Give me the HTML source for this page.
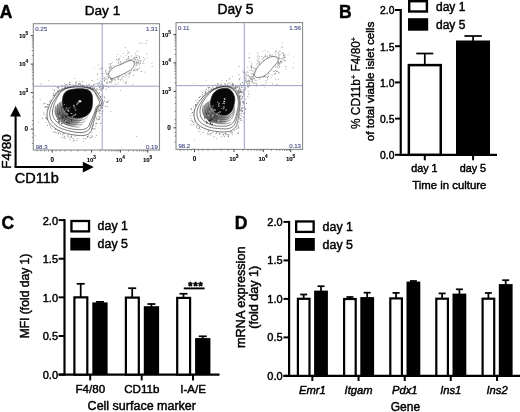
<!DOCTYPE html>
<html><head><meta charset="utf-8"><style>
html,body{margin:0;padding:0;background:#fff;}
body{width:520px;height:412px;position:relative;overflow:hidden;font-family:"Liberation Sans",sans-serif;}
</style></head><body>
<svg width="520" height="412" viewBox="0 0 520 412" style="position:absolute;left:0;top:0;will-change:transform">
<g font-family='"Liberation Sans", sans-serif'>
<text x="-0.3" y="18.2" font-size="17.5" text-anchor="start" font-weight="bold" font-style="normal" fill="#000" stroke="#000" stroke-width="0.45" stroke-linejoin="round" >A</text>
<text x="102.5" y="14.8" font-size="13.6" text-anchor="middle" font-weight="normal" font-style="normal" fill="#000" stroke="#000" stroke-width="0.45" stroke-linejoin="round" >Day 1</text>
<text x="235.5" y="13.8" font-size="13.8" text-anchor="middle" font-weight="normal" font-style="normal" fill="#000" stroke="#000" stroke-width="0.45" stroke-linejoin="round" >Day 5</text>
<rect x="60.76" y="85.9" width="0.8" height="0.8" fill="#777"/>
<rect x="88.88" y="86.1" width="0.8" height="0.8" fill="#777"/>
<rect x="65.64" y="84.97" width="0.7" height="0.7" fill="#777"/>
<rect x="101.39" y="87.65" width="0.9" height="0.9" fill="#777"/>
<rect x="91.9" y="86.49" width="0.9" height="0.9" fill="#777"/>
<rect x="77.17" y="86.08" width="0.9" height="0.9" fill="#777"/>
<rect x="64.33" y="86.73" width="0.8" height="0.8" fill="#777"/>
<rect x="70.87" y="136.74" width="0.8" height="0.8" fill="#777"/>
<rect x="64.6" y="86.76" width="1.0" height="1.0" fill="#777"/>
<rect x="81.82" y="81.35" width="1.0" height="1.0" fill="#777"/>
<rect x="61.79" y="134.6" width="0.7" height="0.7" fill="#777"/>
<rect x="81.98" y="86.14" width="0.8" height="0.8" fill="#777"/>
<rect x="100.8" y="106.97" width="1.0" height="1.0" fill="#777"/>
<rect x="67.95" y="133.99" width="0.8" height="0.8" fill="#777"/>
<rect x="57.67" y="90.22" width="0.7" height="0.7" fill="#777"/>
<rect x="101.55" y="95.73" width="1.0" height="1.0" fill="#777"/>
<rect x="95.87" y="135.04" width="0.8" height="0.8" fill="#777"/>
<rect x="105.24" y="105.94" width="0.7" height="0.7" fill="#777"/>
<rect x="58.74" y="86.16" width="0.8" height="0.8" fill="#777"/>
<rect x="91.49" y="132.6" width="0.8" height="0.8" fill="#777"/>
<rect x="107.23" y="106.1" width="0.8" height="0.8" fill="#777"/>
<rect x="90.53" y="85.61" width="1.0" height="1.0" fill="#777"/>
<rect x="90.94" y="85.23" width="0.7" height="0.7" fill="#777"/>
<rect x="86.99" y="136.1" width="1.0" height="1.0" fill="#777"/>
<rect x="45.55" y="122.04" width="0.7" height="0.7" fill="#777"/>
<rect x="67.51" y="135.07" width="0.8" height="0.8" fill="#777"/>
<rect x="64.77" y="87.72" width="0.8" height="0.8" fill="#777"/>
<rect x="86.29" y="84.15" width="0.7" height="0.7" fill="#777"/>
<rect x="62.56" y="133.5" width="1.0" height="1.0" fill="#777"/>
<rect x="74.76" y="135.72" width="0.8" height="0.8" fill="#777"/>
<rect x="53.86" y="94.99" width="0.9" height="0.9" fill="#777"/>
<rect x="57.6" y="89.79" width="0.7" height="0.7" fill="#777"/>
<rect x="90" y="87.11" width="1.0" height="1.0" fill="#777"/>
<rect x="92.4" y="135.88" width="0.7" height="0.7" fill="#777"/>
<rect x="92.6" y="87.72" width="1.0" height="1.0" fill="#777"/>
<rect x="100.67" y="107.43" width="0.9" height="0.9" fill="#777"/>
<rect x="57.06" y="130.78" width="0.7" height="0.7" fill="#777"/>
<rect x="91.57" y="135.48" width="1.0" height="1.0" fill="#777"/>
<rect x="61.89" y="84.95" width="1.0" height="1.0" fill="#777"/>
<rect x="87.43" y="136" width="0.9" height="0.9" fill="#777"/>
<rect x="66.02" y="84.26" width="0.7" height="0.7" fill="#777"/>
<rect x="96.46" y="90.21" width="0.8" height="0.8" fill="#777"/>
<rect x="46.6" y="118.44" width="0.9" height="0.9" fill="#777"/>
<rect x="99.62" y="111.33" width="0.7" height="0.7" fill="#777"/>
<rect x="98.39" y="118.8" width="1.0" height="1.0" fill="#777"/>
<rect x="98.79" y="108.59" width="0.9" height="0.9" fill="#777"/>
<rect x="87.45" y="85.01" width="1.0" height="1.0" fill="#777"/>
<rect x="95.38" y="125.78" width="0.8" height="0.8" fill="#777"/>
<rect x="53.08" y="94.71" width="0.8" height="0.8" fill="#777"/>
<rect x="64" y="85.62" width="0.7" height="0.7" fill="#777"/>
<rect x="99.58" y="109.68" width="1.0" height="1.0" fill="#777"/>
<rect x="100.49" y="106.34" width="0.9" height="0.9" fill="#777"/>
<rect x="69.89" y="86.37" width="0.9" height="0.9" fill="#777"/>
<rect x="46.17" y="117.69" width="0.9" height="0.9" fill="#777"/>
<rect x="47.16" y="106.05" width="0.8" height="0.8" fill="#777"/>
<rect x="60.15" y="133.31" width="0.9" height="0.9" fill="#777"/>
<rect x="70.73" y="136.43" width="0.7" height="0.7" fill="#777"/>
<rect x="86.65" y="85.77" width="1.0" height="1.0" fill="#777"/>
<rect x="98.16" y="109.19" width="1.0" height="1.0" fill="#777"/>
<rect x="55.41" y="92.63" width="1.0" height="1.0" fill="#777"/>
<rect x="104.33" y="97.52" width="0.9" height="0.9" fill="#777"/>
<rect x="95.96" y="117.64" width="1.0" height="1.0" fill="#777"/>
<rect x="93.17" y="84.15" width="0.9" height="0.9" fill="#777"/>
<rect x="83.71" y="85.09" width="1.0" height="1.0" fill="#777"/>
<rect x="65.37" y="86.48" width="0.7" height="0.7" fill="#777"/>
<rect x="101.05" y="113.68" width="0.7" height="0.7" fill="#777"/>
<rect x="93.5" y="128.54" width="0.9" height="0.9" fill="#777"/>
<rect x="108.1" y="99.77" width="0.7" height="0.7" fill="#777"/>
<rect x="77.3" y="138.23" width="0.8" height="0.8" fill="#777"/>
<rect x="77.93" y="83.51" width="1.0" height="1.0" fill="#777"/>
<rect x="53.12" y="93.27" width="0.9" height="0.9" fill="#777"/>
<rect x="63.34" y="137.2" width="1.0" height="1.0" fill="#777"/>
<rect x="105.38" y="105.94" width="0.8" height="0.8" fill="#777"/>
<rect x="44.05" y="107.28" width="0.7" height="0.7" fill="#777"/>
<rect x="69.69" y="138.88" width="0.9" height="0.9" fill="#777"/>
<rect x="94.6" y="137.27" width="0.7" height="0.7" fill="#777"/>
<rect x="96.59" y="122.7" width="0.9" height="0.9" fill="#777"/>
<rect x="100.63" y="107.33" width="0.9" height="0.9" fill="#777"/>
<rect x="61.74" y="87.71" width="1.0" height="1.0" fill="#777"/>
<rect x="64.56" y="138.2" width="0.8" height="0.8" fill="#777"/>
<rect x="99.38" y="110.07" width="1.0" height="1.0" fill="#777"/>
<rect x="87.49" y="136.99" width="0.7" height="0.7" fill="#777"/>
<rect x="73.76" y="84.98" width="0.9" height="0.9" fill="#777"/>
<rect x="104.4" y="100.44" width="1.0" height="1.0" fill="#777"/>
<rect x="75.81" y="81.22" width="0.7" height="0.7" fill="#777"/>
<rect x="75.15" y="84.15" width="0.7" height="0.7" fill="#777"/>
<rect x="41.82" y="117.98" width="0.9" height="0.9" fill="#777"/>
<rect x="46.35" y="117.35" width="0.8" height="0.8" fill="#777"/>
<rect x="77.56" y="84.86" width="0.9" height="0.9" fill="#777"/>
<rect x="102.83" y="104.62" width="0.9" height="0.9" fill="#777"/>
<rect x="99.12" y="112.91" width="0.9" height="0.9" fill="#777"/>
<rect x="70.41" y="83.88" width="0.8" height="0.8" fill="#777"/>
<rect x="79.42" y="81.19" width="0.7" height="0.7" fill="#777"/>
<rect x="55.79" y="132.43" width="0.9" height="0.9" fill="#777"/>
<rect x="56.86" y="87.29" width="0.8" height="0.8" fill="#777"/>
<rect x="94.45" y="128.28" width="1.0" height="1.0" fill="#777"/>
<rect x="54.09" y="131.29" width="0.7" height="0.7" fill="#777"/>
<rect x="63.58" y="133.21" width="0.9" height="0.9" fill="#777"/>
<rect x="50.41" y="102.6" width="0.7" height="0.7" fill="#777"/>
<rect x="72.69" y="84.63" width="0.7" height="0.7" fill="#777"/>
<rect x="105.9" y="101.93" width="0.8" height="0.8" fill="#777"/>
<rect x="76.19" y="83.22" width="0.9" height="0.9" fill="#777"/>
<rect x="96.32" y="88.87" width="0.9" height="0.9" fill="#777"/>
<rect x="88.82" y="83.57" width="1.0" height="1.0" fill="#777"/>
<rect x="93.86" y="87.62" width="0.9" height="0.9" fill="#777"/>
<rect x="73.12" y="140.56" width="1.0" height="1.0" fill="#777"/>
<rect x="95.41" y="123.41" width="0.7" height="0.7" fill="#777"/>
<rect x="93.14" y="124.87" width="0.9" height="0.9" fill="#777"/>
<rect x="79.14" y="84.12" width="0.7" height="0.7" fill="#777"/>
<rect x="101.99" y="107.73" width="0.7" height="0.7" fill="#777"/>
<rect x="43.51" y="103.1" width="1.0" height="1.0" fill="#777"/>
<rect x="44.91" y="106.93" width="0.8" height="0.8" fill="#777"/>
<rect x="72.56" y="137.98" width="0.9" height="0.9" fill="#777"/>
<rect x="91.34" y="87.6" width="0.9" height="0.9" fill="#777"/>
<rect x="86.7" y="136.26" width="0.7" height="0.7" fill="#777"/>
<rect x="48.91" y="124.37" width="0.9" height="0.9" fill="#777"/>
<rect x="99.48" y="116.23" width="0.8" height="0.8" fill="#777"/>
<rect x="52.78" y="95.7" width="0.8" height="0.8" fill="#777"/>
<rect x="60.81" y="89.23" width="0.9" height="0.9" fill="#777"/>
<rect x="70.81" y="136.39" width="0.9" height="0.9" fill="#777"/>
<rect x="50.41" y="100.59" width="0.7" height="0.7" fill="#777"/>
<rect x="101.81" y="106.61" width="1.0" height="1.0" fill="#777"/>
<rect x="96.83" y="88.32" width="0.7" height="0.7" fill="#777"/>
<rect x="45.71" y="106.22" width="1.0" height="1.0" fill="#777"/>
<rect x="46.2" y="109.46" width="0.7" height="0.7" fill="#777"/>
<rect x="59.06" y="89.59" width="0.8" height="0.8" fill="#777"/>
<rect x="47.19" y="107.4" width="0.9" height="0.9" fill="#777"/>
<rect x="44.94" y="102.99" width="0.7" height="0.7" fill="#777"/>
<rect x="100.27" y="96" width="0.8" height="0.8" fill="#777"/>
<rect x="53.35" y="88.97" width="0.7" height="0.7" fill="#777"/>
<rect x="102.14" y="88.24" width="1.0" height="1.0" fill="#777"/>
<rect x="54.44" y="93.51" width="1.0" height="1.0" fill="#777"/>
<rect x="52.91" y="131.62" width="0.9" height="0.9" fill="#777"/>
<rect x="71.38" y="135.28" width="0.7" height="0.7" fill="#777"/>
<rect x="45.27" y="106.59" width="0.8" height="0.8" fill="#777"/>
<rect x="74.37" y="77.95" width="0.7" height="0.7" fill="#777"/>
<rect x="96.58" y="119.28" width="1.0" height="1.0" fill="#777"/>
<rect x="102.44" y="110.89" width="0.8" height="0.8" fill="#777"/>
<rect x="69.1" y="81.95" width="1.0" height="1.0" fill="#777"/>
<rect x="57.67" y="87.36" width="1.0" height="1.0" fill="#777"/>
<rect x="49.08" y="100.83" width="1.0" height="1.0" fill="#777"/>
<rect x="50.33" y="127.41" width="0.7" height="0.7" fill="#777"/>
<rect x="101.72" y="104.93" width="1.0" height="1.0" fill="#777"/>
<rect x="99" y="87.15" width="0.9" height="0.9" fill="#777"/>
<rect x="55.13" y="94.4" width="0.7" height="0.7" fill="#777"/>
<rect x="43.29" y="113.78" width="0.7" height="0.7" fill="#777"/>
<rect x="58.44" y="132.21" width="0.9" height="0.9" fill="#777"/>
<rect x="67.1" y="84.08" width="0.7" height="0.7" fill="#777"/>
<rect x="99.42" y="112.86" width="0.7" height="0.7" fill="#777"/>
<rect x="68.33" y="136.54" width="1.0" height="1.0" fill="#777"/>
<rect x="88.39" y="135.35" width="0.9" height="0.9" fill="#777"/>
<rect x="51.02" y="128.43" width="0.7" height="0.7" fill="#777"/>
<rect x="90.91" y="136.76" width="0.8" height="0.8" fill="#777"/>
<rect x="58.39" y="133.43" width="0.7" height="0.7" fill="#777"/>
<rect x="47.12" y="103.95" width="1.0" height="1.0" fill="#777"/>
<rect x="82.44" y="85.23" width="0.9" height="0.9" fill="#777"/>
<rect x="55.17" y="131.9" width="0.8" height="0.8" fill="#777"/>
<rect x="71.26" y="136.31" width="0.7" height="0.7" fill="#777"/>
<rect x="58.66" y="90.31" width="0.8" height="0.8" fill="#777"/>
<rect x="64.6" y="135.7" width="0.9" height="0.9" fill="#777"/>
<rect x="68.88" y="84.07" width="1.0" height="1.0" fill="#777"/>
<rect x="98.32" y="118.69" width="1.0" height="1.0" fill="#777"/>
<rect x="93.74" y="85.84" width="0.7" height="0.7" fill="#777"/>
<rect x="53.09" y="94.95" width="1.0" height="1.0" fill="#777"/>
<rect x="98.7" y="92.21" width="1.0" height="1.0" fill="#777"/>
<rect x="73.81" y="139.64" width="0.8" height="0.8" fill="#777"/>
<rect x="95.68" y="123.03" width="1.0" height="1.0" fill="#777"/>
<rect x="82.3" y="85.42" width="1.0" height="1.0" fill="#777"/>
<rect x="46.91" y="119.06" width="1.0" height="1.0" fill="#777"/>
<rect x="93.34" y="84.09" width="1.0" height="1.0" fill="#777"/>
<rect x="107.28" y="101" width="1.0" height="1.0" fill="#777"/>
<rect x="43.39" y="112.3" width="0.7" height="0.7" fill="#777"/>
<rect x="57.93" y="87.6" width="0.8" height="0.8" fill="#777"/>
<rect x="57.46" y="87.06" width="0.9" height="0.9" fill="#777"/>
<rect x="58.09" y="133.08" width="0.8" height="0.8" fill="#777"/>
<rect x="100.39" y="107.99" width="0.7" height="0.7" fill="#777"/>
<rect x="82.54" y="85.63" width="0.9" height="0.9" fill="#777"/>
<rect x="83.14" y="138.21" width="0.8" height="0.8" fill="#777"/>
<rect x="46.94" y="125.09" width="0.9" height="0.9" fill="#777"/>
<rect x="98.73" y="116.58" width="1.0" height="1.0" fill="#777"/>
<rect x="59.53" y="90.75" width="1.0" height="1.0" fill="#777"/>
<rect x="79.94" y="84.7" width="1.0" height="1.0" fill="#777"/>
<rect x="100.17" y="122.83" width="1.0" height="1.0" fill="#777"/>
<rect x="75.16" y="85.05" width="0.9" height="0.9" fill="#777"/>
<rect x="48.15" y="104.12" width="0.8" height="0.8" fill="#777"/>
<rect x="78.7" y="83.02" width="1.0" height="1.0" fill="#777"/>
<rect x="93.83" y="87.72" width="1.0" height="1.0" fill="#777"/>
<rect x="107.01" y="101.82" width="0.9" height="0.9" fill="#777"/>
<rect x="64.12" y="83.1" width="0.7" height="0.7" fill="#777"/>
<rect x="92.14" y="128.09" width="1.0" height="1.0" fill="#777"/>
<rect x="44.46" y="114.13" width="0.8" height="0.8" fill="#777"/>
<rect x="45.21" y="117.51" width="0.9" height="0.9" fill="#777"/>
<rect x="76.27" y="140.17" width="0.9" height="0.9" fill="#777"/>
<rect x="97.46" y="111.2" width="1.0" height="1.0" fill="#777"/>
<rect x="50.14" y="102.65" width="0.7" height="0.7" fill="#777"/>
<rect x="60.76" y="136.72" width="0.9" height="0.9" fill="#777"/>
<rect x="55.96" y="92.17" width="0.7" height="0.7" fill="#777"/>
<rect x="79.99" y="83.24" width="0.9" height="0.9" fill="#777"/>
<rect x="54.01" y="90.25" width="1.0" height="1.0" fill="#777"/>
<rect x="69.41" y="84.11" width="0.8" height="0.8" fill="#777"/>
<rect x="64.24" y="136.55" width="0.8" height="0.8" fill="#777"/>
<rect x="75.32" y="82.16" width="1.0" height="1.0" fill="#777"/>
<rect x="96.72" y="115.68" width="0.7" height="0.7" fill="#777"/>
<rect x="50.85" y="99.64" width="0.8" height="0.8" fill="#777"/>
<rect x="57.1" y="91.04" width="1.0" height="1.0" fill="#777"/>
<rect x="55.07" y="128.92" width="1.0" height="1.0" fill="#777"/>
<rect x="89.88" y="137.18" width="1.0" height="1.0" fill="#777"/>
<rect x="85.24" y="138.18" width="1.0" height="1.0" fill="#777"/>
<rect x="67.18" y="136.69" width="0.7" height="0.7" fill="#777"/>
<rect x="50.37" y="126.24" width="0.8" height="0.8" fill="#777"/>
<rect x="68.08" y="86.27" width="0.8" height="0.8" fill="#777"/>
<rect x="72.25" y="84.73" width="0.7" height="0.7" fill="#777"/>
<rect x="58.13" y="91.24" width="0.9" height="0.9" fill="#777"/>
<rect x="98.57" y="110.58" width="0.8" height="0.8" fill="#777"/>
<rect x="83.08" y="140.95" width="0.7" height="0.7" fill="#777"/>
<rect x="81.72" y="84.77" width="0.9" height="0.9" fill="#777"/>
<rect x="98.93" y="118.29" width="0.8" height="0.8" fill="#777"/>
<rect x="65.22" y="84.4" width="1.0" height="1.0" fill="#777"/>
<rect x="120.13" y="62.44" width="0.9" height="0.9" fill="#888"/>
<rect x="136.05" y="56.96" width="1.0" height="1.0" fill="#888"/>
<rect x="101.29" y="73.29" width="0.8" height="0.8" fill="#888"/>
<rect x="127.27" y="53.27" width="1.0" height="1.0" fill="#888"/>
<rect x="110.47" y="63.02" width="0.9" height="0.9" fill="#888"/>
<rect x="118.59" y="57.87" width="0.9" height="0.9" fill="#888"/>
<rect x="136.68" y="64.49" width="0.7" height="0.7" fill="#888"/>
<rect x="117.58" y="63.03" width="0.8" height="0.8" fill="#888"/>
<rect x="131.49" y="55.31" width="0.8" height="0.8" fill="#888"/>
<rect x="126.08" y="75.23" width="0.8" height="0.8" fill="#888"/>
<rect x="117.97" y="61.92" width="0.8" height="0.8" fill="#888"/>
<rect x="138.37" y="63.06" width="0.9" height="0.9" fill="#888"/>
<rect x="123.89" y="61.39" width="0.7" height="0.7" fill="#888"/>
<rect x="139.86" y="63.01" width="0.8" height="0.8" fill="#888"/>
<rect x="143.01" y="61.17" width="0.8" height="0.8" fill="#888"/>
<rect x="102.66" y="78.25" width="0.8" height="0.8" fill="#888"/>
<rect x="137.61" y="61.72" width="0.9" height="0.9" fill="#888"/>
<rect x="134.52" y="68.7" width="0.9" height="0.9" fill="#888"/>
<rect x="125.97" y="61.16" width="0.9" height="0.9" fill="#888"/>
<rect x="138.57" y="60.36" width="0.7" height="0.7" fill="#888"/>
<rect x="130.17" y="60.42" width="0.9" height="0.9" fill="#888"/>
<rect x="129.52" y="58.76" width="0.9" height="0.9" fill="#888"/>
<rect x="122.93" y="57.24" width="0.7" height="0.7" fill="#888"/>
<rect x="141.91" y="62.7" width="0.8" height="0.8" fill="#888"/>
<rect x="117.59" y="60.39" width="0.9" height="0.9" fill="#888"/>
<rect x="135.23" y="55.52" width="0.7" height="0.7" fill="#888"/>
<rect x="136.19" y="60.68" width="0.8" height="0.8" fill="#888"/>
<rect x="136.33" y="64.86" width="0.9" height="0.9" fill="#888"/>
<rect x="137.01" y="68.52" width="0.9" height="0.9" fill="#888"/>
<rect x="128.24" y="59.61" width="0.9" height="0.9" fill="#888"/>
<rect x="128.31" y="58.2" width="0.9" height="0.9" fill="#888"/>
<rect x="104.69" y="79.25" width="0.8" height="0.8" fill="#888"/>
<rect x="101.47" y="82.7" width="0.9" height="0.9" fill="#888"/>
<rect x="107.14" y="73.32" width="1.0" height="1.0" fill="#888"/>
<rect x="119.46" y="62.52" width="0.7" height="0.7" fill="#888"/>
<rect x="118.27" y="79.22" width="0.9" height="0.9" fill="#888"/>
<rect x="109.15" y="68.36" width="0.7" height="0.7" fill="#888"/>
<rect x="137.03" y="69.92" width="0.9" height="0.9" fill="#888"/>
<rect x="110.04" y="77.94" width="0.9" height="0.9" fill="#888"/>
<rect x="129.18" y="72.56" width="0.8" height="0.8" fill="#888"/>
<rect x="130.82" y="70.25" width="1.0" height="1.0" fill="#888"/>
<rect x="116.14" y="58.92" width="0.8" height="0.8" fill="#888"/>
<rect x="108.58" y="71.25" width="0.8" height="0.8" fill="#888"/>
<rect x="103.9" y="80.9" width="0.7" height="0.7" fill="#888"/>
<rect x="140.84" y="60.08" width="0.8" height="0.8" fill="#888"/>
<rect x="136.32" y="56.75" width="0.9" height="0.9" fill="#888"/>
<rect x="111.01" y="68.57" width="0.9" height="0.9" fill="#888"/>
<rect x="136.91" y="57.37" width="0.7" height="0.7" fill="#888"/>
<rect x="103.84" y="77.43" width="1.0" height="1.0" fill="#888"/>
<rect x="111.8" y="79.49" width="0.9" height="0.9" fill="#888"/>
<rect x="109.28" y="65.58" width="0.8" height="0.8" fill="#888"/>
<rect x="118.09" y="58.57" width="1.0" height="1.0" fill="#888"/>
<rect x="136.56" y="62.45" width="1.0" height="1.0" fill="#888"/>
<rect x="132.92" y="74.95" width="0.9" height="0.9" fill="#888"/>
<rect x="110.07" y="81.56" width="0.9" height="0.9" fill="#888"/>
<rect x="128.06" y="73.27" width="0.8" height="0.8" fill="#888"/>
<rect x="124.9" y="73.79" width="0.9" height="0.9" fill="#888"/>
<rect x="110.96" y="66.62" width="0.9" height="0.9" fill="#888"/>
<rect x="128.01" y="56.22" width="0.8" height="0.8" fill="#888"/>
<rect x="114.01" y="80.78" width="0.7" height="0.7" fill="#888"/>
<rect x="101.47" y="67.08" width="0.7" height="0.7" fill="#888"/>
<rect x="138.35" y="60.69" width="0.7" height="0.7" fill="#888"/>
<rect x="138.58" y="61.37" width="0.9" height="0.9" fill="#888"/>
<rect x="130.26" y="73.84" width="0.7" height="0.7" fill="#888"/>
<rect x="129.97" y="60.59" width="0.7" height="0.7" fill="#888"/>
<rect x="118.24" y="79.19" width="0.7" height="0.7" fill="#888"/>
<rect x="116.1" y="59.38" width="0.8" height="0.8" fill="#888"/>
<rect x="136.72" y="61.87" width="0.9" height="0.9" fill="#888"/>
<rect x="108.15" y="77.6" width="0.9" height="0.9" fill="#888"/>
<rect x="128.93" y="73.18" width="0.9" height="0.9" fill="#888"/>
<rect x="111.06" y="79.7" width="0.8" height="0.8" fill="#888"/>
<rect x="111.33" y="81.22" width="0.7" height="0.7" fill="#888"/>
<rect x="137.31" y="59.13" width="0.7" height="0.7" fill="#888"/>
<rect x="124.64" y="59.52" width="0.8" height="0.8" fill="#888"/>
<rect x="136.02" y="69.42" width="0.7" height="0.7" fill="#888"/>
<rect x="110.79" y="66.8" width="1.0" height="1.0" fill="#888"/>
<rect x="104.69" y="77.31" width="0.8" height="0.8" fill="#888"/>
<rect x="143.11" y="57.26" width="0.7" height="0.7" fill="#888"/>
<rect x="114.56" y="83.66" width="1.0" height="1.0" fill="#888"/>
<rect x="128.5" y="57.35" width="0.8" height="0.8" fill="#888"/>
<rect x="137.75" y="55.26" width="0.7" height="0.7" fill="#888"/>
<rect x="133.65" y="60.73" width="0.9" height="0.9" fill="#888"/>
<rect x="139.13" y="57.7" width="1.0" height="1.0" fill="#888"/>
<rect x="101.57" y="68.06" width="0.8" height="0.8" fill="#888"/>
<rect x="105.07" y="70.94" width="0.7" height="0.7" fill="#888"/>
<rect x="120.22" y="79.47" width="1.0" height="1.0" fill="#888"/>
<rect x="126.56" y="59.13" width="0.8" height="0.8" fill="#888"/>
<rect x="132.76" y="57.99" width="1.0" height="1.0" fill="#888"/>
<rect x="106.76" y="78.33" width="0.8" height="0.8" fill="#888"/>
<rect x="106.08" y="82.59" width="0.7" height="0.7" fill="#888"/>
<rect x="133.69" y="61.34" width="1.0" height="1.0" fill="#888"/>
<rect x="110.3" y="78.11" width="0.7" height="0.7" fill="#888"/>
<rect x="131.31" y="55.98" width="0.7" height="0.7" fill="#888"/>
<rect x="120.68" y="55.76" width="0.8" height="0.8" fill="#888"/>
<rect x="136.03" y="61.58" width="0.9" height="0.9" fill="#888"/>
<rect x="105.33" y="71.63" width="0.9" height="0.9" fill="#888"/>
<rect x="135.58" y="63.15" width="0.9" height="0.9" fill="#888"/>
<rect x="133.69" y="59.05" width="0.8" height="0.8" fill="#888"/>
<rect x="106.82" y="81.45" width="0.9" height="0.9" fill="#888"/>
<rect x="110.99" y="78.62" width="0.8" height="0.8" fill="#888"/>
<rect x="107.23" y="82.73" width="0.8" height="0.8" fill="#888"/>
<rect x="134.31" y="69.76" width="1.0" height="1.0" fill="#888"/>
<rect x="130.36" y="71.8" width="0.7" height="0.7" fill="#888"/>
<rect x="112.61" y="78.59" width="1.0" height="1.0" fill="#888"/>
<rect x="137.39" y="62.01" width="0.9" height="0.9" fill="#888"/>
<rect x="104.04" y="80.39" width="0.8" height="0.8" fill="#888"/>
<rect x="110.27" y="65.34" width="0.7" height="0.7" fill="#888"/>
<rect x="137.03" y="58.96" width="0.8" height="0.8" fill="#888"/>
<rect x="110.61" y="82.27" width="0.7" height="0.7" fill="#888"/>
<rect x="135.18" y="59.98" width="0.7" height="0.7" fill="#888"/>
<rect x="123.12" y="53.05" width="0.7" height="0.7" fill="#888"/>
<rect x="119.22" y="59.5" width="0.9" height="0.9" fill="#888"/>
<rect x="133" y="70.35" width="0.9" height="0.9" fill="#888"/>
<rect x="117.17" y="77.58" width="0.7" height="0.7" fill="#888"/>
<rect x="131.17" y="58.87" width="1.0" height="1.0" fill="#888"/>
<rect x="109.82" y="68.61" width="0.7" height="0.7" fill="#888"/>
<rect x="118.13" y="76.79" width="0.8" height="0.8" fill="#888"/>
<rect x="127.55" y="73.79" width="0.8" height="0.8" fill="#888"/>
<rect x="129.24" y="75.55" width="0.7" height="0.7" fill="#888"/>
<rect x="135.15" y="66.58" width="0.7" height="0.7" fill="#888"/>
<rect x="108.9" y="67.9" width="0.9" height="0.9" fill="#888"/>
<rect x="124.87" y="83.46" width="0.7" height="0.7" fill="#888"/>
<rect x="110.85" y="82.48" width="0.8" height="0.8" fill="#888"/>
<rect x="134.35" y="57.53" width="1.0" height="1.0" fill="#888"/>
<rect x="133.87" y="70.37" width="0.8" height="0.8" fill="#888"/>
<rect x="134.29" y="61.51" width="1.0" height="1.0" fill="#888"/>
<rect x="125.99" y="59.33" width="0.9" height="0.9" fill="#888"/>
<rect x="133.9" y="56.86" width="0.9" height="0.9" fill="#888"/>
<rect x="129.76" y="71.9" width="0.8" height="0.8" fill="#888"/>
<rect x="143.79" y="59.19" width="0.9" height="0.9" fill="#888"/>
<rect x="140.88" y="70.94" width="1.0" height="1.0" fill="#888"/>
<rect x="133.15" y="68.83" width="0.7" height="0.7" fill="#888"/>
<rect x="123.18" y="76.19" width="0.8" height="0.8" fill="#888"/>
<rect x="136.42" y="63.51" width="0.9" height="0.9" fill="#888"/>
<rect x="134.88" y="57.55" width="0.7" height="0.7" fill="#888"/>
<rect x="139.02" y="64.46" width="0.9" height="0.9" fill="#888"/>
<rect x="111.3" y="79.67" width="0.9" height="0.9" fill="#888"/>
<rect x="114.5" y="78.97" width="0.9" height="0.9" fill="#888"/>
<rect x="138.91" y="56.18" width="1.0" height="1.0" fill="#888"/>
<rect x="136.51" y="69.52" width="0.8" height="0.8" fill="#888"/>
<rect x="121.66" y="76.4" width="1.0" height="1.0" fill="#888"/>
<rect x="110.63" y="79.3" width="0.8" height="0.8" fill="#888"/>
<rect x="108.27" y="76.57" width="0.8" height="0.8" fill="#888"/>
<rect x="102.4" y="75.87" width="0.8" height="0.8" fill="#888"/>
<rect x="107.96" y="77.32" width="0.8" height="0.8" fill="#888"/>
<rect x="143.47" y="62.69" width="0.9" height="0.9" fill="#888"/>
<rect x="111.78" y="79.49" width="1.0" height="1.0" fill="#888"/>
<rect x="102.57" y="87.09" width="1.0" height="1.0" fill="#888"/>
<rect x="103.17" y="85.09" width="0.8" height="0.8" fill="#888"/>
<rect x="103.86" y="85.62" width="0.9" height="0.9" fill="#888"/>
<rect x="96.96" y="79.31" width="0.8" height="0.8" fill="#888"/>
<rect x="99.32" y="88.83" width="0.8" height="0.8" fill="#888"/>
<rect x="92.35" y="88.38" width="0.9" height="0.9" fill="#888"/>
<rect x="106.17" y="73.83" width="0.9" height="0.9" fill="#888"/>
<rect x="91.98" y="88.04" width="0.7" height="0.7" fill="#888"/>
<rect x="109.1" y="81.35" width="0.8" height="0.8" fill="#888"/>
<rect x="95.13" y="89.33" width="0.9" height="0.9" fill="#888"/>
<rect x="97.62" y="89.03" width="0.8" height="0.8" fill="#888"/>
<rect x="100.39" y="78.16" width="0.7" height="0.7" fill="#888"/>
<rect x="100.84" y="89.76" width="0.9" height="0.9" fill="#888"/>
<rect x="105.79" y="88.81" width="0.9" height="0.9" fill="#888"/>
<rect x="103.16" y="87.86" width="0.8" height="0.8" fill="#888"/>
<rect x="112.81" y="86.41" width="0.7" height="0.7" fill="#888"/>
<rect x="99.04" y="83.37" width="0.8" height="0.8" fill="#888"/>
<rect x="100.71" y="80.99" width="0.7" height="0.7" fill="#888"/>
<rect x="103.14" y="85.2" width="0.7" height="0.7" fill="#888"/>
<rect x="97.39" y="83.51" width="0.8" height="0.8" fill="#888"/>
<rect x="91.65" y="79.86" width="1.0" height="1.0" fill="#888"/>
<rect x="104.48" y="73.39" width="0.8" height="0.8" fill="#888"/>
<rect x="100.46" y="87.43" width="0.7" height="0.7" fill="#888"/>
<rect x="100.89" y="89.98" width="1.0" height="1.0" fill="#888"/>
<rect x="103.26" y="84.66" width="0.8" height="0.8" fill="#888"/>
<rect x="102.95" y="86.55" width="0.9" height="0.9" fill="#888"/>
<rect x="90.52" y="87.52" width="0.9" height="0.9" fill="#888"/>
<rect x="106.87" y="74.24" width="0.7" height="0.7" fill="#888"/>
<rect x="102.06" y="84.78" width="0.7" height="0.7" fill="#888"/>
<rect x="98.48" y="82.96" width="1.0" height="1.0" fill="#888"/>
<rect x="99.92" y="80.51" width="0.8" height="0.8" fill="#888"/>
<rect x="105.94" y="85.61" width="1.0" height="1.0" fill="#888"/>
<rect x="99.1" y="82.46" width="0.8" height="0.8" fill="#888"/>
<rect x="98.54" y="93.09" width="0.9" height="0.9" fill="#888"/>
<rect x="89" y="87.05" width="0.8" height="0.8" fill="#888"/>
<rect x="105.67" y="78.76" width="1.0" height="1.0" fill="#888"/>
<rect x="108.21" y="87.18" width="0.9" height="0.9" fill="#888"/>
<rect x="100.02" y="89.64" width="0.7" height="0.7" fill="#888"/>
<rect x="100.1" y="88.45" width="1.0" height="1.0" fill="#888"/>
<rect x="99.92" y="86.02" width="0.7" height="0.7" fill="#888"/>
<rect x="103.3" y="87.68" width="0.7" height="0.7" fill="#888"/>
<rect x="97.79" y="84.77" width="1.0" height="1.0" fill="#888"/>
<rect x="111.14" y="79.24" width="0.7" height="0.7" fill="#888"/>
<rect x="100.74" y="83.81" width="1.0" height="1.0" fill="#888"/>
<rect x="99.3" y="86.73" width="0.7" height="0.7" fill="#888"/>
<rect x="105.51" y="69.74" width="1.0" height="1.0" fill="#888"/>
<rect x="99.71" y="85.2" width="0.8" height="0.8" fill="#888"/>
<rect x="107.57" y="83" width="0.8" height="0.8" fill="#999"/>
<rect x="109.24" y="70.24" width="0.7" height="0.7" fill="#999"/>
<rect x="98.12" y="64.71" width="0.8" height="0.8" fill="#999"/>
<rect x="125.63" y="54.91" width="0.8" height="0.8" fill="#999"/>
<rect x="141.53" y="42.83" width="1.0" height="1.0" fill="#999"/>
<rect x="97.19" y="73.53" width="0.8" height="0.8" fill="#999"/>
<rect x="88.43" y="84.44" width="0.9" height="0.9" fill="#999"/>
<rect x="120.24" y="61.11" width="0.9" height="0.9" fill="#999"/>
<rect x="120.06" y="90.26" width="0.8" height="0.8" fill="#999"/>
<rect x="106.14" y="73.97" width="0.8" height="0.8" fill="#999"/>
<rect x="97.22" y="74.22" width="0.8" height="0.8" fill="#999"/>
<rect x="127.32" y="50.55" width="0.9" height="0.9" fill="#999"/>
<rect x="134.84" y="58.92" width="0.7" height="0.7" fill="#999"/>
<rect x="127.23" y="57.74" width="0.8" height="0.8" fill="#999"/>
<rect x="135.89" y="54.91" width="0.8" height="0.8" fill="#999"/>
<rect x="108.25" y="86.63" width="0.8" height="0.8" fill="#999"/>
<rect x="106.93" y="73.13" width="0.8" height="0.8" fill="#999"/>
<rect x="140.04" y="60.64" width="1.0" height="1.0" fill="#999"/>
<rect x="106.66" y="76.08" width="0.9" height="0.9" fill="#999"/>
<rect x="138.95" y="67.33" width="0.9" height="0.9" fill="#999"/>
<rect x="109.24" y="68.41" width="0.7" height="0.7" fill="#999"/>
<rect x="146.34" y="53.41" width="0.9" height="0.9" fill="#999"/>
<rect x="102.28" y="68.48" width="0.8" height="0.8" fill="#999"/>
<rect x="111.62" y="81.42" width="0.7" height="0.7" fill="#999"/>
<rect x="135.35" y="58.79" width="0.8" height="0.8" fill="#999"/>
<rect x="124.96" y="47.25" width="0.9" height="0.9" fill="#999"/>
<rect x="138.13" y="50.79" width="0.7" height="0.7" fill="#999"/>
<rect x="116.26" y="56.07" width="0.7" height="0.7" fill="#999"/>
<rect x="108.74" y="66.91" width="0.9" height="0.9" fill="#999"/>
<rect x="96.95" y="82.69" width="0.9" height="0.9" fill="#999"/>
<rect x="117.24" y="53.96" width="0.8" height="0.8" fill="#999"/>
<rect x="103.5" y="78.86" width="0.7" height="0.7" fill="#999"/>
<rect x="128.16" y="56.02" width="0.9" height="0.9" fill="#999"/>
<rect x="105.72" y="82.25" width="1.0" height="1.0" fill="#999"/>
<rect x="151.51" y="62.74" width="0.9" height="0.9" fill="#999"/>
<rect x="102.81" y="73.09" width="0.7" height="0.7" fill="#999"/>
<rect x="105.98" y="71.82" width="0.7" height="0.7" fill="#999"/>
<rect x="118.21" y="82.58" width="0.8" height="0.8" fill="#999"/>
<rect x="125.38" y="76.58" width="0.7" height="0.7" fill="#999"/>
<rect x="143.58" y="56.82" width="0.7" height="0.7" fill="#999"/>
<rect x="132.14" y="84.13" width="0.9" height="0.9" fill="#999"/>
<rect x="121.06" y="63.13" width="0.8" height="0.8" fill="#999"/>
<rect x="118.87" y="76.46" width="0.8" height="0.8" fill="#999"/>
<rect x="109.06" y="82.26" width="0.9" height="0.9" fill="#999"/>
<rect x="134.76" y="64.13" width="0.7" height="0.7" fill="#999"/>
<rect x="80.77" y="84.69" width="0.9" height="0.9" fill="#999"/>
<rect x="95.51" y="83.47" width="1.0" height="1.0" fill="#999"/>
<rect x="146.55" y="40.26" width="1.0" height="1.0" fill="#999"/>
<rect x="151.75" y="66.1" width="0.9" height="0.9" fill="#999"/>
<rect x="122.55" y="62.17" width="1.0" height="1.0" fill="#999"/>
<rect x="101.68" y="94.29" width="1.0" height="1.0" fill="#999"/>
<rect x="115.27" y="79.96" width="0.7" height="0.7" fill="#999"/>
<rect x="112.03" y="61.85" width="0.8" height="0.8" fill="#999"/>
<rect x="108.03" y="63.56" width="0.8" height="0.8" fill="#999"/>
<rect x="103.75" y="96.44" width="1.0" height="1.0" fill="#999"/>
<rect x="137.88" y="59.8" width="0.7" height="0.7" fill="#999"/>
<rect x="128.45" y="52.03" width="1.0" height="1.0" fill="#999"/>
<rect x="139.3" y="42.5" width="1.0" height="1.0" fill="#999"/>
<rect x="113.41" y="65.59" width="0.7" height="0.7" fill="#999"/>
<rect x="125.43" y="82.37" width="0.9" height="0.9" fill="#999"/>
<rect x="128.36" y="76.63" width="0.8" height="0.8" fill="#999"/>
<rect x="118.26" y="78.01" width="0.7" height="0.7" fill="#999"/>
<rect x="109.79" y="66.68" width="0.8" height="0.8" fill="#999"/>
<rect x="125.57" y="81.15" width="1.0" height="1.0" fill="#999"/>
<rect x="136.65" y="50.66" width="0.8" height="0.8" fill="#999"/>
<rect x="117.56" y="78.71" width="0.7" height="0.7" fill="#999"/>
<rect x="109.78" y="67.36" width="0.7" height="0.7" fill="#999"/>
<rect x="133.9" y="69.97" width="0.8" height="0.8" fill="#999"/>
<rect x="103.8" y="80.05" width="1.0" height="1.0" fill="#999"/>
<rect x="145.43" y="42.89" width="1.0" height="1.0" fill="#999"/>
<rect x="138.12" y="68.48" width="0.7" height="0.7" fill="#999"/>
<rect x="121.61" y="78.77" width="1.0" height="1.0" fill="#999"/>
<rect x="123.91" y="76.54" width="0.7" height="0.7" fill="#999"/>
<rect x="122.97" y="80.92" width="0.8" height="0.8" fill="#999"/>
<rect x="109.94" y="78.68" width="0.9" height="0.9" fill="#999"/>
<rect x="100.02" y="68.9" width="0.7" height="0.7" fill="#999"/>
<rect x="116.56" y="83.84" width="0.8" height="0.8" fill="#999"/>
<rect x="139.54" y="62.51" width="0.9" height="0.9" fill="#999"/>
<rect x="93.94" y="67.62" width="0.7" height="0.7" fill="#999"/>
<rect x="109.76" y="77.36" width="0.9" height="0.9" fill="#999"/>
<rect x="143.76" y="71.66" width="0.9" height="0.9" fill="#999"/>
<rect x="119.84" y="64.25" width="0.9" height="0.9" fill="#999"/>
<rect x="109.95" y="63.57" width="1.0" height="1.0" fill="#999"/>
<rect x="125.71" y="82.82" width="0.9" height="0.9" fill="#999"/>
<rect x="99.44" y="68.26" width="0.9" height="0.9" fill="#999"/>
<rect x="146.53" y="57.79" width="0.8" height="0.8" fill="#999"/>
<rect x="134.56" y="53.17" width="0.9" height="0.9" fill="#999"/>
<rect x="46.79" y="115.29" width="0.8" height="0.8" fill="#aaa"/>
<rect x="136.2" y="135.91" width="1.0" height="1.0" fill="#aaa"/>
<rect x="40.35" y="83.56" width="1.0" height="1.0" fill="#aaa"/>
<rect x="39.76" y="99.33" width="1.0" height="1.0" fill="#aaa"/>
<rect x="110.41" y="111.03" width="0.9" height="0.9" fill="#aaa"/>
<rect x="48.29" y="80.18" width="0.9" height="0.9" fill="#aaa"/>
<rect x="34.8" y="135.35" width="1.0" height="1.0" fill="#aaa"/>
<rect x="38.08" y="122.01" width="0.8" height="0.8" fill="#aaa"/>
<rect x="121.29" y="147.12" width="0.8" height="0.8" fill="#aaa"/>
<path d="M102.89,104 L101.84,104.87 L100.34,105.63 L99.13,106.33 L98.4,107.01 L97.93,107.69 L97.59,108.38 L97.31,109.06 L97.07,109.75 L96.86,110.45 L96.66,111.16 L96.48,111.87 L96.3,112.59 L96.12,113.32 L95.93,114.06 L95.73,114.81 L95.51,115.57 L95.28,116.33 L95.05,117.11 L94.82,117.92 L94.58,118.76 L94.35,119.62 L94.1,120.52 L93.85,121.45 L93.59,122.42 L93.31,123.44 L93.01,124.49 L92.68,125.58 L92.34,126.74 L92,128.01 L91.64,129.36 L91.19,130.68 L90.59,131.86 L89.83,132.81 L88.95,133.57 L87.99,134.19 L86.97,134.68 L85.9,135.04 L84.8,135.3 L83.69,135.47 L82.57,135.56 L81.44,135.59 L80.32,135.56 L79.2,135.5 L78.1,135.41 L77,135.3 L75.91,135.18 L74.83,135.04 L73.75,134.88 L72.68,134.72 L71.62,134.54 L70.55,134.34 L69.49,134.13 L68.43,133.9 L67.36,133.65 L66.3,133.39 L65.24,133.1 L64.19,132.78 L63.13,132.43 L62.08,132.06 L61.04,131.65 L60,131.2 L58.98,130.72 L57.98,130.18 L56.99,129.61 L56.03,128.99 L55.09,128.33 L54.17,127.64 L53.27,126.92 L52.4,126.15 L51.55,125.35 L50.74,124.51 L49.98,123.63 L49.27,122.7 L48.65,121.71 L48.13,120.67 L47.71,119.58 L47.4,118.44 L47.19,117.27 L47.07,116.09 L47.04,114.91 L47.08,113.72 L47.22,112.54 L47.44,111.37 L47.73,110.22 L48.05,109.11 L48.4,108.02 L48.76,106.97 L49.14,105.95 L49.53,104.96 L49.92,104 L50.34,103.07 L50.79,102.17 L51.27,101.3 L51.78,100.46 L52.3,99.64 L52.83,98.86 L53.36,98.11 L53.89,97.37 L54.4,96.66 L54.9,95.95 L55.39,95.27 L55.89,94.6 L56.41,93.96 L56.94,93.33 L57.49,92.74 L58.06,92.17 L58.66,91.63 L59.29,91.13 L59.95,90.68 L60.63,90.26 L61.32,89.88 L62.01,89.53 L62.71,89.21 L63.41,88.91 L64.1,88.63 L64.79,88.37 L65.47,88.13 L66.14,87.9 L66.81,87.69 L67.47,87.5 L68.13,87.31 L68.78,87.14 L69.43,86.99 L70.07,86.85 L70.71,86.73 L71.35,86.62 L71.99,86.53 L72.63,86.46 L73.26,86.4 L73.89,86.34 L74.51,86.31 L75.14,86.28 L75.76,86.26 L76.38,86.24 L77,86.24 L77.62,86.23 L78.24,86.23 L78.87,86.23 L79.5,86.24 L80.13,86.24 L80.77,86.26 L81.42,86.28 L82.07,86.32 L82.73,86.36 L83.39,86.43 L84.07,86.51 L84.74,86.62 L85.42,86.74 L86.11,86.87 L86.8,87.03 L87.5,87.2 L88.2,87.39 L88.92,87.59 L89.64,87.82 L90.38,88.06 L91.12,88.32 L91.87,88.6 L92.63,88.91 L93.39,89.24 L94.16,89.6 L94.9,90.02 L95.58,90.5 L96.19,91.05 L96.72,91.68 L97.18,92.35 L97.6,93.04 L98.03,93.74 L98.48,94.44 L98.96,95.13 L99.45,95.83 L99.95,96.54 L100.46,97.27 L100.96,98.03 L101.46,98.8 L101.93,99.6 L102.38,100.43 L102.78,101.29 L103.09,102.18 L103.22,103.08Z" fill="#fff" stroke="none"/>
<defs><clipPath id="clip1"><path d="M97.79,104 L97.22,104.71 L96.41,105.36 L95.75,105.97 L95.33,106.58 L95.05,107.18 L94.83,107.79 L94.63,108.39 L94.44,109 L94.26,109.61 L94.08,110.22 L93.9,110.83 L93.71,111.44 L93.51,112.05 L93.3,112.67 L93.08,113.29 L92.85,113.9 L92.6,114.52 L92.33,115.14 L92.06,115.77 L91.78,116.4 L91.48,117.04 L91.18,117.69 L90.86,118.35 L90.52,119.01 L90.17,119.69 L89.8,120.38 L89.41,121.08 L89.01,121.8 L88.61,122.57 L88.19,123.38 L87.72,124.16 L87.17,124.86 L86.54,125.43 L85.85,125.89 L85.11,126.28 L84.34,126.58 L83.54,126.81 L82.73,126.98 L81.91,127.09 L81.08,127.15 L80.26,127.18 L79.44,127.17 L78.62,127.14 L77.81,127.08 L77,127.02 L76.2,126.93 L75.4,126.84 L74.61,126.74 L73.82,126.62 L73.03,126.49 L72.25,126.35 L71.46,126.2 L70.68,126.04 L69.9,125.86 L69.12,125.66 L68.34,125.44 L67.56,125.2 L66.79,124.94 L66.02,124.65 L65.26,124.33 L64.52,123.98 L63.78,123.59 L63.07,123.17 L62.38,122.72 L61.7,122.23 L61.05,121.71 L60.42,121.17 L59.8,120.61 L59.2,120.02 L58.63,119.42 L58.07,118.79 L57.55,118.13 L57.05,117.46 L56.6,116.74 L56.21,116 L55.87,115.24 L55.59,114.44 L55.38,113.63 L55.21,112.8 L55.1,111.97 L55.03,111.14 L55.02,110.3 L55.06,109.47 L55.14,108.65 L55.24,107.84 L55.37,107.04 L55.51,106.26 L55.65,105.49 L55.81,104.74 L55.98,104 L56.16,103.27 L56.37,102.56 L56.6,101.86 L56.84,101.17 L57.11,100.49 L57.38,99.83 L57.67,99.18 L57.96,98.54 L58.25,97.91 L58.54,97.28 L58.84,96.66 L59.15,96.05 L59.48,95.45 L59.82,94.87 L60.19,94.29 L60.58,93.74 L61,93.21 L61.45,92.7 L61.94,92.23 L62.45,91.79 L62.99,91.38 L63.54,91 L64.11,90.65 L64.69,90.32 L65.27,90.02 L65.86,89.75 L66.46,89.49 L67.06,89.26 L67.66,89.05 L68.25,88.85 L68.85,88.68 L69.45,88.52 L70.04,88.37 L70.63,88.24 L71.22,88.12 L71.8,88.01 L72.39,87.91 L72.97,87.83 L73.55,87.75 L74.12,87.68 L74.7,87.63 L75.27,87.57 L75.85,87.53 L76.42,87.48 L77,87.45 L77.58,87.42 L78.16,87.39 L78.75,87.37 L79.34,87.36 L79.94,87.35 L80.54,87.35 L81.15,87.36 L81.77,87.38 L82.39,87.41 L83.02,87.47 L83.65,87.54 L84.29,87.63 L84.93,87.74 L85.58,87.86 L86.23,88.01 L86.89,88.17 L87.55,88.36 L88.21,88.57 L88.87,88.81 L89.52,89.08 L90.16,89.38 L90.78,89.73 L91.39,90.1 L91.99,90.51 L92.56,90.94 L93.1,91.42 L93.59,91.95 L94.02,92.52 L94.4,93.13 L94.73,93.77 L95.02,94.42 L95.29,95.08 L95.56,95.74 L95.83,96.39 L96.11,97.04 L96.38,97.7 L96.64,98.37 L96.9,99.04 L97.15,99.72 L97.39,100.4 L97.61,101.1 L97.8,101.81 L97.94,102.54 L97.99,103.27Z"/></clipPath><radialGradient id="rg1"><stop offset="0" stop-color="#505050"/><stop offset="0.6" stop-color="#8a8a8a"/><stop offset="0.9" stop-color="#c8c8c8"/><stop offset="1" stop-color="#fff" stop-opacity="0"/></radialGradient></defs>
<g clip-path="url(#clip1)"><ellipse cx="68" cy="114" rx="22" ry="15" transform="rotate(-35 68 114)" fill="url(#rg1)"/></g>
<defs><clipPath id="clipE1"><ellipse cx="68" cy="116" rx="24" ry="16" transform="rotate(-35 68 116)"/></clipPath></defs>
<path d="M102.89,104 L101.84,104.87 L100.34,105.63 L99.13,106.33 L98.4,107.01 L97.93,107.69 L97.59,108.38 L97.31,109.06 L97.07,109.75 L96.86,110.45 L96.66,111.16 L96.48,111.87 L96.3,112.59 L96.12,113.32 L95.93,114.06 L95.73,114.81 L95.51,115.57 L95.28,116.33 L95.05,117.11 L94.82,117.92 L94.58,118.76 L94.35,119.62 L94.1,120.52 L93.85,121.45 L93.59,122.42 L93.31,123.44 L93.01,124.49 L92.68,125.58 L92.34,126.74 L92,128.01 L91.64,129.36 L91.19,130.68 L90.59,131.86 L89.83,132.81 L88.95,133.57 L87.99,134.19 L86.97,134.68 L85.9,135.04 L84.8,135.3 L83.69,135.47 L82.57,135.56 L81.44,135.59 L80.32,135.56 L79.2,135.5 L78.1,135.41 L77,135.3 L75.91,135.18 L74.83,135.04 L73.75,134.88 L72.68,134.72 L71.62,134.54 L70.55,134.34 L69.49,134.13 L68.43,133.9 L67.36,133.65 L66.3,133.39 L65.24,133.1 L64.19,132.78 L63.13,132.43 L62.08,132.06 L61.04,131.65 L60,131.2 L58.98,130.72 L57.98,130.18 L56.99,129.61 L56.03,128.99 L55.09,128.33 L54.17,127.64 L53.27,126.92 L52.4,126.15 L51.55,125.35 L50.74,124.51 L49.98,123.63 L49.27,122.7 L48.65,121.71 L48.13,120.67 L47.71,119.58 L47.4,118.44 L47.19,117.27 L47.07,116.09 L47.04,114.91 L47.08,113.72 L47.22,112.54 L47.44,111.37 L47.73,110.22 L48.05,109.11 L48.4,108.02 L48.76,106.97 L49.14,105.95 L49.53,104.96 L49.92,104 L50.34,103.07 L50.79,102.17 L51.27,101.3 L51.78,100.46 L52.3,99.64 L52.83,98.86 L53.36,98.11 L53.89,97.37 L54.4,96.66 L54.9,95.95 L55.39,95.27 L55.89,94.6 L56.41,93.96 L56.94,93.33 L57.49,92.74 L58.06,92.17 L58.66,91.63 L59.29,91.13 L59.95,90.68 L60.63,90.26 L61.32,89.88 L62.01,89.53 L62.71,89.21 L63.41,88.91 L64.1,88.63 L64.79,88.37 L65.47,88.13 L66.14,87.9 L66.81,87.69 L67.47,87.5 L68.13,87.31 L68.78,87.14 L69.43,86.99 L70.07,86.85 L70.71,86.73 L71.35,86.62 L71.99,86.53 L72.63,86.46 L73.26,86.4 L73.89,86.34 L74.51,86.31 L75.14,86.28 L75.76,86.26 L76.38,86.24 L77,86.24 L77.62,86.23 L78.24,86.23 L78.87,86.23 L79.5,86.24 L80.13,86.24 L80.77,86.26 L81.42,86.28 L82.07,86.32 L82.73,86.36 L83.39,86.43 L84.07,86.51 L84.74,86.62 L85.42,86.74 L86.11,86.87 L86.8,87.03 L87.5,87.2 L88.2,87.39 L88.92,87.59 L89.64,87.82 L90.38,88.06 L91.12,88.32 L91.87,88.6 L92.63,88.91 L93.39,89.24 L94.16,89.6 L94.9,90.02 L95.58,90.5 L96.19,91.05 L96.72,91.68 L97.18,92.35 L97.6,93.04 L98.03,93.74 L98.48,94.44 L98.96,95.13 L99.45,95.83 L99.95,96.54 L100.46,97.27 L100.96,98.03 L101.46,98.8 L101.93,99.6 L102.38,100.43 L102.78,101.29 L103.09,102.18 L103.22,103.08Z" fill="none" stroke="#1a1a1a" stroke-width="0.6"/>
<path d="M101.35,104 L100.52,104.82 L99.28,105.56 L98.29,106.24 L97.67,106.91 L97.27,107.57 L96.96,108.24 L96.69,108.91 L96.45,109.58 L96.23,110.25 L96.02,110.92 L95.81,111.6 L95.61,112.29 L95.4,112.98 L95.19,113.67 L94.96,114.37 L94.72,115.07 L94.47,115.78 L94.21,116.5 L93.94,117.23 L93.67,117.98 L93.38,118.75 L93.09,119.54 L92.79,120.35 L92.47,121.19 L92.14,122.05 L91.8,122.94 L91.42,123.85 L91.05,124.83 L90.68,125.89 L90.29,127.02 L89.83,128.13 L89.26,129.13 L88.55,129.94 L87.75,130.6 L86.88,131.15 L85.97,131.6 L85.01,131.94 L84.03,132.2 L83.03,132.39 L82.03,132.5 L81.01,132.56 L80,132.57 L79,132.53 L77.99,132.47 L77,132.38 L76.01,132.26 L75.03,132.12 L74.06,131.96 L73.09,131.79 L72.13,131.6 L71.18,131.39 L70.22,131.18 L69.27,130.95 L68.32,130.72 L67.36,130.47 L66.41,130.21 L65.45,129.94 L64.49,129.65 L63.53,129.33 L62.57,128.99 L61.62,128.62 L60.67,128.21 L59.73,127.76 L58.82,127.27 L57.93,126.73 L57.05,126.15 L56.2,125.54 L55.38,124.88 L54.58,124.19 L53.81,123.46 L53.08,122.69 L52.39,121.88 L51.76,121.02 L51.21,120.12 L50.74,119.16 L50.35,118.17 L50.07,117.14 L49.87,116.08 L49.75,115.01 L49.7,113.94 L49.72,112.86 L49.82,111.79 L50,110.73 L50.23,109.69 L50.5,108.67 L50.79,107.68 L51.11,106.72 L51.45,105.79 L51.8,104.88 L52.16,104 L52.55,103.15 L52.96,102.32 L53.41,101.52 L53.88,100.75 L54.35,100.01 L54.83,99.29 L55.3,98.59 L55.76,97.91 L56.2,97.24 L56.62,96.58 L57.03,95.93 L57.43,95.29 L57.84,94.65 L58.25,94.03 L58.68,93.42 L59.13,92.83 L59.6,92.27 L60.11,91.73 L60.66,91.23 L61.23,90.77 L61.83,90.34 L62.45,89.95 L63.09,89.59 L63.73,89.27 L64.39,88.97 L65.04,88.7 L65.7,88.45 L66.36,88.23 L67.02,88.03 L67.67,87.85 L68.32,87.68 L68.97,87.53 L69.6,87.39 L70.23,87.26 L70.86,87.14 L71.48,87.03 L72.1,86.93 L72.72,86.84 L73.34,86.76 L73.95,86.69 L74.56,86.63 L75.17,86.58 L75.78,86.54 L76.39,86.51 L77,86.5 L77.61,86.49 L78.22,86.49 L78.84,86.5 L79.46,86.51 L80.08,86.54 L80.71,86.57 L81.34,86.6 L81.97,86.66 L82.62,86.71 L83.26,86.79 L83.92,86.87 L84.58,86.98 L85.25,87.09 L85.92,87.22 L86.6,87.37 L87.29,87.54 L87.98,87.73 L88.67,87.94 L89.36,88.18 L90.06,88.44 L90.75,88.73 L91.43,89.06 L92.11,89.41 L92.78,89.79 L93.44,90.21 L94.06,90.67 L94.64,91.18 L95.15,91.76 L95.58,92.39 L95.96,93.05 L96.32,93.73 L96.68,94.4 L97.06,95.07 L97.48,95.72 L97.93,96.38 L98.39,97.05 L98.86,97.73 L99.34,98.43 L99.81,99.15 L100.27,99.9 L100.72,100.67 L101.11,101.47 L101.43,102.29 L101.59,103.14Z" fill="none" stroke="#1a1a1a" stroke-width="0.6"/>
<path d="M99.51,104 L98.81,104.76 L97.81,105.46 L97,106.1 L96.5,106.74 L96.18,107.38 L95.93,108.02 L95.71,108.66 L95.51,109.31 L95.31,109.95 L95.12,110.59 L94.92,111.24 L94.72,111.89 L94.51,112.54 L94.28,113.19 L94.04,113.84 L93.78,114.49 L93.51,115.14 L93.23,115.79 L92.94,116.45 L92.65,117.13 L92.35,117.82 L92.04,118.52 L91.72,119.24 L91.39,119.98 L91.05,120.74 L90.69,121.53 L90.32,122.33 L89.93,123.17 L89.55,124.08 L89.15,125.05 L88.69,125.99 L88.14,126.83 L87.47,127.52 L86.73,128.08 L85.93,128.54 L85.1,128.92 L84.23,129.2 L83.34,129.41 L82.43,129.56 L81.52,129.65 L80.61,129.7 L79.7,129.71 L78.8,129.69 L77.9,129.65 L77,129.6 L76.11,129.52 L75.22,129.43 L74.34,129.33 L73.46,129.22 L72.58,129.09 L71.7,128.94 L70.82,128.77 L69.95,128.59 L69.07,128.39 L68.2,128.17 L67.33,127.93 L66.47,127.66 L65.6,127.37 L64.75,127.05 L63.9,126.69 L63.06,126.31 L62.24,125.89 L61.43,125.43 L60.64,124.93 L59.88,124.4 L59.13,123.84 L58.4,123.26 L57.69,122.64 L57,122 L56.34,121.34 L55.7,120.64 L55.09,119.92 L54.53,119.16 L54.02,118.36 L53.59,117.52 L53.22,116.64 L52.94,115.74 L52.73,114.81 L52.58,113.87 L52.51,112.92 L52.49,111.97 L52.54,111.01 L52.65,110.07 L52.82,109.14 L53.01,108.23 L53.23,107.34 L53.46,106.47 L53.7,105.63 L53.96,104.8 L54.22,104 L54.49,103.21 L54.79,102.45 L55.12,101.7 L55.46,100.97 L55.82,100.27 L56.18,99.57 L56.55,98.9 L56.91,98.24 L57.27,97.59 L57.62,96.95 L57.97,96.31 L58.33,95.69 L58.7,95.07 L59.08,94.47 L59.48,93.89 L59.91,93.32 L60.35,92.77 L60.83,92.25 L61.35,91.77 L61.88,91.32 L62.44,90.89 L63.01,90.49 L63.6,90.13 L64.2,89.78 L64.8,89.47 L65.41,89.17 L66.03,88.9 L66.65,88.65 L67.26,88.42 L67.89,88.21 L68.51,88.03 L69.13,87.86 L69.75,87.72 L70.37,87.59 L70.99,87.48 L71.6,87.38 L72.21,87.31 L72.82,87.24 L73.43,87.19 L74.03,87.15 L74.63,87.13 L75.22,87.1 L75.82,87.09 L76.41,87.07 L77,87.07 L77.59,87.06 L78.18,87.06 L78.78,87.06 L79.38,87.06 L79.99,87.07 L80.6,87.08 L81.21,87.1 L81.84,87.13 L82.47,87.17 L83.1,87.24 L83.74,87.31 L84.39,87.41 L85.04,87.51 L85.7,87.64 L86.36,87.79 L87.03,87.95 L87.7,88.14 L88.38,88.34 L89.05,88.58 L89.73,88.83 L90.39,89.12 L91.05,89.45 L91.71,89.8 L92.35,90.17 L92.98,90.59 L93.58,91.04 L94.13,91.55 L94.62,92.12 L95.04,92.73 L95.41,93.37 L95.74,94.04 L96.06,94.7 L96.39,95.37 L96.73,96.03 L97.08,96.69 L97.43,97.36 L97.78,98.04 L98.13,98.73 L98.48,99.43 L98.81,100.15 L99.12,100.89 L99.4,101.65 L99.62,102.42 L99.72,103.21Z" fill="none" stroke="#1a1a1a" stroke-width="0.6"/>
<g clip-path="url(#clipE1)">
<path d="M97.79,104 L97.22,104.71 L96.41,105.36 L95.75,105.97 L95.33,106.58 L95.05,107.18 L94.83,107.79 L94.63,108.39 L94.44,109 L94.26,109.61 L94.08,110.22 L93.9,110.83 L93.71,111.44 L93.51,112.05 L93.3,112.67 L93.08,113.29 L92.85,113.9 L92.6,114.52 L92.33,115.14 L92.06,115.77 L91.78,116.4 L91.48,117.04 L91.18,117.69 L90.86,118.35 L90.52,119.01 L90.17,119.69 L89.8,120.38 L89.41,121.08 L89.01,121.8 L88.61,122.57 L88.19,123.38 L87.72,124.16 L87.17,124.86 L86.54,125.43 L85.85,125.89 L85.11,126.28 L84.34,126.58 L83.54,126.81 L82.73,126.98 L81.91,127.09 L81.08,127.15 L80.26,127.18 L79.44,127.17 L78.62,127.14 L77.81,127.08 L77,127.02 L76.2,126.93 L75.4,126.84 L74.61,126.74 L73.82,126.62 L73.03,126.49 L72.25,126.35 L71.46,126.2 L70.68,126.04 L69.9,125.86 L69.12,125.66 L68.34,125.44 L67.56,125.2 L66.79,124.94 L66.02,124.65 L65.26,124.33 L64.52,123.98 L63.78,123.59 L63.07,123.17 L62.38,122.72 L61.7,122.23 L61.05,121.71 L60.42,121.17 L59.8,120.61 L59.2,120.02 L58.63,119.42 L58.07,118.79 L57.55,118.13 L57.05,117.46 L56.6,116.74 L56.21,116 L55.87,115.24 L55.59,114.44 L55.38,113.63 L55.21,112.8 L55.1,111.97 L55.03,111.14 L55.02,110.3 L55.06,109.47 L55.14,108.65 L55.24,107.84 L55.37,107.04 L55.51,106.26 L55.65,105.49 L55.81,104.74 L55.98,104 L56.16,103.27 L56.37,102.56 L56.6,101.86 L56.84,101.17 L57.11,100.49 L57.38,99.83 L57.67,99.18 L57.96,98.54 L58.25,97.91 L58.54,97.28 L58.84,96.66 L59.15,96.05 L59.48,95.45 L59.82,94.87 L60.19,94.29 L60.58,93.74 L61,93.21 L61.45,92.7 L61.94,92.23 L62.45,91.79 L62.99,91.38 L63.54,91 L64.11,90.65 L64.69,90.32 L65.27,90.02 L65.86,89.75 L66.46,89.49 L67.06,89.26 L67.66,89.05 L68.25,88.85 L68.85,88.68 L69.45,88.52 L70.04,88.37 L70.63,88.24 L71.22,88.12 L71.8,88.01 L72.39,87.91 L72.97,87.83 L73.55,87.75 L74.12,87.68 L74.7,87.63 L75.27,87.57 L75.85,87.53 L76.42,87.48 L77,87.45 L77.58,87.42 L78.16,87.39 L78.75,87.37 L79.34,87.36 L79.94,87.35 L80.54,87.35 L81.15,87.36 L81.77,87.38 L82.39,87.41 L83.02,87.47 L83.65,87.54 L84.29,87.63 L84.93,87.74 L85.58,87.86 L86.23,88.01 L86.89,88.17 L87.55,88.36 L88.21,88.57 L88.87,88.81 L89.52,89.08 L90.16,89.38 L90.78,89.73 L91.39,90.1 L91.99,90.51 L92.56,90.94 L93.1,91.42 L93.59,91.95 L94.02,92.52 L94.4,93.13 L94.73,93.77 L95.02,94.42 L95.29,95.08 L95.56,95.74 L95.83,96.39 L96.11,97.04 L96.38,97.7 L96.64,98.37 L96.9,99.04 L97.15,99.72 L97.39,100.4 L97.61,101.1 L97.8,101.81 L97.94,102.54 L97.99,103.27Z" fill="none" stroke="#1a1a1a" stroke-width="0.45"/>
<path d="M96.65,104 L96.23,104.67 L95.62,105.3 L95.11,105.9 L94.77,106.5 L94.53,107.09 L94.31,107.68 L94.12,108.27 L93.92,108.85 L93.71,109.43 L93.51,110.01 L93.3,110.59 L93.09,111.16 L92.87,111.74 L92.64,112.31 L92.4,112.89 L92.15,113.47 L91.89,114.04 L91.61,114.62 L91.33,115.19 L91.03,115.77 L90.72,116.35 L90.39,116.93 L90.05,117.51 L89.68,118.08 L89.3,118.66 L88.9,119.23 L88.48,119.8 L88.05,120.39 L87.62,121 L87.18,121.63 L86.7,122.24 L86.16,122.79 L85.56,123.24 L84.92,123.61 L84.25,123.91 L83.55,124.17 L82.84,124.36 L82.11,124.51 L81.38,124.63 L80.65,124.7 L79.92,124.75 L79.18,124.77 L78.45,124.77 L77.72,124.76 L77,124.73 L76.28,124.67 L75.56,124.61 L74.84,124.53 L74.13,124.44 L73.42,124.33 L72.71,124.2 L72,124.06 L71.29,123.91 L70.58,123.75 L69.88,123.57 L69.17,123.37 L68.47,123.16 L67.77,122.93 L67.07,122.68 L66.37,122.4 L65.69,122.1 L65.02,121.77 L64.36,121.4 L63.72,120.99 L63.11,120.56 L62.51,120.09 L61.93,119.6 L61.38,119.08 L60.85,118.54 L60.34,117.98 L59.86,117.39 L59.41,116.78 L58.99,116.15 L58.61,115.49 L58.27,114.81 L57.99,114.11 L57.75,113.39 L57.56,112.65 L57.42,111.91 L57.31,111.17 L57.24,110.42 L57.21,109.68 L57.21,108.93 L57.25,108.2 L57.3,107.47 L57.37,106.76 L57.45,106.06 L57.53,105.36 L57.63,104.68 L57.74,104 L57.86,103.33 L58.01,102.67 L58.18,102.02 L58.37,101.38 L58.57,100.75 L58.79,100.13 L59.02,99.52 L59.26,98.91 L59.5,98.31 L59.74,97.72 L59.98,97.12 L60.23,96.53 L60.49,95.95 L60.77,95.37 L61.06,94.8 L61.37,94.23 L61.71,93.69 L62.08,93.16 L62.49,92.66 L62.92,92.19 L63.39,91.75 L63.88,91.33 L64.4,90.95 L64.93,90.6 L65.49,90.28 L66.05,89.99 L66.63,89.72 L67.21,89.49 L67.8,89.27 L68.39,89.09 L68.98,88.92 L69.57,88.77 L70.16,88.64 L70.74,88.51 L71.32,88.4 L71.9,88.29 L72.47,88.19 L73.04,88.1 L73.6,88.01 L74.17,87.92 L74.73,87.85 L75.29,87.78 L75.86,87.71 L76.43,87.66 L77,87.62 L77.57,87.58 L78.15,87.56 L78.73,87.55 L79.31,87.55 L79.9,87.57 L80.49,87.6 L81.08,87.63 L81.68,87.69 L82.28,87.75 L82.88,87.84 L83.49,87.93 L84.1,88.04 L84.73,88.16 L85.35,88.29 L85.99,88.44 L86.63,88.6 L87.27,88.78 L87.91,88.98 L88.55,89.21 L89.18,89.48 L89.8,89.79 L90.39,90.14 L90.96,90.52 L91.51,90.94 L92.03,91.39 L92.51,91.88 L92.95,92.41 L93.33,92.99 L93.66,93.59 L93.94,94.22 L94.19,94.86 L94.42,95.5 L94.65,96.14 L94.88,96.78 L95.11,97.41 L95.33,98.04 L95.56,98.68 L95.79,99.32 L96.01,99.96 L96.22,100.61 L96.41,101.27 L96.59,101.94 L96.72,102.62 L96.78,103.31Z" fill="none" stroke="#1a1a1a" stroke-width="0.45"/>
<path d="M95.21,104 L94.92,104.63 L94.51,105.22 L94.16,105.8 L93.93,106.38 L93.76,106.96 L93.61,107.53 L93.46,108.1 L93.3,108.68 L93.13,109.24 L92.95,109.8 L92.75,110.36 L92.54,110.92 L92.31,111.47 L92.07,112.01 L91.81,112.55 L91.54,113.09 L91.25,113.61 L90.95,114.14 L90.64,114.65 L90.31,115.17 L89.97,115.68 L89.62,116.19 L89.25,116.69 L88.87,117.18 L88.47,117.67 L88.06,118.16 L87.64,118.65 L87.21,119.14 L86.77,119.64 L86.33,120.16 L85.86,120.65 L85.34,121.1 L84.78,121.47 L84.18,121.78 L83.57,122.04 L82.93,122.25 L82.28,122.42 L81.62,122.54 L80.96,122.64 L80.3,122.7 L79.63,122.73 L78.97,122.75 L78.31,122.74 L77.65,122.73 L77,122.69 L76.35,122.65 L75.7,122.59 L75.05,122.52 L74.41,122.44 L73.77,122.34 L73.13,122.22 L72.49,122.1 L71.85,121.96 L71.22,121.8 L70.58,121.63 L69.96,121.44 L69.33,121.23 L68.71,121 L68.1,120.75 L67.49,120.47 L66.89,120.17 L66.31,119.85 L65.74,119.5 L65.19,119.11 L64.66,118.7 L64.15,118.28 L63.64,117.83 L63.16,117.37 L62.68,116.89 L62.23,116.4 L61.79,115.89 L61.37,115.36 L60.97,114.81 L60.6,114.25 L60.26,113.66 L59.96,113.06 L59.7,112.44 L59.48,111.8 L59.3,111.15 L59.16,110.49 L59.05,109.83 L58.98,109.17 L58.95,108.5 L58.94,107.84 L58.96,107.18 L58.99,106.53 L59.03,105.89 L59.08,105.25 L59.14,104.62 L59.21,104 L59.29,103.38 L59.38,102.77 L59.5,102.16 L59.63,101.56 L59.77,100.96 L59.92,100.37 L60.09,99.78 L60.26,99.2 L60.45,98.62 L60.63,98.04 L60.83,97.47 L61.03,96.89 L61.25,96.32 L61.49,95.75 L61.74,95.19 L62.02,94.64 L62.32,94.1 L62.65,93.58 L63.02,93.08 L63.43,92.61 L63.86,92.16 L64.31,91.74 L64.79,91.35 L65.29,90.99 L65.81,90.66 L66.34,90.35 L66.89,90.08 L67.44,89.83 L68,89.6 L68.58,89.41 L69.15,89.24 L69.73,89.09 L70.3,88.95 L70.87,88.84 L71.44,88.74 L72.01,88.64 L72.57,88.56 L73.13,88.49 L73.69,88.42 L74.24,88.36 L74.79,88.3 L75.34,88.24 L75.89,88.18 L76.45,88.13 L77,88.08 L77.56,88.03 L78.12,87.99 L78.69,87.96 L79.26,87.93 L79.84,87.9 L80.42,87.89 L81.02,87.89 L81.62,87.91 L82.22,87.94 L82.83,87.99 L83.44,88.05 L84.06,88.14 L84.68,88.25 L85.31,88.37 L85.94,88.51 L86.57,88.68 L87.2,88.87 L87.83,89.09 L88.45,89.34 L89.05,89.64 L89.63,89.97 L90.18,90.35 L90.71,90.76 L91.2,91.21 L91.67,91.69 L92.09,92.21 L92.47,92.76 L92.81,93.34 L93.09,93.94 L93.34,94.57 L93.54,95.2 L93.72,95.84 L93.89,96.48 L94.06,97.11 L94.22,97.73 L94.37,98.36 L94.52,98.98 L94.66,99.6 L94.8,100.22 L94.93,100.84 L95.06,101.46 L95.17,102.09 L95.26,102.72 L95.3,103.36Z" fill="none" stroke="#1a1a1a" stroke-width="0.45"/>
<path d="M94,104 L93.81,104.59 L93.55,105.16 L93.32,105.72 L93.15,106.27 L93,106.82 L92.87,107.37 L92.73,107.92 L92.58,108.47 L92.41,109.01 L92.24,109.55 L92.05,110.08 L91.85,110.61 L91.63,111.14 L91.4,111.66 L91.15,112.17 L90.89,112.68 L90.61,113.18 L90.31,113.67 L89.99,114.15 L89.65,114.62 L89.29,115.07 L88.92,115.51 L88.53,115.94 L88.11,116.34 L87.68,116.73 L87.24,117.11 L86.79,117.48 L86.34,117.84 L85.87,118.2 L85.41,118.56 L84.93,118.91 L84.42,119.22 L83.9,119.49 L83.35,119.72 L82.8,119.93 L82.23,120.1 L81.66,120.24 L81.08,120.36 L80.5,120.46 L79.91,120.53 L79.33,120.58 L78.75,120.62 L78.16,120.64 L77.58,120.65 L77,120.64 L76.42,120.62 L75.84,120.58 L75.26,120.53 L74.69,120.47 L74.11,120.39 L73.54,120.29 L72.96,120.19 L72.39,120.08 L71.82,119.94 L71.25,119.8 L70.68,119.64 L70.12,119.46 L69.56,119.26 L69.01,119.03 L68.46,118.78 L67.93,118.51 L67.42,118.21 L66.92,117.88 L66.45,117.51 L65.99,117.12 L65.56,116.71 L65.14,116.28 L64.75,115.83 L64.37,115.38 L64,114.91 L63.65,114.43 L63.32,113.94 L63,113.44 L62.7,112.94 L62.41,112.42 L62.15,111.9 L61.91,111.36 L61.69,110.82 L61.5,110.26 L61.33,109.71 L61.18,109.14 L61.05,108.57 L60.95,108 L60.87,107.43 L60.81,106.85 L60.76,106.28 L60.73,105.71 L60.71,105.14 L60.7,104.57 L60.71,104 L60.73,103.43 L60.76,102.86 L60.82,102.3 L60.88,101.74 L60.97,101.17 L61.07,100.61 L61.18,100.06 L61.3,99.5 L61.43,98.94 L61.57,98.38 L61.71,97.82 L61.86,97.26 L62.03,96.7 L62.21,96.14 L62.41,95.58 L62.63,95.02 L62.89,94.48 L63.17,93.95 L63.49,93.45 L63.85,92.97 L64.24,92.51 L64.66,92.08 L65.11,91.69 L65.58,91.32 L66.08,90.98 L66.59,90.68 L67.12,90.4 L67.65,90.14 L68.2,89.92 L68.76,89.72 L69.31,89.55 L69.87,89.39 L70.43,89.25 L70.99,89.12 L71.54,89 L72.09,88.9 L72.64,88.8 L73.19,88.71 L73.73,88.63 L74.28,88.56 L74.82,88.5 L75.36,88.44 L75.91,88.39 L76.45,88.35 L77,88.32 L77.55,88.3 L78.1,88.28 L78.65,88.27 L79.21,88.27 L79.77,88.28 L80.34,88.29 L80.91,88.31 L81.49,88.34 L82.07,88.39 L82.66,88.44 L83.26,88.5 L83.86,88.58 L84.48,88.67 L85.09,88.78 L85.72,88.9 L86.35,89.04 L86.98,89.21 L87.6,89.41 L88.22,89.64 L88.81,89.92 L89.38,90.25 L89.91,90.63 L90.41,91.05 L90.87,91.51 L91.3,92 L91.68,92.53 L92.01,93.09 L92.31,93.67 L92.56,94.28 L92.78,94.89 L92.96,95.52 L93.11,96.14 L93.24,96.77 L93.37,97.39 L93.48,98 L93.58,98.61 L93.67,99.22 L93.76,99.82 L93.84,100.42 L93.92,101.02 L93.98,101.61 L94.04,102.21 L94.07,102.81 L94.08,103.4Z" fill="none" stroke="#1a1a1a" stroke-width="0.45"/>
</g>
<path d="M62.5,100 L62.57,99.23 L62.68,98.44 L62.81,97.64 L62.97,96.84 L63.17,96.07 L63.4,95.32 L63.68,94.63 L64,94 L64.36,93.43 L64.75,92.9 L65.19,92.42 L65.66,91.97 L66.17,91.56 L66.73,91.18 L67.34,90.82 L68,90.5 L68.72,90.21 L69.52,89.95 L70.36,89.73 L71.25,89.54 L72.17,89.38 L73.11,89.24 L74.06,89.11 L75,89 L75.97,88.9 L76.98,88.81 L78.01,88.75 L79.06,88.7 L80.1,88.68 L81.12,88.69 L82.09,88.73 L83,88.8 L83.87,88.9 L84.71,89.03 L85.53,89.18 L86.31,89.36 L87.06,89.57 L87.76,89.83 L88.41,90.14 L89,90.5 L89.54,90.91 L90.02,91.37 L90.45,91.87 L90.84,92.42 L91.19,93.01 L91.5,93.63 L91.77,94.3 L92,95 L92.19,95.76 L92.34,96.57 L92.44,97.44 L92.5,98.34 L92.53,99.27 L92.54,100.19 L92.53,101.11 L92.5,102 L92.46,102.89 L92.41,103.79 L92.34,104.69 L92.25,105.59 L92.12,106.48 L91.96,107.36 L91.75,108.2 L91.5,109 L91.2,109.78 L90.86,110.54 L90.48,111.28 L90.06,112 L89.61,112.69 L89.11,113.34 L88.57,113.94 L88,114.5 L87.38,115.01 L86.7,115.48 L85.98,115.92 L85.22,116.31 L84.43,116.67 L83.63,116.98 L82.81,117.26 L82,117.5 L81.17,117.7 L80.3,117.86 L79.4,117.98 L78.5,118.06 L77.6,118.11 L76.7,118.11 L75.83,118.07 L75,118 L74.19,117.89 L73.38,117.75 L72.59,117.56 L71.81,117.34 L71.06,117.08 L70.34,116.77 L69.65,116.41 L69,116 L68.39,115.52 L67.81,114.96 L67.27,114.34 L66.75,113.69 L66.27,113.01 L65.81,112.32 L65.39,111.65 L65,111 L64.64,110.38 L64.32,109.77 L64.04,109.17 L63.78,108.56 L63.55,107.95 L63.35,107.32 L63.16,106.67 L63,106 L62.85,105.3 L62.72,104.57 L62.61,103.82 L62.53,103.06 L62.48,102.29 L62.45,101.52 L62.46,100.76Z" fill="#080808" stroke="#222" stroke-width="0.8"/>
<ellipse cx="63.54" cy="121.37" rx="1.46" ry="0.51" transform="rotate(-60.42 63.54 121.37)" fill="#999"/>
<ellipse cx="59.35" cy="116.29" rx="1.42" ry="0.38" transform="rotate(-62.16 59.35 116.29)" fill="#999"/>
<ellipse cx="72.54" cy="116.19" rx="1.46" ry="0.41" transform="rotate(-35.36 72.54 116.19)" fill="#888"/>
<ellipse cx="65.68" cy="121.3" rx="1.35" ry="0.57" transform="rotate(-49.69 65.68 121.3)" fill="#bbb"/>
<ellipse cx="74.81" cy="107.97" rx="0.97" ry="0.45" transform="rotate(-59.4 74.81 107.97)" fill="#999"/>
<ellipse cx="74.16" cy="106.46" rx="1.12" ry="0.56" transform="rotate(-46.26 74.16 106.46)" fill="#999"/>
<ellipse cx="69.02" cy="108.36" rx="1.15" ry="0.48" transform="rotate(-58.75 69.02 108.36)" fill="#777"/>
<ellipse cx="72.31" cy="117.13" rx="1.22" ry="0.55" transform="rotate(-62.41 72.31 117.13)" fill="#888"/>
<ellipse cx="60.68" cy="120.29" rx="1.26" ry="0.5" transform="rotate(-65.95 60.68 120.29)" fill="#bbb"/>
<ellipse cx="67.93" cy="110.13" rx="1.09" ry="0.47" transform="rotate(-51.23 67.93 110.13)" fill="#bbb"/>
<ellipse cx="65.86" cy="109.75" rx="0.86" ry="0.58" transform="rotate(-48.26 65.86 109.75)" fill="#777"/>
<ellipse cx="75.36" cy="114.53" rx="1.12" ry="0.6" transform="rotate(-42.74 75.36 114.53)" fill="#bbb"/>
<ellipse cx="62.75" cy="122.69" rx="1.35" ry="0.4" transform="rotate(-50.86 62.75 122.69)" fill="#777"/>
<ellipse cx="64.42" cy="111.46" rx="0.99" ry="0.43" transform="rotate(-42.8 64.42 111.46)" fill="#aaa"/>
<ellipse cx="75.58" cy="110.09" rx="1.26" ry="0.57" transform="rotate(-52.64 75.58 110.09)" fill="#888"/>
<ellipse cx="77.28" cy="104.26" rx="1.35" ry="0.57" transform="rotate(-45.38 77.28 104.26)" fill="#888"/>
<ellipse cx="58.29" cy="123.31" rx="0.71" ry="0.5" transform="rotate(-48.06 58.29 123.31)" fill="#aaa"/>
<ellipse cx="66.23" cy="121.03" rx="1.08" ry="0.45" transform="rotate(-45.58 66.23 121.03)" fill="#aaa"/>
<ellipse cx="57.18" cy="115.21" rx="1.28" ry="0.42" transform="rotate(-31.69 57.18 115.21)" fill="#888"/>
<ellipse cx="74.52" cy="118.47" rx="0.83" ry="0.49" transform="rotate(-32.16 74.52 118.47)" fill="#999"/>
<ellipse cx="64.45" cy="113.47" rx="1.45" ry="0.53" transform="rotate(-45.88 64.45 113.47)" fill="#777"/>
<ellipse cx="65.56" cy="113.72" rx="1.12" ry="0.53" transform="rotate(-53.63 65.56 113.72)" fill="#bbb"/>
<ellipse cx="63.03" cy="116.47" rx="1.02" ry="0.37" transform="rotate(-47.4 63.03 116.47)" fill="#333"/>
<ellipse cx="62.58" cy="115.43" rx="1.31" ry="0.43" transform="rotate(-66.42 62.58 115.43)" fill="#222"/>
<ellipse cx="58.88" cy="120.73" rx="1.48" ry="0.37" transform="rotate(-63.51 58.88 120.73)" fill="#555"/>
<ellipse cx="66.32" cy="116.17" rx="1.43" ry="0.54" transform="rotate(-48.81 66.32 116.17)" fill="#222"/>
<ellipse cx="62.43" cy="107.25" rx="0.86" ry="0.37" transform="rotate(-43.73 62.43 107.25)" fill="#444"/>
<ellipse cx="62.86" cy="119.06" rx="0.8" ry="0.53" transform="rotate(-69.27 62.86 119.06)" fill="#555"/>
<ellipse cx="62.18" cy="107.38" rx="1.3" ry="0.39" transform="rotate(-43.03 62.18 107.38)" fill="#222"/>
<ellipse cx="71.57" cy="120.04" rx="0.92" ry="0.37" transform="rotate(-60.3 71.57 120.04)" fill="#111"/>
<ellipse cx="68.94" cy="122.87" rx="1.21" ry="0.48" transform="rotate(-62.39 68.94 122.87)" fill="#333"/>
<ellipse cx="59.63" cy="122.06" rx="1.14" ry="0.41" transform="rotate(-68.83 59.63 122.06)" fill="#444"/>
<ellipse cx="61.66" cy="123.69" rx="0.85" ry="0.46" transform="rotate(-50.81 61.66 123.69)" fill="#222"/>
<ellipse cx="59.15" cy="118.4" rx="1.26" ry="0.49" transform="rotate(-40.59 59.15 118.4)" fill="#555"/>
<ellipse cx="64.3" cy="120.73" rx="1.43" ry="0.39" transform="rotate(-45.27 64.3 120.73)" fill="#333"/>
<ellipse cx="58.96" cy="121.26" rx="0.87" ry="0.37" transform="rotate(-56.03 58.96 121.26)" fill="#555"/>
<ellipse cx="57.53" cy="119.33" rx="1.04" ry="0.4" transform="rotate(-56.63 57.53 119.33)" fill="#555"/>
<ellipse cx="59.26" cy="113.71" rx="1.2" ry="0.36" transform="rotate(-56.2 59.26 113.71)" fill="#444"/>
<ellipse cx="59.02" cy="122.8" rx="0.74" ry="0.52" transform="rotate(-32.29 59.02 122.8)" fill="#555"/>
<ellipse cx="62.56" cy="117.75" rx="1.35" ry="0.55" transform="rotate(-53.3 62.56 117.75)" fill="#222"/>
<ellipse cx="59.79" cy="112.57" rx="0.88" ry="0.42" transform="rotate(-50.39 59.79 112.57)" fill="#444"/>
<ellipse cx="57.81" cy="114.09" rx="1.25" ry="0.44" transform="rotate(-34.41 57.81 114.09)" fill="#555"/>
<ellipse cx="67.38" cy="122.36" rx="1.16" ry="0.52" transform="rotate(-62.28 67.38 122.36)" fill="#555"/>
<ellipse cx="66.79" cy="115.34" rx="0.99" ry="0.54" transform="rotate(-35.84 66.79 115.34)" fill="#333"/>
<ellipse cx="65.68" cy="113.98" rx="1.19" ry="0.52" transform="rotate(-53.35 65.68 113.98)" fill="#333"/>
<ellipse cx="66.08" cy="116.74" rx="1.14" ry="0.49" transform="rotate(-37.52 66.08 116.74)" fill="#222"/>
<ellipse cx="66.56" cy="122.12" rx="0.76" ry="0.54" transform="rotate(-66.86 66.56 122.12)" fill="#111"/>
<ellipse cx="79.9" cy="101.3" rx="1.6" ry="1.12" fill="#fff"/>
<ellipse cx="77.8" cy="103" rx="1.1" ry="0.77" fill="#aaa"/>
<ellipse cx="73.7" cy="105.4" rx="0.9" ry="0.63" fill="#888"/>
<ellipse cx="66.5" cy="108" rx="1" ry="0.7" fill="#999"/>
<ellipse cx="68.5" cy="111" rx="1.1" ry="0.77" fill="#aaa"/>
<ellipse cx="71.5" cy="113.5" rx="1" ry="0.7" fill="#999"/>
<ellipse cx="67" cy="114" rx="1" ry="0.7" fill="#bbb"/>
<ellipse cx="74" cy="115.5" rx="0.9" ry="0.63" fill="#888"/>
<ellipse cx="64.5" cy="104.5" rx="0.8" ry="0.56" fill="#888"/>
<ellipse cx="70" cy="107.5" rx="0.7" ry="0.49" fill="#777"/>
<path d="M108.9,72.9 L109.2,72.24 L109.62,71.52 L110.14,70.77 L110.75,70.01 L111.43,69.27 L112.15,68.55 L112.92,67.89 L113.7,67.3 L114.54,66.79 L115.47,66.35 L116.47,65.95 L117.5,65.59 L118.55,65.25 L119.58,64.91 L120.57,64.57 L121.5,64.2 L122.38,63.8 L123.24,63.38 L124.08,62.95 L124.89,62.53 L125.69,62.13 L126.45,61.76 L127.19,61.45 L127.9,61.2 L128.59,61 L129.26,60.83 L129.91,60.69 L130.54,60.6 L131.12,60.56 L131.67,60.57 L132.16,60.65 L132.6,60.8 L132.99,61.03 L133.36,61.35 L133.68,61.74 L133.96,62.18 L134.17,62.66 L134.33,63.17 L134.41,63.69 L134.4,64.2 L134.3,64.74 L134.11,65.32 L133.84,65.94 L133.51,66.57 L133.12,67.2 L132.7,67.81 L132.26,68.38 L131.8,68.9 L131.32,69.36 L130.81,69.79 L130.26,70.18 L129.68,70.54 L129.07,70.9 L128.44,71.26 L127.78,71.62 L127.1,72 L126.39,72.4 L125.66,72.8 L124.89,73.2 L124.1,73.61 L123.29,74.01 L122.47,74.41 L121.64,74.81 L120.8,75.2 L119.93,75.61 L119,76.05 L118.05,76.51 L117.09,76.95 L116.16,77.36 L115.26,77.72 L114.44,78.01 L113.7,78.2 L113.05,78.31 L112.45,78.35 L111.91,78.34 L111.42,78.27 L110.97,78.14 L110.58,77.95 L110.22,77.7 L109.9,77.4 L109.6,77.02 L109.32,76.56 L109.07,76.03 L108.86,75.45 L108.73,74.83 L108.68,74.19 L108.73,73.54Z" fill="#fff" stroke="#333" stroke-width="0.65"/>
<line x1="102.2" y1="23.7" x2="102.2" y2="150" stroke="#8286bc" stroke-width="0.8" />
<line x1="33.3" y1="86.2" x2="159.5" y2="86.2" stroke="#8286bc" stroke-width="0.8" />
<rect x="33.3" y="23.7" width="126.2" height="126.3" fill="none" stroke="#8a8a8a" stroke-width="1.1"/>
<text x="35.2" y="30.6" font-size="6.1" text-anchor="start" font-weight="normal" font-style="normal" fill="#50558e" stroke="#50558e" stroke-width="0.15" stroke-linejoin="round" >0.25</text>
<text x="157.9" y="31" font-size="6.1" text-anchor="end" font-weight="normal" font-style="normal" fill="#50558e" stroke="#50558e" stroke-width="0.15" stroke-linejoin="round" >1.31</text>
<text x="35.7" y="148.6" font-size="6.1" text-anchor="start" font-weight="normal" font-style="normal" fill="#50558e" stroke="#50558e" stroke-width="0.15" stroke-linejoin="round" >98.3</text>
<text x="157.9" y="148.7" font-size="6.1" text-anchor="end" font-weight="normal" font-style="normal" fill="#50558e" stroke="#50558e" stroke-width="0.15" stroke-linejoin="round" >0.19</text>
<text x="28" y="38" font-size="6.1" font-weight="bold" text-anchor="end" stroke="#000" stroke-width="0.1" letter-spacing="-0.15">10<tspan font-size="4.8" dy="-3.1">5</tspan></text>
<line x1="30.7" y1="35.7" x2="33.3" y2="35.7" stroke="#333" stroke-width="0.9" />
<text x="28" y="66.4" font-size="6.1" font-weight="bold" text-anchor="end" stroke="#000" stroke-width="0.1" letter-spacing="-0.15">10<tspan font-size="4.8" dy="-3.1">4</tspan></text>
<line x1="30.7" y1="64.1" x2="33.3" y2="64.1" stroke="#333" stroke-width="0.9" />
<text x="28" y="94.9" font-size="6.1" font-weight="bold" text-anchor="end" stroke="#000" stroke-width="0.1" letter-spacing="-0.15">10<tspan font-size="4.8" dy="-3.1">3</tspan></text>
<line x1="30.7" y1="92.6" x2="33.3" y2="92.6" stroke="#333" stroke-width="0.9" />
<text x="28" y="131.3" font-size="6.4" text-anchor="end" font-weight="bold" font-style="normal" fill="#000" stroke="#000" stroke-width="0.1" stroke-linejoin="round" >0</text>
<line x1="30.7" y1="129.1" x2="33.3" y2="129.1" stroke="#333" stroke-width="0.9" />
<line x1="31.8" y1="55.55" x2="33.3" y2="55.55" stroke="#555" stroke-width="0.6" />
<line x1="31.8" y1="50.55" x2="33.3" y2="50.55" stroke="#555" stroke-width="0.6" />
<line x1="31.8" y1="47" x2="33.3" y2="47" stroke="#555" stroke-width="0.6" />
<line x1="31.8" y1="44.25" x2="33.3" y2="44.25" stroke="#555" stroke-width="0.6" />
<line x1="31.8" y1="42" x2="33.3" y2="42" stroke="#555" stroke-width="0.6" />
<line x1="31.8" y1="40.1" x2="33.3" y2="40.1" stroke="#555" stroke-width="0.6" />
<line x1="31.8" y1="38.45" x2="33.3" y2="38.45" stroke="#555" stroke-width="0.6" />
<line x1="31.8" y1="37" x2="33.3" y2="37" stroke="#555" stroke-width="0.6" />
<line x1="31.8" y1="84.02" x2="33.3" y2="84.02" stroke="#555" stroke-width="0.6" />
<line x1="31.8" y1="79" x2="33.3" y2="79" stroke="#555" stroke-width="0.6" />
<line x1="31.8" y1="75.44" x2="33.3" y2="75.44" stroke="#555" stroke-width="0.6" />
<line x1="31.8" y1="72.68" x2="33.3" y2="72.68" stroke="#555" stroke-width="0.6" />
<line x1="31.8" y1="70.42" x2="33.3" y2="70.42" stroke="#555" stroke-width="0.6" />
<line x1="31.8" y1="68.51" x2="33.3" y2="68.51" stroke="#555" stroke-width="0.6" />
<line x1="31.8" y1="66.86" x2="33.3" y2="66.86" stroke="#555" stroke-width="0.6" />
<line x1="31.8" y1="65.4" x2="33.3" y2="65.4" stroke="#555" stroke-width="0.6" />
<line x1="31.8" y1="97" x2="33.3" y2="97" stroke="#555" stroke-width="0.6" />
<line x1="31.8" y1="102" x2="33.3" y2="102" stroke="#555" stroke-width="0.6" />
<line x1="31.8" y1="108" x2="33.3" y2="108" stroke="#555" stroke-width="0.6" />
<line x1="31.8" y1="114" x2="33.3" y2="114" stroke="#555" stroke-width="0.6" />
<line x1="31.8" y1="120.6" x2="33.3" y2="120.6" stroke="#555" stroke-width="0.6" />
<line x1="31.8" y1="124.5" x2="33.3" y2="124.5" stroke="#555" stroke-width="0.6" />
<line x1="31.8" y1="133.5" x2="33.3" y2="133.5" stroke="#555" stroke-width="0.6" />
<line x1="31.8" y1="137.3" x2="33.3" y2="137.3" stroke="#555" stroke-width="0.6" />
<line x1="31.8" y1="143.5" x2="33.3" y2="143.5" stroke="#555" stroke-width="0.6" />
<text x="52.2" y="161.8" font-size="6.4" text-anchor="middle" font-weight="bold" font-style="normal" fill="#000" stroke="#000" stroke-width="0.1" stroke-linejoin="round" >0</text>
<line x1="52.2" y1="150" x2="52.2" y2="152.6" stroke="#333" stroke-width="0.9" />
<text x="91.3" y="161.9" font-size="6.1" font-weight="bold" text-anchor="middle" stroke="#000" stroke-width="0.1" letter-spacing="-0.15">10<tspan font-size="4.8" dy="-3.1">3</tspan></text>
<line x1="91.5" y1="150" x2="91.5" y2="152.6" stroke="#333" stroke-width="0.9" />
<text x="120.2" y="161.9" font-size="6.1" font-weight="bold" text-anchor="middle" stroke="#000" stroke-width="0.1" letter-spacing="-0.15">10<tspan font-size="4.8" dy="-3.1">4</tspan></text>
<line x1="120.4" y1="150" x2="120.4" y2="152.6" stroke="#333" stroke-width="0.9" />
<text x="147.6" y="161.9" font-size="6.1" font-weight="bold" text-anchor="middle" stroke="#000" stroke-width="0.1" letter-spacing="-0.15">10<tspan font-size="4.8" dy="-3.1">5</tspan></text>
<line x1="147.8" y1="150" x2="147.8" y2="152.6" stroke="#333" stroke-width="0.9" />
<line x1="100.2" y1="150" x2="100.2" y2="151.5" stroke="#555" stroke-width="0.6" />
<line x1="105.29" y1="150" x2="105.29" y2="151.5" stroke="#555" stroke-width="0.6" />
<line x1="108.9" y1="150" x2="108.9" y2="151.5" stroke="#555" stroke-width="0.6" />
<line x1="111.7" y1="150" x2="111.7" y2="151.5" stroke="#555" stroke-width="0.6" />
<line x1="113.99" y1="150" x2="113.99" y2="151.5" stroke="#555" stroke-width="0.6" />
<line x1="115.92" y1="150" x2="115.92" y2="151.5" stroke="#555" stroke-width="0.6" />
<line x1="117.6" y1="150" x2="117.6" y2="151.5" stroke="#555" stroke-width="0.6" />
<line x1="119.08" y1="150" x2="119.08" y2="151.5" stroke="#555" stroke-width="0.6" />
<line x1="128.65" y1="150" x2="128.65" y2="151.5" stroke="#555" stroke-width="0.6" />
<line x1="133.47" y1="150" x2="133.47" y2="151.5" stroke="#555" stroke-width="0.6" />
<line x1="136.9" y1="150" x2="136.9" y2="151.5" stroke="#555" stroke-width="0.6" />
<line x1="139.55" y1="150" x2="139.55" y2="151.5" stroke="#555" stroke-width="0.6" />
<line x1="141.72" y1="150" x2="141.72" y2="151.5" stroke="#555" stroke-width="0.6" />
<line x1="143.56" y1="150" x2="143.56" y2="151.5" stroke="#555" stroke-width="0.6" />
<line x1="145.14" y1="150" x2="145.14" y2="151.5" stroke="#555" stroke-width="0.6" />
<line x1="146.55" y1="150" x2="146.55" y2="151.5" stroke="#555" stroke-width="0.6" />
<line x1="37" y1="150" x2="37" y2="151.5" stroke="#555" stroke-width="0.6" />
<line x1="41" y1="150" x2="41" y2="151.5" stroke="#555" stroke-width="0.6" />
<line x1="44.5" y1="150" x2="44.5" y2="151.5" stroke="#555" stroke-width="0.6" />
<line x1="48.5" y1="150" x2="48.5" y2="151.5" stroke="#555" stroke-width="0.6" />
<line x1="56" y1="150" x2="56" y2="151.5" stroke="#555" stroke-width="0.6" />
<line x1="60" y1="150" x2="60" y2="151.5" stroke="#555" stroke-width="0.6" />
<line x1="65" y1="150" x2="65" y2="151.5" stroke="#555" stroke-width="0.6" />
<line x1="71" y1="150" x2="71" y2="151.5" stroke="#555" stroke-width="0.6" />
<line x1="78" y1="150" x2="78" y2="151.5" stroke="#555" stroke-width="0.6" />
<line x1="85" y1="150" x2="85" y2="151.5" stroke="#555" stroke-width="0.6" />
<rect x="194.13" y="120.93" width="0.7" height="0.7" fill="#777"/>
<rect x="222.16" y="85.67" width="0.9" height="0.9" fill="#777"/>
<rect x="198.82" y="127.3" width="0.7" height="0.7" fill="#777"/>
<rect x="240.18" y="118.12" width="0.9" height="0.9" fill="#777"/>
<rect x="243.99" y="106.82" width="0.9" height="0.9" fill="#777"/>
<rect x="239.06" y="88.16" width="0.9" height="0.9" fill="#777"/>
<rect x="231.65" y="84" width="1.0" height="1.0" fill="#777"/>
<rect x="208.71" y="87.01" width="1.0" height="1.0" fill="#777"/>
<rect x="222.98" y="134.49" width="0.9" height="0.9" fill="#777"/>
<rect x="239.44" y="118.54" width="0.9" height="0.9" fill="#777"/>
<rect x="196.2" y="125.74" width="0.7" height="0.7" fill="#777"/>
<rect x="193.05" y="122.2" width="1.0" height="1.0" fill="#777"/>
<rect x="210.65" y="89.26" width="0.9" height="0.9" fill="#777"/>
<rect x="217.21" y="85.82" width="0.9" height="0.9" fill="#777"/>
<rect x="234.84" y="85.77" width="0.7" height="0.7" fill="#777"/>
<rect x="238.03" y="92.17" width="1.0" height="1.0" fill="#777"/>
<rect x="207.59" y="134.02" width="1.0" height="1.0" fill="#777"/>
<rect x="226.13" y="80.19" width="1.0" height="1.0" fill="#777"/>
<rect x="243.5" y="121.57" width="0.8" height="0.8" fill="#777"/>
<rect x="239.93" y="118.23" width="0.8" height="0.8" fill="#777"/>
<rect x="211.37" y="88.68" width="1.0" height="1.0" fill="#777"/>
<rect x="224.83" y="132.97" width="1.0" height="1.0" fill="#777"/>
<rect x="207.83" y="130.84" width="1.0" height="1.0" fill="#777"/>
<rect x="193.22" y="106.01" width="0.7" height="0.7" fill="#777"/>
<rect x="225.61" y="133.77" width="1.0" height="1.0" fill="#777"/>
<rect x="240.08" y="91.04" width="1.0" height="1.0" fill="#777"/>
<rect x="205.89" y="88.9" width="0.9" height="0.9" fill="#777"/>
<rect x="196.52" y="124.85" width="1.0" height="1.0" fill="#777"/>
<rect x="190.57" y="108.73" width="1.0" height="1.0" fill="#777"/>
<rect x="241.64" y="97.42" width="1.0" height="1.0" fill="#777"/>
<rect x="226.98" y="83.84" width="0.8" height="0.8" fill="#777"/>
<rect x="198.89" y="126.55" width="0.8" height="0.8" fill="#777"/>
<rect x="230.82" y="131.04" width="0.9" height="0.9" fill="#777"/>
<rect x="239.12" y="95.88" width="1.0" height="1.0" fill="#777"/>
<rect x="240.76" y="115.57" width="0.7" height="0.7" fill="#777"/>
<rect x="229.31" y="83.02" width="0.7" height="0.7" fill="#777"/>
<rect x="199.86" y="129.09" width="0.7" height="0.7" fill="#777"/>
<rect x="217.55" y="83.84" width="0.9" height="0.9" fill="#777"/>
<rect x="210.46" y="87.65" width="0.7" height="0.7" fill="#777"/>
<rect x="191.83" y="121.16" width="0.9" height="0.9" fill="#777"/>
<rect x="228.11" y="134.53" width="1.0" height="1.0" fill="#777"/>
<rect x="228.49" y="82.55" width="0.8" height="0.8" fill="#777"/>
<rect x="242.34" y="100.92" width="0.7" height="0.7" fill="#777"/>
<rect x="217.28" y="83.33" width="1.0" height="1.0" fill="#777"/>
<rect x="238.35" y="127.62" width="0.8" height="0.8" fill="#777"/>
<rect x="237.28" y="127.81" width="0.8" height="0.8" fill="#777"/>
<rect x="240.32" y="91.97" width="0.7" height="0.7" fill="#777"/>
<rect x="230.31" y="86.76" width="0.8" height="0.8" fill="#777"/>
<rect x="240.55" y="119.94" width="1.0" height="1.0" fill="#777"/>
<rect x="239.09" y="116.91" width="0.9" height="0.9" fill="#777"/>
<rect x="239.18" y="86.85" width="0.8" height="0.8" fill="#777"/>
<rect x="242.36" y="107.51" width="0.9" height="0.9" fill="#777"/>
<rect x="191.84" y="120.39" width="0.7" height="0.7" fill="#777"/>
<rect x="240.49" y="110.28" width="0.8" height="0.8" fill="#777"/>
<rect x="191.98" y="111.93" width="1.0" height="1.0" fill="#777"/>
<rect x="208.55" y="90.89" width="0.9" height="0.9" fill="#777"/>
<rect x="210.09" y="134.44" width="0.8" height="0.8" fill="#777"/>
<rect x="240.4" y="96.02" width="0.8" height="0.8" fill="#777"/>
<rect x="190.97" y="118.21" width="0.7" height="0.7" fill="#777"/>
<rect x="195.19" y="104.08" width="0.9" height="0.9" fill="#777"/>
<rect x="242.15" y="110.82" width="0.7" height="0.7" fill="#777"/>
<rect x="227.99" y="136.37" width="1.0" height="1.0" fill="#777"/>
<rect x="243.4" y="113.23" width="0.7" height="0.7" fill="#777"/>
<rect x="204.24" y="95.01" width="0.7" height="0.7" fill="#777"/>
<rect x="240.47" y="109.84" width="1.0" height="1.0" fill="#777"/>
<rect x="232.23" y="83.17" width="0.9" height="0.9" fill="#777"/>
<rect x="237.97" y="89.6" width="1.0" height="1.0" fill="#777"/>
<rect x="219.4" y="133.73" width="0.9" height="0.9" fill="#777"/>
<rect x="239.66" y="113.74" width="0.7" height="0.7" fill="#777"/>
<rect x="240.75" y="109.43" width="0.8" height="0.8" fill="#777"/>
<rect x="239.61" y="97.9" width="0.9" height="0.9" fill="#777"/>
<rect x="237.48" y="87.4" width="0.8" height="0.8" fill="#777"/>
<rect x="220.84" y="83.49" width="1.0" height="1.0" fill="#777"/>
<rect x="242.49" y="101.66" width="0.7" height="0.7" fill="#777"/>
<rect x="193.36" y="115.28" width="0.7" height="0.7" fill="#777"/>
<rect x="239.7" y="95.35" width="1.0" height="1.0" fill="#777"/>
<rect x="242.62" y="107.3" width="0.7" height="0.7" fill="#777"/>
<rect x="241.12" y="112.95" width="0.8" height="0.8" fill="#777"/>
<rect x="242.21" y="96.11" width="1.0" height="1.0" fill="#777"/>
<rect x="233.21" y="85.75" width="0.8" height="0.8" fill="#777"/>
<rect x="196.22" y="126.83" width="0.9" height="0.9" fill="#777"/>
<rect x="238.9" y="91.59" width="0.8" height="0.8" fill="#777"/>
<rect x="245.34" y="99.19" width="0.7" height="0.7" fill="#777"/>
<rect x="222.15" y="133.71" width="0.7" height="0.7" fill="#777"/>
<rect x="198.47" y="131.13" width="0.9" height="0.9" fill="#777"/>
<rect x="200.02" y="96.05" width="0.7" height="0.7" fill="#777"/>
<rect x="240.31" y="91.75" width="1.0" height="1.0" fill="#777"/>
<rect x="243.5" y="103.52" width="0.7" height="0.7" fill="#777"/>
<rect x="206.97" y="93.12" width="0.8" height="0.8" fill="#777"/>
<rect x="212.26" y="86.54" width="0.9" height="0.9" fill="#777"/>
<rect x="213.73" y="136.3" width="0.9" height="0.9" fill="#777"/>
<rect x="237.69" y="124.13" width="0.7" height="0.7" fill="#777"/>
<rect x="239.4" y="86.38" width="0.7" height="0.7" fill="#777"/>
<rect x="216.8" y="131.97" width="0.7" height="0.7" fill="#777"/>
<rect x="216.32" y="132.04" width="0.7" height="0.7" fill="#777"/>
<rect x="236.63" y="86.96" width="0.7" height="0.7" fill="#777"/>
<rect x="237.95" y="132.52" width="1.0" height="1.0" fill="#777"/>
<rect x="241.28" y="116.14" width="0.7" height="0.7" fill="#777"/>
<rect x="238.31" y="121.63" width="0.7" height="0.7" fill="#777"/>
<rect x="238.74" y="91.67" width="0.9" height="0.9" fill="#777"/>
<rect x="202.7" y="132.14" width="0.7" height="0.7" fill="#777"/>
<rect x="240.82" y="92.01" width="0.7" height="0.7" fill="#777"/>
<rect x="243.89" y="112.33" width="1.0" height="1.0" fill="#777"/>
<rect x="241.28" y="98.87" width="0.8" height="0.8" fill="#777"/>
<rect x="204.59" y="90.47" width="1.0" height="1.0" fill="#777"/>
<rect x="197.56" y="99.65" width="0.8" height="0.8" fill="#777"/>
<rect x="223.8" y="135.73" width="1.0" height="1.0" fill="#777"/>
<rect x="193.64" y="109.69" width="1.0" height="1.0" fill="#777"/>
<rect x="240.82" y="91.51" width="0.8" height="0.8" fill="#777"/>
<rect x="205.49" y="91.35" width="0.9" height="0.9" fill="#777"/>
<rect x="239.5" y="91.08" width="0.8" height="0.8" fill="#777"/>
<rect x="239.34" y="90.72" width="0.8" height="0.8" fill="#777"/>
<rect x="201.72" y="91.49" width="0.8" height="0.8" fill="#777"/>
<rect x="242.63" y="102.94" width="0.7" height="0.7" fill="#777"/>
<rect x="213.41" y="88.27" width="0.7" height="0.7" fill="#777"/>
<rect x="202.18" y="92.32" width="0.8" height="0.8" fill="#777"/>
<rect x="235.08" y="87.31" width="0.8" height="0.8" fill="#777"/>
<rect x="195.45" y="100.4" width="0.8" height="0.8" fill="#777"/>
<rect x="237.68" y="90.84" width="0.9" height="0.9" fill="#777"/>
<rect x="216.27" y="138.29" width="0.7" height="0.7" fill="#777"/>
<rect x="230.31" y="132.11" width="1.0" height="1.0" fill="#777"/>
<rect x="204.85" y="91.73" width="1.0" height="1.0" fill="#777"/>
<rect x="241.92" y="110.55" width="1.0" height="1.0" fill="#777"/>
<rect x="232.99" y="87.71" width="0.7" height="0.7" fill="#777"/>
<rect x="237.59" y="125.63" width="0.8" height="0.8" fill="#777"/>
<rect x="235.74" y="128.61" width="1.0" height="1.0" fill="#777"/>
<rect x="232.14" y="83.29" width="0.9" height="0.9" fill="#777"/>
<rect x="238.72" y="88.88" width="0.8" height="0.8" fill="#777"/>
<rect x="235.28" y="87.91" width="0.9" height="0.9" fill="#777"/>
<rect x="224.45" y="83.04" width="0.9" height="0.9" fill="#777"/>
<rect x="237.16" y="133.13" width="0.7" height="0.7" fill="#777"/>
<rect x="208.32" y="87.7" width="0.8" height="0.8" fill="#777"/>
<rect x="231.6" y="133.68" width="1.0" height="1.0" fill="#777"/>
<rect x="231.6" y="86.28" width="0.7" height="0.7" fill="#777"/>
<rect x="214.73" y="84.5" width="0.7" height="0.7" fill="#777"/>
<rect x="219.92" y="84.52" width="0.8" height="0.8" fill="#777"/>
<rect x="208.35" y="89.5" width="0.8" height="0.8" fill="#777"/>
<rect x="246.1" y="102.82" width="1.0" height="1.0" fill="#777"/>
<rect x="199.07" y="127.12" width="0.7" height="0.7" fill="#777"/>
<rect x="239.51" y="91.29" width="0.7" height="0.7" fill="#777"/>
<rect x="205.52" y="93.29" width="0.9" height="0.9" fill="#777"/>
<rect x="245.29" y="108.88" width="0.8" height="0.8" fill="#777"/>
<rect x="239.22" y="114.58" width="1.0" height="1.0" fill="#777"/>
<rect x="241.53" y="107.58" width="1.0" height="1.0" fill="#777"/>
<rect x="232.32" y="85.41" width="1.0" height="1.0" fill="#777"/>
<rect x="199.11" y="128.04" width="0.7" height="0.7" fill="#777"/>
<rect x="242.33" y="105.05" width="0.7" height="0.7" fill="#777"/>
<rect x="233.98" y="129.98" width="0.9" height="0.9" fill="#777"/>
<rect x="207.69" y="86.84" width="0.9" height="0.9" fill="#777"/>
<rect x="241.07" y="109.88" width="1.0" height="1.0" fill="#777"/>
<rect x="225.5" y="133.75" width="0.8" height="0.8" fill="#777"/>
<rect x="243.12" y="103.16" width="0.7" height="0.7" fill="#777"/>
<rect x="235.72" y="88.73" width="0.7" height="0.7" fill="#777"/>
<rect x="228.91" y="78.32" width="1.0" height="1.0" fill="#777"/>
<rect x="217.61" y="83.74" width="0.8" height="0.8" fill="#777"/>
<rect x="190.32" y="115.28" width="0.8" height="0.8" fill="#777"/>
<rect x="208.97" y="133.48" width="0.7" height="0.7" fill="#777"/>
<rect x="245.13" y="108.26" width="0.9" height="0.9" fill="#777"/>
<rect x="240.44" y="102.26" width="0.7" height="0.7" fill="#777"/>
<rect x="233.14" y="84.87" width="0.8" height="0.8" fill="#777"/>
<rect x="237.68" y="126.36" width="1.0" height="1.0" fill="#777"/>
<rect x="241.89" y="96.65" width="0.8" height="0.8" fill="#777"/>
<rect x="212.49" y="132.04" width="0.8" height="0.8" fill="#777"/>
<rect x="223" y="133.95" width="0.8" height="0.8" fill="#777"/>
<rect x="221.17" y="80.7" width="0.7" height="0.7" fill="#777"/>
<rect x="194.96" y="105.08" width="0.9" height="0.9" fill="#777"/>
<rect x="198.5" y="96.97" width="0.7" height="0.7" fill="#777"/>
<rect x="215.95" y="86.53" width="1.0" height="1.0" fill="#777"/>
<rect x="223.2" y="85.9" width="0.9" height="0.9" fill="#777"/>
<rect x="196.13" y="104.53" width="0.7" height="0.7" fill="#777"/>
<rect x="234.83" y="86.9" width="0.7" height="0.7" fill="#777"/>
<rect x="224.83" y="84.21" width="1.0" height="1.0" fill="#777"/>
<rect x="211.1" y="90.26" width="0.7" height="0.7" fill="#777"/>
<rect x="227.52" y="84.22" width="0.7" height="0.7" fill="#777"/>
<rect x="227.64" y="135.77" width="0.7" height="0.7" fill="#777"/>
<rect x="218.95" y="133.22" width="0.9" height="0.9" fill="#777"/>
<rect x="238.22" y="90.67" width="1.0" height="1.0" fill="#777"/>
<rect x="236.94" y="85.5" width="1.0" height="1.0" fill="#777"/>
<rect x="210.55" y="133.2" width="1.0" height="1.0" fill="#777"/>
<rect x="198.87" y="96.98" width="1.0" height="1.0" fill="#777"/>
<rect x="202.58" y="132" width="0.7" height="0.7" fill="#777"/>
<rect x="203.84" y="129.8" width="0.7" height="0.7" fill="#777"/>
<rect x="191.35" y="113.04" width="0.7" height="0.7" fill="#777"/>
<rect x="208.57" y="130.36" width="0.7" height="0.7" fill="#777"/>
<rect x="241.26" y="98.61" width="0.7" height="0.7" fill="#777"/>
<rect x="201.95" y="94.4" width="0.8" height="0.8" fill="#777"/>
<rect x="201.71" y="95.78" width="1.0" height="1.0" fill="#777"/>
<rect x="241.47" y="119.62" width="0.7" height="0.7" fill="#777"/>
<rect x="221.18" y="136.47" width="0.8" height="0.8" fill="#777"/>
<rect x="201.48" y="98.47" width="0.7" height="0.7" fill="#777"/>
<rect x="240.48" y="92.12" width="0.9" height="0.9" fill="#777"/>
<rect x="243.08" y="102.13" width="0.9" height="0.9" fill="#777"/>
<rect x="193" y="113.46" width="0.8" height="0.8" fill="#777"/>
<rect x="242.68" y="101.02" width="1.0" height="1.0" fill="#777"/>
<rect x="227.48" y="134.31" width="0.8" height="0.8" fill="#777"/>
<rect x="197.45" y="128.26" width="0.9" height="0.9" fill="#777"/>
<rect x="190.61" y="120.35" width="0.8" height="0.8" fill="#777"/>
<rect x="207.23" y="132.54" width="0.9" height="0.9" fill="#777"/>
<rect x="204.38" y="93.35" width="0.7" height="0.7" fill="#777"/>
<rect x="219.19" y="133.92" width="0.7" height="0.7" fill="#777"/>
<rect x="205.17" y="93.15" width="0.8" height="0.8" fill="#777"/>
<rect x="243" y="116.87" width="0.8" height="0.8" fill="#777"/>
<rect x="198.56" y="128.43" width="0.7" height="0.7" fill="#777"/>
<rect x="241.03" y="107.79" width="0.9" height="0.9" fill="#777"/>
<rect x="215.53" y="132.97" width="1.0" height="1.0" fill="#777"/>
<rect x="212.87" y="87.76" width="0.8" height="0.8" fill="#777"/>
<rect x="233.74" y="88.1" width="0.8" height="0.8" fill="#777"/>
<rect x="219.96" y="86.12" width="0.8" height="0.8" fill="#777"/>
<rect x="237.76" y="127.07" width="0.7" height="0.7" fill="#777"/>
<rect x="241.22" y="94.63" width="0.7" height="0.7" fill="#777"/>
<rect x="202.33" y="94.04" width="0.7" height="0.7" fill="#777"/>
<rect x="191.09" y="108.4" width="0.9" height="0.9" fill="#777"/>
<rect x="240.83" y="110.98" width="0.7" height="0.7" fill="#777"/>
<rect x="231.98" y="132.12" width="0.8" height="0.8" fill="#777"/>
<rect x="193.49" y="124.1" width="0.8" height="0.8" fill="#777"/>
<rect x="239.49" y="122.23" width="0.7" height="0.7" fill="#777"/>
<rect x="215.95" y="87.21" width="0.8" height="0.8" fill="#777"/>
<rect x="195.78" y="104.59" width="0.9" height="0.9" fill="#777"/>
<rect x="266.94" y="55.65" width="0.7" height="0.7" fill="#888"/>
<rect x="253.21" y="74.77" width="0.7" height="0.7" fill="#888"/>
<rect x="278.6" y="62.13" width="1.0" height="1.0" fill="#888"/>
<rect x="263.99" y="76.05" width="1.0" height="1.0" fill="#888"/>
<rect x="278.28" y="56.24" width="0.8" height="0.8" fill="#888"/>
<rect x="275.36" y="78.64" width="0.8" height="0.8" fill="#888"/>
<rect x="254.12" y="71.56" width="0.7" height="0.7" fill="#888"/>
<rect x="284.88" y="56.6" width="0.9" height="0.9" fill="#888"/>
<rect x="252.66" y="67.6" width="0.7" height="0.7" fill="#888"/>
<rect x="275.91" y="49.68" width="0.7" height="0.7" fill="#888"/>
<rect x="278.93" y="63.56" width="0.9" height="0.9" fill="#888"/>
<rect x="258.61" y="62.86" width="0.8" height="0.8" fill="#888"/>
<rect x="283.59" y="54.01" width="1.0" height="1.0" fill="#888"/>
<rect x="285.32" y="66.14" width="1.0" height="1.0" fill="#888"/>
<rect x="282.57" y="59.59" width="0.7" height="0.7" fill="#888"/>
<rect x="278.15" y="64.9" width="0.9" height="0.9" fill="#888"/>
<rect x="257.41" y="55.5" width="1.0" height="1.0" fill="#888"/>
<rect x="279.39" y="50.82" width="1.0" height="1.0" fill="#888"/>
<rect x="283.29" y="55.29" width="0.9" height="0.9" fill="#888"/>
<rect x="271.58" y="55.62" width="1.0" height="1.0" fill="#888"/>
<rect x="246.85" y="70.9" width="0.7" height="0.7" fill="#888"/>
<rect x="257.71" y="60.62" width="1.0" height="1.0" fill="#888"/>
<rect x="284.1" y="56.95" width="0.9" height="0.9" fill="#888"/>
<rect x="274.82" y="72.91" width="1.0" height="1.0" fill="#888"/>
<rect x="264.64" y="86.87" width="0.7" height="0.7" fill="#888"/>
<rect x="275.88" y="56.81" width="0.8" height="0.8" fill="#888"/>
<rect x="252.33" y="78.75" width="1.0" height="1.0" fill="#888"/>
<rect x="249.2" y="79.86" width="0.8" height="0.8" fill="#888"/>
<rect x="281.11" y="53.5" width="0.7" height="0.7" fill="#888"/>
<rect x="267.44" y="51.23" width="0.7" height="0.7" fill="#888"/>
<rect x="264.37" y="56.03" width="0.7" height="0.7" fill="#888"/>
<rect x="270.96" y="77.11" width="0.7" height="0.7" fill="#888"/>
<rect x="277.28" y="63.32" width="1.0" height="1.0" fill="#888"/>
<rect x="264.32" y="84.74" width="0.8" height="0.8" fill="#888"/>
<rect x="251.46" y="76.36" width="0.9" height="0.9" fill="#888"/>
<rect x="274.99" y="66.54" width="0.9" height="0.9" fill="#888"/>
<rect x="279.9" y="62.33" width="0.8" height="0.8" fill="#888"/>
<rect x="259.56" y="62.53" width="0.7" height="0.7" fill="#888"/>
<rect x="253.65" y="73.8" width="0.8" height="0.8" fill="#888"/>
<rect x="251.68" y="76.34" width="0.7" height="0.7" fill="#888"/>
<rect x="265.14" y="76.67" width="0.7" height="0.7" fill="#888"/>
<rect x="254.44" y="67.84" width="0.8" height="0.8" fill="#888"/>
<rect x="262.5" y="51.01" width="0.7" height="0.7" fill="#888"/>
<rect x="283.43" y="56.72" width="1.0" height="1.0" fill="#888"/>
<rect x="253.38" y="76.29" width="0.8" height="0.8" fill="#888"/>
<rect x="253.66" y="83" width="1.0" height="1.0" fill="#888"/>
<rect x="256.84" y="63.21" width="0.8" height="0.8" fill="#888"/>
<rect x="280.63" y="60.06" width="0.8" height="0.8" fill="#888"/>
<rect x="281.4" y="57.73" width="0.9" height="0.9" fill="#888"/>
<rect x="259.15" y="56.16" width="0.7" height="0.7" fill="#888"/>
<rect x="252.83" y="73.78" width="1.0" height="1.0" fill="#888"/>
<rect x="279.38" y="64.64" width="0.8" height="0.8" fill="#888"/>
<rect x="277.3" y="64.07" width="0.7" height="0.7" fill="#888"/>
<rect x="253" y="75.5" width="0.9" height="0.9" fill="#888"/>
<rect x="248.57" y="80.9" width="1.0" height="1.0" fill="#888"/>
<rect x="283.49" y="58.83" width="0.7" height="0.7" fill="#888"/>
<rect x="281.61" y="60.77" width="0.8" height="0.8" fill="#888"/>
<rect x="254.58" y="79.62" width="0.9" height="0.9" fill="#888"/>
<rect x="277.46" y="67.06" width="0.9" height="0.9" fill="#888"/>
<rect x="276.67" y="66.22" width="0.7" height="0.7" fill="#888"/>
<rect x="280.48" y="61.27" width="1.0" height="1.0" fill="#888"/>
<rect x="251.26" y="64.59" width="0.9" height="0.9" fill="#888"/>
<rect x="277.86" y="61.26" width="0.9" height="0.9" fill="#888"/>
<rect x="263.33" y="57.06" width="1.0" height="1.0" fill="#888"/>
<rect x="282.28" y="46.51" width="0.8" height="0.8" fill="#888"/>
<rect x="279.59" y="58.1" width="0.8" height="0.8" fill="#888"/>
<rect x="250.72" y="67.17" width="0.8" height="0.8" fill="#888"/>
<rect x="262.88" y="77.22" width="0.8" height="0.8" fill="#888"/>
<rect x="263.34" y="59.96" width="1.0" height="1.0" fill="#888"/>
<rect x="275" y="51.22" width="1.0" height="1.0" fill="#888"/>
<rect x="253.09" y="73.9" width="1.0" height="1.0" fill="#888"/>
<rect x="276.44" y="84.16" width="1.0" height="1.0" fill="#888"/>
<rect x="251.86" y="78.13" width="1.0" height="1.0" fill="#888"/>
<rect x="264.88" y="54.66" width="1.0" height="1.0" fill="#888"/>
<rect x="249.6" y="77.25" width="0.8" height="0.8" fill="#888"/>
<rect x="275.29" y="55.69" width="0.7" height="0.7" fill="#888"/>
<rect x="278.16" y="53.36" width="1.0" height="1.0" fill="#888"/>
<rect x="253.34" y="74.31" width="0.7" height="0.7" fill="#888"/>
<rect x="277.12" y="70.87" width="0.9" height="0.9" fill="#888"/>
<rect x="282.35" y="52.26" width="1.0" height="1.0" fill="#888"/>
<rect x="262.62" y="58.13" width="0.8" height="0.8" fill="#888"/>
<rect x="249.47" y="75.92" width="0.9" height="0.9" fill="#888"/>
<rect x="278.53" y="62.69" width="0.7" height="0.7" fill="#888"/>
<rect x="247.95" y="81.9" width="0.7" height="0.7" fill="#888"/>
<rect x="249.76" y="77.88" width="0.8" height="0.8" fill="#888"/>
<rect x="279.2" y="58.24" width="0.9" height="0.9" fill="#888"/>
<rect x="275.34" y="53.64" width="0.9" height="0.9" fill="#888"/>
<rect x="266.95" y="76.85" width="0.9" height="0.9" fill="#888"/>
<rect x="279.15" y="66.42" width="1.0" height="1.0" fill="#888"/>
<rect x="275.69" y="70.51" width="0.7" height="0.7" fill="#888"/>
<rect x="250.89" y="67.08" width="0.7" height="0.7" fill="#888"/>
<rect x="250.9" y="70.29" width="0.8" height="0.8" fill="#888"/>
<rect x="259.17" y="78.51" width="1.0" height="1.0" fill="#888"/>
<rect x="275.98" y="70.92" width="0.9" height="0.9" fill="#888"/>
<rect x="282.47" y="57.99" width="0.7" height="0.7" fill="#888"/>
<rect x="266.8" y="58.23" width="0.7" height="0.7" fill="#888"/>
<rect x="251.33" y="81.75" width="0.9" height="0.9" fill="#888"/>
<rect x="267.14" y="56.07" width="0.7" height="0.7" fill="#888"/>
<rect x="261.72" y="59.32" width="0.7" height="0.7" fill="#888"/>
<rect x="282.78" y="52.83" width="0.8" height="0.8" fill="#888"/>
<rect x="245.87" y="81.39" width="0.8" height="0.8" fill="#888"/>
<rect x="280.14" y="60.93" width="1.0" height="1.0" fill="#888"/>
<rect x="259.29" y="62.35" width="0.8" height="0.8" fill="#888"/>
<rect x="243.96" y="76.89" width="0.9" height="0.9" fill="#888"/>
<rect x="285.11" y="60.36" width="0.8" height="0.8" fill="#888"/>
<rect x="268.4" y="72.76" width="1.0" height="1.0" fill="#888"/>
<rect x="284.23" y="59.51" width="1.0" height="1.0" fill="#888"/>
<rect x="250.8" y="78.31" width="0.8" height="0.8" fill="#888"/>
<rect x="276.92" y="66.91" width="0.7" height="0.7" fill="#888"/>
<rect x="251.25" y="68.07" width="0.8" height="0.8" fill="#888"/>
<rect x="253.45" y="77.63" width="1.0" height="1.0" fill="#888"/>
<rect x="250.41" y="65.77" width="0.9" height="0.9" fill="#888"/>
<rect x="257.27" y="52.56" width="1.0" height="1.0" fill="#888"/>
<rect x="256.44" y="83.9" width="0.9" height="0.9" fill="#888"/>
<rect x="267.25" y="77.7" width="0.8" height="0.8" fill="#888"/>
<rect x="253.41" y="72.85" width="0.9" height="0.9" fill="#888"/>
<rect x="278.29" y="62.89" width="0.7" height="0.7" fill="#888"/>
<rect x="265.7" y="80.31" width="0.9" height="0.9" fill="#888"/>
<rect x="273.46" y="70.68" width="0.8" height="0.8" fill="#888"/>
<rect x="269.82" y="54.86" width="1.0" height="1.0" fill="#888"/>
<rect x="256.38" y="68.38" width="1.0" height="1.0" fill="#888"/>
<rect x="281.62" y="57.91" width="0.9" height="0.9" fill="#888"/>
<rect x="248.74" y="53.16" width="0.7" height="0.7" fill="#888"/>
<rect x="265.12" y="76.01" width="0.8" height="0.8" fill="#888"/>
<rect x="278.65" y="71.75" width="0.8" height="0.8" fill="#888"/>
<rect x="281.38" y="62.29" width="1.0" height="1.0" fill="#888"/>
<rect x="250.49" y="78.82" width="1.0" height="1.0" fill="#888"/>
<rect x="255.27" y="68.93" width="1.0" height="1.0" fill="#888"/>
<rect x="277.99" y="57.36" width="1.0" height="1.0" fill="#888"/>
<rect x="255.56" y="82.72" width="1.0" height="1.0" fill="#888"/>
<rect x="265.81" y="82.47" width="0.9" height="0.9" fill="#888"/>
<rect x="278.18" y="52.38" width="0.9" height="0.9" fill="#888"/>
<rect x="250.97" y="73.44" width="0.9" height="0.9" fill="#888"/>
<rect x="279.62" y="54.47" width="0.8" height="0.8" fill="#888"/>
<rect x="252.09" y="79.55" width="0.8" height="0.8" fill="#888"/>
<rect x="273.89" y="73.67" width="1.0" height="1.0" fill="#888"/>
<rect x="251.96" y="75.99" width="0.8" height="0.8" fill="#888"/>
<rect x="255.55" y="79.84" width="0.7" height="0.7" fill="#888"/>
<rect x="265.03" y="55.9" width="1.0" height="1.0" fill="#888"/>
<rect x="283.09" y="55.09" width="1.0" height="1.0" fill="#888"/>
<rect x="257.91" y="61.3" width="0.7" height="0.7" fill="#888"/>
<rect x="271.62" y="74.74" width="0.9" height="0.9" fill="#888"/>
<rect x="251.91" y="80.63" width="0.8" height="0.8" fill="#888"/>
<rect x="283.87" y="60.71" width="0.8" height="0.8" fill="#888"/>
<rect x="245.81" y="82.55" width="0.7" height="0.7" fill="#888"/>
<rect x="247.13" y="83.75" width="0.9" height="0.9" fill="#888"/>
<rect x="251.04" y="65.87" width="0.9" height="0.9" fill="#888"/>
<rect x="241.07" y="86.79" width="0.9" height="0.9" fill="#888"/>
<rect x="247.43" y="96.43" width="0.9" height="0.9" fill="#888"/>
<rect x="247.31" y="86.32" width="0.9" height="0.9" fill="#888"/>
<rect x="249.31" y="83.36" width="0.8" height="0.8" fill="#888"/>
<rect x="250.06" y="78.43" width="0.7" height="0.7" fill="#888"/>
<rect x="247.59" y="72.03" width="0.8" height="0.8" fill="#888"/>
<rect x="246.56" y="82.53" width="0.9" height="0.9" fill="#888"/>
<rect x="246.29" y="74.35" width="1.0" height="1.0" fill="#888"/>
<rect x="239.68" y="77.59" width="0.8" height="0.8" fill="#888"/>
<rect x="245.48" y="77.92" width="0.8" height="0.8" fill="#888"/>
<rect x="245.2" y="87.67" width="0.9" height="0.9" fill="#888"/>
<rect x="247.8" y="74.75" width="1.0" height="1.0" fill="#888"/>
<rect x="243.88" y="71.54" width="1.0" height="1.0" fill="#888"/>
<rect x="244.65" y="74.85" width="0.7" height="0.7" fill="#888"/>
<rect x="236.32" y="87.19" width="0.8" height="0.8" fill="#888"/>
<rect x="239.04" y="87.97" width="1.0" height="1.0" fill="#888"/>
<rect x="232.42" y="84.95" width="0.9" height="0.9" fill="#888"/>
<rect x="242.82" y="91.32" width="1.0" height="1.0" fill="#888"/>
<rect x="239.48" y="90.5" width="0.7" height="0.7" fill="#888"/>
<rect x="251.66" y="73.23" width="0.8" height="0.8" fill="#888"/>
<rect x="249.19" y="84.19" width="0.8" height="0.8" fill="#888"/>
<rect x="239.66" y="91.59" width="0.8" height="0.8" fill="#888"/>
<rect x="249.27" y="85.84" width="0.8" height="0.8" fill="#888"/>
<rect x="248.28" y="86.22" width="0.7" height="0.7" fill="#888"/>
<rect x="252.76" y="82.17" width="0.8" height="0.8" fill="#888"/>
<rect x="238.49" y="86.16" width="0.9" height="0.9" fill="#888"/>
<rect x="248.48" y="91.36" width="0.7" height="0.7" fill="#888"/>
<rect x="250.95" y="79.44" width="0.9" height="0.9" fill="#888"/>
<rect x="241.07" y="91.23" width="0.9" height="0.9" fill="#888"/>
<rect x="246.2" y="81.07" width="1.0" height="1.0" fill="#888"/>
<rect x="243.36" y="84.72" width="0.9" height="0.9" fill="#888"/>
<rect x="241.42" y="87.11" width="0.8" height="0.8" fill="#888"/>
<rect x="251.75" y="81.04" width="0.9" height="0.9" fill="#888"/>
<rect x="246.42" y="80.28" width="0.9" height="0.9" fill="#888"/>
<rect x="230.56" y="81.74" width="0.8" height="0.8" fill="#888"/>
<rect x="244.54" y="86.58" width="1.0" height="1.0" fill="#888"/>
<rect x="241.04" y="85.23" width="1.0" height="1.0" fill="#888"/>
<rect x="233.03" y="84.32" width="1.0" height="1.0" fill="#888"/>
<rect x="245.15" y="80.23" width="0.8" height="0.8" fill="#888"/>
<rect x="236.34" y="85.58" width="0.7" height="0.7" fill="#888"/>
<rect x="239.36" y="87.77" width="0.8" height="0.8" fill="#888"/>
<rect x="240.28" y="83.36" width="0.7" height="0.7" fill="#888"/>
<rect x="241.93" y="81.99" width="1.0" height="1.0" fill="#888"/>
<rect x="239.8" y="92.2" width="0.8" height="0.8" fill="#888"/>
<rect x="236.17" y="87.9" width="0.7" height="0.7" fill="#888"/>
<rect x="254.02" y="78.06" width="0.8" height="0.8" fill="#888"/>
<rect x="248.06" y="79.83" width="1.0" height="1.0" fill="#888"/>
<rect x="241.9" y="90.18" width="0.7" height="0.7" fill="#888"/>
<rect x="239.07" y="79.45" width="0.8" height="0.8" fill="#888"/>
<rect x="235.31" y="85.67" width="1.0" height="1.0" fill="#888"/>
<rect x="242.57" y="92.67" width="1.0" height="1.0" fill="#888"/>
<rect x="234.76" y="87.53" width="1.0" height="1.0" fill="#888"/>
<rect x="232.2" y="76.16" width="0.7" height="0.7" fill="#888"/>
<rect x="247.85" y="86.86" width="0.7" height="0.7" fill="#888"/>
<rect x="240.03" y="83.71" width="0.7" height="0.7" fill="#888"/>
<rect x="239.9" y="89.84" width="1.0" height="1.0" fill="#888"/>
<rect x="234.01" y="87.04" width="0.9" height="0.9" fill="#888"/>
<rect x="242.36" y="92.11" width="1.0" height="1.0" fill="#888"/>
<rect x="244.65" y="89.75" width="0.8" height="0.8" fill="#888"/>
<rect x="239.46" y="91.19" width="0.9" height="0.9" fill="#888"/>
<rect x="248.15" y="93.61" width="1.0" height="1.0" fill="#888"/>
<rect x="244.65" y="81.95" width="0.7" height="0.7" fill="#888"/>
<rect x="237.26" y="90.09" width="1.0" height="1.0" fill="#888"/>
<rect x="243.61" y="93.82" width="0.8" height="0.8" fill="#888"/>
<rect x="245.67" y="76.34" width="0.9" height="0.9" fill="#888"/>
<rect x="251.17" y="77.46" width="0.9" height="0.9" fill="#888"/>
<rect x="243.45" y="94.2" width="1.0" height="1.0" fill="#888"/>
<rect x="247.14" y="86.55" width="0.7" height="0.7" fill="#888"/>
<rect x="239.63" y="84.13" width="0.8" height="0.8" fill="#888"/>
<rect x="247.59" y="85.14" width="1.0" height="1.0" fill="#888"/>
<rect x="245.52" y="78.66" width="0.9" height="0.9" fill="#888"/>
<rect x="245.28" y="88.65" width="0.9" height="0.9" fill="#888"/>
<rect x="250.11" y="70.17" width="0.8" height="0.8" fill="#888"/>
<rect x="235.15" y="85.73" width="1.0" height="1.0" fill="#888"/>
<rect x="247.4" y="81.27" width="0.7" height="0.7" fill="#888"/>
<rect x="241.73" y="86.72" width="0.8" height="0.8" fill="#888"/>
<rect x="238.83" y="78.61" width="1.0" height="1.0" fill="#888"/>
<rect x="243.26" y="89.64" width="0.8" height="0.8" fill="#888"/>
<rect x="243.39" y="89.53" width="0.8" height="0.8" fill="#888"/>
<rect x="247.51" y="75.38" width="0.9" height="0.9" fill="#888"/>
<rect x="248.89" y="75.87" width="0.8" height="0.8" fill="#888"/>
<rect x="249.7" y="81.24" width="0.7" height="0.7" fill="#888"/>
<rect x="238.89" y="93.13" width="0.9" height="0.9" fill="#888"/>
<rect x="242.83" y="83.84" width="0.7" height="0.7" fill="#888"/>
<rect x="236.85" y="87.06" width="1.0" height="1.0" fill="#888"/>
<rect x="240.33" y="88.98" width="0.9" height="0.9" fill="#888"/>
<rect x="278.67" y="55.05" width="0.9" height="0.9" fill="#999"/>
<rect x="255.85" y="86.21" width="0.7" height="0.7" fill="#999"/>
<rect x="242.01" y="70.56" width="0.7" height="0.7" fill="#999"/>
<rect x="244.07" y="80.89" width="0.7" height="0.7" fill="#999"/>
<rect x="238.17" y="74.21" width="1.0" height="1.0" fill="#999"/>
<rect x="283.4" y="55.45" width="1.0" height="1.0" fill="#999"/>
<rect x="261.42" y="55.95" width="0.9" height="0.9" fill="#999"/>
<rect x="271.71" y="56.03" width="0.8" height="0.8" fill="#999"/>
<rect x="256.39" y="64.44" width="0.9" height="0.9" fill="#999"/>
<rect x="281.17" y="46.68" width="0.9" height="0.9" fill="#999"/>
<rect x="256.35" y="80.51" width="0.7" height="0.7" fill="#999"/>
<rect x="287.71" y="54.27" width="0.8" height="0.8" fill="#999"/>
<rect x="267.67" y="75.07" width="0.8" height="0.8" fill="#999"/>
<rect x="274.72" y="65.22" width="0.8" height="0.8" fill="#999"/>
<rect x="247.33" y="66.66" width="1.0" height="1.0" fill="#999"/>
<rect x="279.15" y="57.27" width="0.8" height="0.8" fill="#999"/>
<rect x="278.72" y="63.06" width="1.0" height="1.0" fill="#999"/>
<rect x="251.23" y="62.53" width="0.9" height="0.9" fill="#999"/>
<rect x="244.26" y="83.03" width="0.7" height="0.7" fill="#999"/>
<rect x="261.36" y="83.97" width="0.7" height="0.7" fill="#999"/>
<rect x="248.39" y="57.39" width="1.0" height="1.0" fill="#999"/>
<rect x="285.32" y="68.71" width="0.9" height="0.9" fill="#999"/>
<rect x="271.59" y="54.07" width="0.9" height="0.9" fill="#999"/>
<rect x="273.62" y="71.16" width="1.0" height="1.0" fill="#999"/>
<rect x="267.71" y="76.04" width="1.0" height="1.0" fill="#999"/>
<rect x="249.29" y="57.23" width="1.0" height="1.0" fill="#999"/>
<rect x="278.05" y="78.79" width="0.9" height="0.9" fill="#999"/>
<rect x="241.43" y="85.56" width="1.0" height="1.0" fill="#999"/>
<rect x="248.84" y="69.72" width="0.7" height="0.7" fill="#999"/>
<rect x="249.2" y="81.13" width="1.0" height="1.0" fill="#999"/>
<rect x="281.91" y="42.35" width="0.8" height="0.8" fill="#999"/>
<rect x="245.99" y="72.08" width="0.7" height="0.7" fill="#999"/>
<rect x="252.87" y="76.34" width="0.8" height="0.8" fill="#999"/>
<rect x="243.86" y="70.49" width="0.9" height="0.9" fill="#999"/>
<rect x="250.5" y="76.9" width="0.8" height="0.8" fill="#999"/>
<rect x="264.64" y="50.24" width="0.7" height="0.7" fill="#999"/>
<rect x="285.53" y="54.38" width="0.7" height="0.7" fill="#999"/>
<rect x="251.62" y="66.33" width="0.8" height="0.8" fill="#999"/>
<rect x="293.19" y="56.75" width="0.7" height="0.7" fill="#999"/>
<rect x="257.17" y="59.12" width="0.8" height="0.8" fill="#999"/>
<rect x="253.1" y="70.58" width="0.8" height="0.8" fill="#999"/>
<rect x="245.32" y="73.88" width="0.7" height="0.7" fill="#999"/>
<rect x="254.99" y="67.73" width="0.7" height="0.7" fill="#999"/>
<rect x="252.19" y="70.57" width="0.8" height="0.8" fill="#999"/>
<rect x="277.72" y="62.26" width="0.9" height="0.9" fill="#999"/>
<rect x="249.01" y="61.25" width="0.8" height="0.8" fill="#999"/>
<rect x="257.43" y="57.49" width="0.8" height="0.8" fill="#999"/>
<rect x="267.25" y="58.32" width="0.9" height="0.9" fill="#999"/>
<rect x="269.06" y="55.18" width="1.0" height="1.0" fill="#999"/>
<rect x="267.31" y="78.85" width="0.8" height="0.8" fill="#999"/>
<rect x="272.09" y="83.41" width="1.0" height="1.0" fill="#999"/>
<rect x="259.33" y="61.37" width="0.7" height="0.7" fill="#999"/>
<rect x="280.01" y="62.36" width="0.8" height="0.8" fill="#999"/>
<rect x="278.1" y="72.24" width="0.9" height="0.9" fill="#999"/>
<rect x="263.29" y="84.57" width="0.9" height="0.9" fill="#999"/>
<rect x="248.78" y="82.81" width="1.0" height="1.0" fill="#999"/>
<rect x="259.5" y="63.71" width="0.8" height="0.8" fill="#999"/>
<rect x="244.67" y="72.76" width="1.0" height="1.0" fill="#999"/>
<rect x="278.69" y="73.4" width="0.7" height="0.7" fill="#999"/>
<rect x="238.67" y="65.96" width="1.0" height="1.0" fill="#999"/>
<rect x="274.74" y="70.07" width="1.0" height="1.0" fill="#999"/>
<rect x="269.61" y="52.79" width="0.7" height="0.7" fill="#999"/>
<rect x="242.8" y="71.78" width="1.0" height="1.0" fill="#999"/>
<rect x="275.94" y="51.3" width="0.8" height="0.8" fill="#999"/>
<rect x="259.05" y="58.31" width="0.9" height="0.9" fill="#999"/>
<rect x="266.84" y="57.03" width="0.7" height="0.7" fill="#999"/>
<rect x="292.57" y="67.16" width="1.0" height="1.0" fill="#999"/>
<rect x="256.4" y="60.7" width="0.7" height="0.7" fill="#999"/>
<rect x="253.31" y="67.47" width="1.0" height="1.0" fill="#999"/>
<rect x="259.4" y="61.69" width="0.7" height="0.7" fill="#999"/>
<rect x="293.66" y="62.66" width="0.8" height="0.8" fill="#999"/>
<rect x="247.85" y="82.55" width="0.8" height="0.8" fill="#999"/>
<rect x="258.4" y="63.85" width="0.7" height="0.7" fill="#999"/>
<rect x="227.63" y="141.47" width="0.7" height="0.7" fill="#aaa"/>
<rect x="192.62" y="147.94" width="0.8" height="0.8" fill="#aaa"/>
<rect x="205.65" y="79.88" width="0.8" height="0.8" fill="#aaa"/>
<rect x="193.36" y="82.71" width="0.8" height="0.8" fill="#aaa"/>
<rect x="199.1" y="95.71" width="0.7" height="0.7" fill="#aaa"/>
<rect x="190.68" y="124.24" width="1.0" height="1.0" fill="#aaa"/>
<rect x="202.91" y="94.65" width="0.9" height="0.9" fill="#aaa"/>
<rect x="200.47" y="134.27" width="0.8" height="0.8" fill="#aaa"/>
<rect x="194.1" y="139.82" width="0.8" height="0.8" fill="#aaa"/>
<path d="M240.2,104 L240.18,104.6 L240.14,105.2 L240.09,105.8 L240.03,106.39 L239.95,106.99 L239.87,107.59 L239.79,108.19 L239.7,108.79 L239.6,109.39 L239.5,110.01 L239.41,110.63 L239.31,111.26 L239.21,111.91 L239.11,112.57 L239.02,113.25 L238.92,113.95 L238.83,114.67 L238.73,115.43 L238.63,116.21 L238.52,117.02 L238.39,117.86 L238.26,118.73 L238.1,119.64 L237.92,120.57 L237.71,121.53 L237.46,122.51 L237.17,123.51 L236.82,124.49 L236.4,125.45 L235.91,126.35 L235.34,127.22 L234.71,128.01 L234.01,128.74 L233.26,129.38 L232.44,129.94 L231.58,130.41 L230.69,130.82 L229.77,131.16 L228.83,131.43 L227.87,131.63 L226.9,131.78 L225.93,131.89 L224.95,131.96 L223.98,131.99 L223,132 L222.02,131.98 L221.05,131.94 L220.07,131.88 L219.09,131.8 L218.11,131.71 L217.14,131.59 L216.15,131.46 L215.17,131.31 L214.18,131.14 L213.19,130.96 L212.19,130.76 L211.19,130.54 L210.17,130.3 L209.16,130.03 L208.14,129.74 L207.12,129.41 L206.11,129.05 L205.09,128.65 L204.07,128.22 L203.06,127.76 L202.06,127.26 L201.07,126.71 L200.1,126.12 L199.16,125.47 L198.27,124.75 L197.46,123.95 L196.73,123.08 L196.09,122.15 L195.54,121.16 L195.08,120.12 L194.71,119.04 L194.43,117.94 L194.22,116.81 L194.1,115.68 L194.05,114.54 L194.08,113.4 L194.2,112.26 L194.39,111.13 L194.65,110.03 L194.97,108.94 L195.36,107.89 L195.79,106.86 L196.27,105.87 L196.79,104.92 L197.33,104 L197.89,103.12 L198.47,102.28 L199.06,101.48 L199.64,100.72 L200.24,99.99 L200.83,99.29 L201.42,98.62 L202.01,97.98 L202.59,97.37 L203.17,96.78 L203.75,96.22 L204.31,95.68 L204.87,95.16 L205.43,94.66 L205.98,94.17 L206.52,93.7 L207.06,93.25 L207.6,92.81 L208.13,92.38 L208.67,91.97 L209.2,91.58 L209.74,91.2 L210.29,90.83 L210.83,90.49 L211.39,90.16 L211.94,89.84 L212.5,89.55 L213.06,89.27 L213.63,89 L214.2,88.75 L214.77,88.52 L215.34,88.3 L215.92,88.09 L216.49,87.89 L217.07,87.7 L217.65,87.52 L218.22,87.34 L218.81,87.18 L219.39,87.01 L219.98,86.87 L220.57,86.72 L221.17,86.59 L221.77,86.47 L222.38,86.36 L223,86.27 L223.62,86.19 L224.25,86.15 L224.88,86.11 L225.51,86.11 L226.15,86.13 L226.79,86.17 L227.43,86.24 L228.06,86.34 L228.7,86.46 L229.33,86.61 L229.96,86.77 L230.58,86.97 L231.2,87.19 L231.81,87.43 L232.41,87.7 L233,88 L233.57,88.33 L234.12,88.69 L234.65,89.09 L235.15,89.52 L235.64,89.97 L236.09,90.45 L236.51,90.95 L236.91,91.47 L237.29,92.01 L237.63,92.57 L237.94,93.14 L238.23,93.73 L238.5,94.32 L238.74,94.91 L238.95,95.52 L239.14,96.13 L239.32,96.74 L239.47,97.34 L239.61,97.95 L239.73,98.56 L239.83,99.17 L239.93,99.78 L240.01,100.39 L240.07,100.99 L240.13,101.59 L240.17,102.2 L240.2,102.8 L240.21,103.4Z" fill="#fff" stroke="none"/>
<defs><clipPath id="clip2"><path d="M237.21,104 L237.16,104.49 L237.1,104.99 L237.03,105.48 L236.97,105.96 L236.9,106.45 L236.83,106.94 L236.76,107.43 L236.68,107.92 L236.59,108.42 L236.5,108.91 L236.4,109.41 L236.29,109.92 L236.17,110.43 L236.05,110.94 L235.92,111.46 L235.78,111.99 L235.64,112.52 L235.49,113.07 L235.33,113.63 L235.16,114.2 L234.98,114.79 L234.79,115.38 L234.59,116 L234.37,116.62 L234.13,117.26 L233.87,117.91 L233.58,118.57 L233.26,119.21 L232.89,119.83 L232.48,120.42 L232.03,120.98 L231.53,121.49 L230.99,121.95 L230.42,122.36 L229.81,122.71 L229.17,123 L228.52,123.23 L227.84,123.43 L227.16,123.57 L226.47,123.67 L225.77,123.74 L225.08,123.78 L224.38,123.8 L223.69,123.8 L223,123.79 L222.31,123.76 L221.62,123.73 L220.93,123.69 L220.24,123.64 L219.55,123.59 L218.85,123.52 L218.15,123.43 L217.45,123.34 L216.75,123.23 L216.05,123.1 L215.34,122.95 L214.64,122.78 L213.93,122.59 L213.23,122.37 L212.53,122.13 L211.84,121.86 L211.15,121.56 L210.47,121.24 L209.8,120.9 L209.13,120.52 L208.48,120.13 L207.83,119.71 L207.2,119.26 L206.58,118.78 L206,118.27 L205.45,117.71 L204.94,117.12 L204.49,116.49 L204.07,115.83 L203.71,115.14 L203.4,114.42 L203.14,113.69 L202.92,112.94 L202.76,112.18 L202.64,111.41 L202.56,110.64 L202.54,109.87 L202.56,109.1 L202.63,108.33 L202.73,107.57 L202.87,106.83 L203.04,106.1 L203.25,105.38 L203.48,104.68 L203.72,104 L203.99,103.34 L204.26,102.69 L204.55,102.06 L204.85,101.45 L205.15,100.85 L205.46,100.27 L205.78,99.71 L206.1,99.16 L206.43,98.62 L206.77,98.09 L207.12,97.58 L207.47,97.09 L207.83,96.6 L208.2,96.13 L208.58,95.67 L208.96,95.23 L209.34,94.79 L209.74,94.36 L210.13,93.95 L210.54,93.54 L210.94,93.14 L211.36,92.76 L211.77,92.37 L212.2,92 L212.63,91.64 L213.06,91.28 L213.51,90.93 L213.96,90.6 L214.42,90.27 L214.89,89.96 L215.38,89.66 L215.87,89.39 L216.38,89.12 L216.89,88.89 L217.42,88.66 L217.95,88.46 L218.49,88.28 L219.04,88.12 L219.59,87.96 L220.15,87.83 L220.71,87.7 L221.27,87.58 L221.84,87.48 L222.42,87.39 L223,87.31 L223.59,87.24 L224.18,87.19 L224.77,87.15 L225.37,87.13 L225.97,87.15 L226.57,87.19 L227.18,87.25 L227.77,87.35 L228.37,87.48 L228.95,87.65 L229.53,87.84 L230.09,88.07 L230.64,88.34 L231.17,88.64 L231.68,88.97 L232.17,89.33 L232.63,89.72 L233.08,90.13 L233.49,90.57 L233.89,91.02 L234.27,91.48 L234.63,91.96 L234.96,92.45 L235.28,92.94 L235.59,93.44 L235.87,93.94 L236.13,94.46 L236.38,94.98 L236.6,95.5 L236.79,96.04 L236.96,96.57 L237.11,97.12 L237.22,97.67 L237.31,98.22 L237.38,98.77 L237.42,99.31 L237.45,99.86 L237.46,100.4 L237.45,100.93 L237.43,101.46 L237.4,101.98 L237.36,102.49 L237.32,103 L237.27,103.5Z"/></clipPath><radialGradient id="rg2"><stop offset="0" stop-color="#505050"/><stop offset="0.6" stop-color="#8a8a8a"/><stop offset="0.9" stop-color="#c8c8c8"/><stop offset="1" stop-color="#fff" stop-opacity="0"/></radialGradient></defs>
<g clip-path="url(#clip2)"><ellipse cx="214" cy="115" rx="22" ry="15" transform="rotate(-40 214 115)" fill="url(#rg2)"/></g>
<defs><clipPath id="clipE2"><ellipse cx="214" cy="117" rx="24" ry="16" transform="rotate(-40 214 117)"/></clipPath></defs>
<path d="M240.2,104 L240.18,104.6 L240.14,105.2 L240.09,105.8 L240.03,106.39 L239.95,106.99 L239.87,107.59 L239.79,108.19 L239.7,108.79 L239.6,109.39 L239.5,110.01 L239.41,110.63 L239.31,111.26 L239.21,111.91 L239.11,112.57 L239.02,113.25 L238.92,113.95 L238.83,114.67 L238.73,115.43 L238.63,116.21 L238.52,117.02 L238.39,117.86 L238.26,118.73 L238.1,119.64 L237.92,120.57 L237.71,121.53 L237.46,122.51 L237.17,123.51 L236.82,124.49 L236.4,125.45 L235.91,126.35 L235.34,127.22 L234.71,128.01 L234.01,128.74 L233.26,129.38 L232.44,129.94 L231.58,130.41 L230.69,130.82 L229.77,131.16 L228.83,131.43 L227.87,131.63 L226.9,131.78 L225.93,131.89 L224.95,131.96 L223.98,131.99 L223,132 L222.02,131.98 L221.05,131.94 L220.07,131.88 L219.09,131.8 L218.11,131.71 L217.14,131.59 L216.15,131.46 L215.17,131.31 L214.18,131.14 L213.19,130.96 L212.19,130.76 L211.19,130.54 L210.17,130.3 L209.16,130.03 L208.14,129.74 L207.12,129.41 L206.11,129.05 L205.09,128.65 L204.07,128.22 L203.06,127.76 L202.06,127.26 L201.07,126.71 L200.1,126.12 L199.16,125.47 L198.27,124.75 L197.46,123.95 L196.73,123.08 L196.09,122.15 L195.54,121.16 L195.08,120.12 L194.71,119.04 L194.43,117.94 L194.22,116.81 L194.1,115.68 L194.05,114.54 L194.08,113.4 L194.2,112.26 L194.39,111.13 L194.65,110.03 L194.97,108.94 L195.36,107.89 L195.79,106.86 L196.27,105.87 L196.79,104.92 L197.33,104 L197.89,103.12 L198.47,102.28 L199.06,101.48 L199.64,100.72 L200.24,99.99 L200.83,99.29 L201.42,98.62 L202.01,97.98 L202.59,97.37 L203.17,96.78 L203.75,96.22 L204.31,95.68 L204.87,95.16 L205.43,94.66 L205.98,94.17 L206.52,93.7 L207.06,93.25 L207.6,92.81 L208.13,92.38 L208.67,91.97 L209.2,91.58 L209.74,91.2 L210.29,90.83 L210.83,90.49 L211.39,90.16 L211.94,89.84 L212.5,89.55 L213.06,89.27 L213.63,89 L214.2,88.75 L214.77,88.52 L215.34,88.3 L215.92,88.09 L216.49,87.89 L217.07,87.7 L217.65,87.52 L218.22,87.34 L218.81,87.18 L219.39,87.01 L219.98,86.87 L220.57,86.72 L221.17,86.59 L221.77,86.47 L222.38,86.36 L223,86.27 L223.62,86.19 L224.25,86.15 L224.88,86.11 L225.51,86.11 L226.15,86.13 L226.79,86.17 L227.43,86.24 L228.06,86.34 L228.7,86.46 L229.33,86.61 L229.96,86.77 L230.58,86.97 L231.2,87.19 L231.81,87.43 L232.41,87.7 L233,88 L233.57,88.33 L234.12,88.69 L234.65,89.09 L235.15,89.52 L235.64,89.97 L236.09,90.45 L236.51,90.95 L236.91,91.47 L237.29,92.01 L237.63,92.57 L237.94,93.14 L238.23,93.73 L238.5,94.32 L238.74,94.91 L238.95,95.52 L239.14,96.13 L239.32,96.74 L239.47,97.34 L239.61,97.95 L239.73,98.56 L239.83,99.17 L239.93,99.78 L240.01,100.39 L240.07,100.99 L240.13,101.59 L240.17,102.2 L240.2,102.8 L240.21,103.4Z" fill="none" stroke="#1a1a1a" stroke-width="0.6"/>
<path d="M239.36,104 L239.33,104.57 L239.29,105.14 L239.24,105.71 L239.18,106.27 L239.11,106.84 L239.04,107.41 L238.96,107.98 L238.87,108.55 L238.77,109.13 L238.67,109.7 L238.56,110.28 L238.43,110.87 L238.3,111.46 L238.17,112.06 L238.02,112.67 L237.88,113.3 L237.73,113.93 L237.57,114.59 L237.42,115.27 L237.26,115.97 L237.1,116.69 L236.92,117.45 L236.74,118.23 L236.55,119.04 L236.33,119.89 L236.09,120.76 L235.82,121.64 L235.5,122.53 L235.11,123.38 L234.66,124.2 L234.15,124.98 L233.58,125.7 L232.95,126.35 L232.26,126.92 L231.52,127.41 L230.74,127.81 L229.92,128.15 L229.09,128.42 L228.23,128.61 L227.36,128.74 L226.49,128.83 L225.61,128.87 L224.74,128.88 L223.87,128.87 L223,128.84 L222.13,128.8 L221.27,128.75 L220.4,128.69 L219.54,128.63 L218.67,128.57 L217.79,128.5 L216.91,128.42 L216.02,128.33 L215.13,128.23 L214.23,128.11 L213.32,127.97 L212.4,127.81 L211.48,127.62 L210.55,127.41 L209.63,127.16 L208.71,126.88 L207.79,126.55 L206.88,126.19 L205.97,125.8 L205.06,125.38 L204.17,124.91 L203.29,124.41 L202.42,123.87 L201.59,123.28 L200.79,122.63 L200.06,121.92 L199.4,121.15 L198.81,120.31 L198.3,119.43 L197.87,118.51 L197.53,117.54 L197.25,116.56 L197.06,115.55 L196.95,114.53 L196.91,113.5 L196.95,112.47 L197.06,111.44 L197.25,110.42 L197.51,109.42 L197.82,108.44 L198.18,107.49 L198.58,106.57 L199.02,105.68 L199.48,104.82 L199.96,104 L200.44,103.21 L200.92,102.46 L201.4,101.73 L201.87,101.03 L202.33,100.36 L202.79,99.7 L203.24,99.07 L203.69,98.46 L204.13,97.87 L204.58,97.29 L205.03,96.74 L205.47,96.2 L205.94,95.68 L206.4,95.17 L206.87,94.69 L207.34,94.22 L207.82,93.76 L208.32,93.33 L208.8,92.91 L209.3,92.51 L209.8,92.12 L210.31,91.74 L210.81,91.38 L211.32,91.02 L211.83,90.69 L212.34,90.35 L212.85,90.03 L213.37,89.72 L213.89,89.42 L214.42,89.13 L214.95,88.86 L215.49,88.6 L216.03,88.36 L216.59,88.13 L217.15,87.91 L217.71,87.72 L218.28,87.53 L218.85,87.37 L219.43,87.21 L220.02,87.07 L220.6,86.94 L221.19,86.83 L221.79,86.72 L222.39,86.62 L223,86.53 L223.61,86.46 L224.23,86.4 L224.85,86.36 L225.48,86.34 L226.11,86.35 L226.75,86.38 L227.38,86.43 L228.01,86.53 L228.64,86.65 L229.26,86.81 L229.87,87 L230.47,87.23 L231.05,87.5 L231.61,87.8 L232.16,88.14 L232.69,88.5 L233.18,88.9 L233.65,89.34 L234.1,89.79 L234.52,90.27 L234.92,90.76 L235.3,91.26 L235.66,91.77 L236.01,92.29 L236.34,92.81 L236.65,93.33 L236.95,93.86 L237.24,94.39 L237.52,94.93 L237.78,95.47 L238.02,96.01 L238.24,96.57 L238.45,97.12 L238.63,97.68 L238.8,98.25 L238.93,98.82 L239.05,99.4 L239.16,99.97 L239.23,100.55 L239.29,101.13 L239.34,101.7 L239.37,102.28 L239.38,102.85 L239.38,103.43Z" fill="none" stroke="#1a1a1a" stroke-width="0.6"/>
<path d="M238.37,104 L238.34,104.54 L238.3,105.07 L238.24,105.6 L238.17,106.13 L238.09,106.66 L238.01,107.19 L237.91,107.72 L237.81,108.25 L237.7,108.78 L237.59,109.31 L237.47,109.85 L237.35,110.39 L237.23,110.94 L237.1,111.5 L236.97,112.07 L236.84,112.65 L236.7,113.24 L236.56,113.85 L236.41,114.48 L236.25,115.12 L236.08,115.78 L235.89,116.45 L235.69,117.14 L235.47,117.85 L235.22,118.57 L234.95,119.3 L234.65,120.03 L234.3,120.76 L233.9,121.45 L233.46,122.11 L232.96,122.73 L232.42,123.31 L231.83,123.84 L231.2,124.3 L230.54,124.7 L229.84,125.05 L229.12,125.34 L228.38,125.59 L227.63,125.79 L226.87,125.94 L226.1,126.06 L225.33,126.14 L224.55,126.2 L223.78,126.24 L223,126.26 L222.22,126.26 L221.44,126.25 L220.66,126.22 L219.88,126.18 L219.1,126.12 L218.31,126.05 L217.52,125.96 L216.73,125.86 L215.93,125.74 L215.14,125.61 L214.33,125.46 L213.52,125.28 L212.71,125.09 L211.9,124.88 L211.08,124.64 L210.27,124.37 L209.47,124.07 L208.66,123.73 L207.86,123.38 L207.07,122.98 L206.29,122.56 L205.53,122.09 L204.78,121.59 L204.07,121.05 L203.39,120.45 L202.77,119.81 L202.21,119.11 L201.71,118.36 L201.28,117.57 L200.92,116.75 L200.62,115.9 L200.37,115.04 L200.19,114.16 L200.06,113.27 L199.99,112.38 L199.97,111.48 L200,110.59 L200.09,109.71 L200.23,108.84 L200.41,107.98 L200.63,107.14 L200.89,106.32 L201.18,105.53 L201.51,104.75 L201.86,104 L202.22,103.27 L202.6,102.57 L203,101.9 L203.4,101.24 L203.8,100.62 L204.22,100.01 L204.63,99.42 L205.05,98.85 L205.46,98.3 L205.87,97.77 L206.29,97.25 L206.69,96.74 L207.11,96.25 L207.51,95.76 L207.92,95.29 L208.32,94.83 L208.72,94.37 L209.13,93.92 L209.54,93.48 L209.95,93.05 L210.38,92.63 L210.81,92.23 L211.25,91.83 L211.69,91.44 L212.15,91.07 L212.62,90.71 L213.1,90.37 L213.59,90.04 L214.08,89.73 L214.59,89.43 L215.11,89.16 L215.63,88.89 L216.16,88.64 L216.7,88.41 L217.25,88.2 L217.8,88 L218.36,87.81 L218.92,87.64 L219.49,87.47 L220.06,87.32 L220.64,87.18 L221.22,87.06 L221.81,86.96 L222.4,86.87 L223,86.8 L223.6,86.74 L224.21,86.72 L224.82,86.71 L225.43,86.73 L226.04,86.78 L226.64,86.86 L227.25,86.96 L227.85,87.1 L228.44,87.26 L229.02,87.45 L229.6,87.66 L230.17,87.9 L230.72,88.17 L231.26,88.46 L231.79,88.77 L232.31,89.11 L232.8,89.47 L233.27,89.86 L233.72,90.27 L234.16,90.71 L234.57,91.15 L234.96,91.62 L235.33,92.1 L235.67,92.59 L236,93.09 L236.3,93.61 L236.58,94.13 L236.84,94.67 L237.07,95.21 L237.29,95.75 L237.47,96.3 L237.64,96.86 L237.78,97.42 L237.91,97.98 L238.01,98.54 L238.1,99.09 L238.18,99.65 L238.25,100.2 L238.3,100.75 L238.34,101.3 L238.37,101.84 L238.39,102.38 L238.4,102.92 L238.4,103.46Z" fill="none" stroke="#1a1a1a" stroke-width="0.6"/>
<g clip-path="url(#clipE2)">
<path d="M237.21,104 L237.16,104.49 L237.1,104.99 L237.03,105.48 L236.97,105.96 L236.9,106.45 L236.83,106.94 L236.76,107.43 L236.68,107.92 L236.59,108.42 L236.5,108.91 L236.4,109.41 L236.29,109.92 L236.17,110.43 L236.05,110.94 L235.92,111.46 L235.78,111.99 L235.64,112.52 L235.49,113.07 L235.33,113.63 L235.16,114.2 L234.98,114.79 L234.79,115.38 L234.59,116 L234.37,116.62 L234.13,117.26 L233.87,117.91 L233.58,118.57 L233.26,119.21 L232.89,119.83 L232.48,120.42 L232.03,120.98 L231.53,121.49 L230.99,121.95 L230.42,122.36 L229.81,122.71 L229.17,123 L228.52,123.23 L227.84,123.43 L227.16,123.57 L226.47,123.67 L225.77,123.74 L225.08,123.78 L224.38,123.8 L223.69,123.8 L223,123.79 L222.31,123.76 L221.62,123.73 L220.93,123.69 L220.24,123.64 L219.55,123.59 L218.85,123.52 L218.15,123.43 L217.45,123.34 L216.75,123.23 L216.05,123.1 L215.34,122.95 L214.64,122.78 L213.93,122.59 L213.23,122.37 L212.53,122.13 L211.84,121.86 L211.15,121.56 L210.47,121.24 L209.8,120.9 L209.13,120.52 L208.48,120.13 L207.83,119.71 L207.2,119.26 L206.58,118.78 L206,118.27 L205.45,117.71 L204.94,117.12 L204.49,116.49 L204.07,115.83 L203.71,115.14 L203.4,114.42 L203.14,113.69 L202.92,112.94 L202.76,112.18 L202.64,111.41 L202.56,110.64 L202.54,109.87 L202.56,109.1 L202.63,108.33 L202.73,107.57 L202.87,106.83 L203.04,106.1 L203.25,105.38 L203.48,104.68 L203.72,104 L203.99,103.34 L204.26,102.69 L204.55,102.06 L204.85,101.45 L205.15,100.85 L205.46,100.27 L205.78,99.71 L206.1,99.16 L206.43,98.62 L206.77,98.09 L207.12,97.58 L207.47,97.09 L207.83,96.6 L208.2,96.13 L208.58,95.67 L208.96,95.23 L209.34,94.79 L209.74,94.36 L210.13,93.95 L210.54,93.54 L210.94,93.14 L211.36,92.76 L211.77,92.37 L212.2,92 L212.63,91.64 L213.06,91.28 L213.51,90.93 L213.96,90.6 L214.42,90.27 L214.89,89.96 L215.38,89.66 L215.87,89.39 L216.38,89.12 L216.89,88.89 L217.42,88.66 L217.95,88.46 L218.49,88.28 L219.04,88.12 L219.59,87.96 L220.15,87.83 L220.71,87.7 L221.27,87.58 L221.84,87.48 L222.42,87.39 L223,87.31 L223.59,87.24 L224.18,87.19 L224.77,87.15 L225.37,87.13 L225.97,87.15 L226.57,87.19 L227.18,87.25 L227.77,87.35 L228.37,87.48 L228.95,87.65 L229.53,87.84 L230.09,88.07 L230.64,88.34 L231.17,88.64 L231.68,88.97 L232.17,89.33 L232.63,89.72 L233.08,90.13 L233.49,90.57 L233.89,91.02 L234.27,91.48 L234.63,91.96 L234.96,92.45 L235.28,92.94 L235.59,93.44 L235.87,93.94 L236.13,94.46 L236.38,94.98 L236.6,95.5 L236.79,96.04 L236.96,96.57 L237.11,97.12 L237.22,97.67 L237.31,98.22 L237.38,98.77 L237.42,99.31 L237.45,99.86 L237.46,100.4 L237.45,100.93 L237.43,101.46 L237.4,101.98 L237.36,102.49 L237.32,103 L237.27,103.5Z" fill="none" stroke="#1a1a1a" stroke-width="0.45"/>
<path d="M236.6,104 L236.55,104.47 L236.48,104.94 L236.41,105.41 L236.34,105.87 L236.25,106.34 L236.15,106.8 L236.05,107.25 L235.94,107.71 L235.82,108.17 L235.7,108.62 L235.57,109.08 L235.43,109.54 L235.29,109.99 L235.14,110.46 L234.99,110.92 L234.84,111.4 L234.68,111.88 L234.51,112.36 L234.34,112.86 L234.16,113.36 L233.97,113.88 L233.77,114.4 L233.56,114.93 L233.33,115.47 L233.09,116.02 L232.82,116.57 L232.53,117.12 L232.22,117.66 L231.86,118.18 L231.47,118.67 L231.05,119.14 L230.6,119.57 L230.11,119.97 L229.59,120.32 L229.05,120.62 L228.48,120.88 L227.9,121.09 L227.31,121.28 L226.7,121.42 L226.09,121.53 L225.48,121.61 L224.86,121.68 L224.24,121.72 L223.62,121.74 L223,121.74 L222.38,121.73 L221.76,121.71 L221.14,121.67 L220.52,121.63 L219.9,121.56 L219.28,121.48 L218.66,121.39 L218.04,121.28 L217.43,121.16 L216.81,121.02 L216.19,120.86 L215.57,120.69 L214.95,120.49 L214.34,120.29 L213.73,120.06 L213.12,119.81 L212.52,119.54 L211.92,119.25 L211.33,118.94 L210.75,118.6 L210.18,118.24 L209.61,117.86 L209.07,117.45 L208.54,117.02 L208.03,116.56 L207.56,116.06 L207.12,115.54 L206.73,114.97 L206.37,114.39 L206.06,113.78 L205.79,113.15 L205.55,112.51 L205.36,111.86 L205.2,111.19 L205.07,110.53 L204.98,109.85 L204.92,109.18 L204.9,108.51 L204.91,107.85 L204.95,107.18 L205.01,106.53 L205.1,105.88 L205.22,105.24 L205.36,104.62 L205.52,104 L205.7,103.4 L205.89,102.8 L206.11,102.22 L206.33,101.66 L206.56,101.1 L206.81,100.56 L207.06,100.02 L207.32,99.5 L207.58,98.99 L207.85,98.49 L208.13,97.99 L208.42,97.51 L208.71,97.03 L209,96.56 L209.3,96.09 L209.61,95.63 L209.92,95.18 L210.24,94.73 L210.57,94.29 L210.91,93.86 L211.27,93.43 L211.63,93.02 L212,92.61 L212.39,92.22 L212.79,91.84 L213.21,91.46 L213.64,91.11 L214.08,90.77 L214.53,90.45 L215,90.15 L215.49,89.87 L215.98,89.6 L216.48,89.36 L216.99,89.14 L217.52,88.93 L218.04,88.75 L218.58,88.58 L219.12,88.43 L219.66,88.28 L220.21,88.15 L220.76,88.03 L221.31,87.92 L221.87,87.81 L222.43,87.72 L223,87.64 L223.57,87.57 L224.15,87.52 L224.74,87.49 L225.32,87.48 L225.91,87.51 L226.49,87.56 L227.08,87.64 L227.66,87.75 L228.23,87.89 L228.8,88.07 L229.35,88.27 L229.9,88.51 L230.42,88.79 L230.93,89.09 L231.42,89.41 L231.89,89.77 L232.34,90.15 L232.77,90.56 L233.17,90.98 L233.55,91.42 L233.92,91.87 L234.27,92.33 L234.59,92.81 L234.89,93.29 L235.18,93.78 L235.45,94.28 L235.69,94.78 L235.91,95.29 L236.11,95.81 L236.28,96.33 L236.42,96.86 L236.54,97.4 L236.63,97.93 L236.7,98.47 L236.75,99 L236.78,99.52 L236.79,100.04 L236.8,100.56 L236.79,101.07 L236.78,101.57 L236.75,102.07 L236.72,102.56 L236.69,103.04 L236.65,103.52Z" fill="none" stroke="#1a1a1a" stroke-width="0.45"/>
<path d="M235.9,104 L235.84,104.45 L235.77,104.89 L235.7,105.33 L235.62,105.77 L235.52,106.21 L235.43,106.64 L235.32,107.07 L235.22,107.5 L235.1,107.93 L234.98,108.36 L234.85,108.79 L234.71,109.21 L234.57,109.64 L234.43,110.08 L234.27,110.51 L234.12,110.95 L233.96,111.39 L233.78,111.84 L233.61,112.29 L233.41,112.74 L233.21,113.2 L233,113.66 L232.77,114.12 L232.53,114.58 L232.27,115.05 L232,115.51 L231.7,115.97 L231.38,116.42 L231.02,116.84 L230.64,117.24 L230.24,117.61 L229.81,117.96 L229.35,118.26 L228.87,118.53 L228.37,118.77 L227.86,118.96 L227.33,119.12 L226.8,119.25 L226.26,119.35 L225.72,119.42 L225.17,119.47 L224.63,119.5 L224.09,119.52 L223.54,119.52 L223,119.52 L222.46,119.5 L221.92,119.48 L221.38,119.45 L220.83,119.41 L220.29,119.36 L219.75,119.31 L219.2,119.24 L218.65,119.15 L218.11,119.06 L217.56,118.95 L217.01,118.83 L216.46,118.7 L215.91,118.54 L215.36,118.38 L214.81,118.18 L214.27,117.97 L213.73,117.74 L213.2,117.48 L212.68,117.21 L212.17,116.9 L211.67,116.58 L211.18,116.24 L210.71,115.86 L210.26,115.47 L209.83,115.05 L209.42,114.61 L209.05,114.14 L208.71,113.64 L208.39,113.13 L208.12,112.59 L207.87,112.04 L207.66,111.48 L207.47,110.91 L207.31,110.34 L207.18,109.76 L207.07,109.17 L206.99,108.59 L206.93,108.01 L206.89,107.42 L206.88,106.84 L206.89,106.26 L206.92,105.69 L206.96,105.12 L207.04,104.56 L207.13,104 L207.23,103.45 L207.36,102.91 L207.5,102.37 L207.66,101.84 L207.82,101.32 L208.01,100.81 L208.19,100.31 L208.39,99.81 L208.6,99.32 L208.82,98.84 L209.05,98.36 L209.28,97.89 L209.52,97.43 L209.77,96.97 L210.03,96.51 L210.29,96.06 L210.56,95.61 L210.85,95.17 L211.14,94.74 L211.45,94.31 L211.77,93.89 L212.1,93.47 L212.44,93.07 L212.8,92.67 L213.17,92.28 L213.55,91.9 L213.94,91.54 L214.35,91.18 L214.78,90.84 L215.22,90.52 L215.67,90.21 L216.13,89.92 L216.61,89.65 L217.1,89.4 L217.6,89.17 L218.11,88.95 L218.63,88.76 L219.16,88.58 L219.69,88.41 L220.22,88.26 L220.77,88.12 L221.32,87.99 L221.87,87.87 L222.43,87.77 L223,87.69 L223.57,87.62 L224.15,87.57 L224.73,87.55 L225.31,87.55 L225.89,87.59 L226.47,87.66 L227.05,87.76 L227.62,87.89 L228.18,88.06 L228.73,88.27 L229.26,88.5 L229.78,88.78 L230.28,89.08 L230.76,89.41 L231.21,89.77 L231.65,90.16 L232.06,90.57 L232.45,90.99 L232.82,91.43 L233.16,91.89 L233.49,92.35 L233.81,92.81 L234.1,93.28 L234.38,93.75 L234.64,94.23 L234.89,94.71 L235.11,95.2 L235.32,95.69 L235.51,96.18 L235.67,96.68 L235.81,97.19 L235.92,97.7 L236.01,98.21 L236.07,98.72 L236.12,99.22 L236.14,99.73 L236.16,100.23 L236.16,100.72 L236.14,101.21 L236.12,101.69 L236.09,102.16 L236.05,102.63 L236.01,103.09 L235.96,103.55Z" fill="none" stroke="#1a1a1a" stroke-width="0.45"/>
<path d="M235.1,104 L235.02,104.42 L234.93,104.83 L234.84,105.24 L234.74,105.65 L234.64,106.05 L234.53,106.45 L234.42,106.85 L234.31,107.24 L234.2,107.64 L234.09,108.03 L233.97,108.43 L233.85,108.83 L233.72,109.23 L233.59,109.63 L233.45,110.03 L233.31,110.44 L233.15,110.85 L232.98,111.25 L232.81,111.66 L232.61,112.07 L232.4,112.47 L232.18,112.87 L231.94,113.26 L231.69,113.65 L231.42,114.04 L231.14,114.41 L230.83,114.78 L230.51,115.14 L230.17,115.48 L229.81,115.8 L229.43,116.1 L229.04,116.38 L228.62,116.63 L228.19,116.85 L227.75,117.05 L227.29,117.21 L226.83,117.35 L226.36,117.46 L225.88,117.54 L225.4,117.6 L224.92,117.63 L224.43,117.65 L223.95,117.65 L223.48,117.63 L223,117.6 L222.53,117.57 L222.06,117.51 L221.59,117.45 L221.12,117.39 L220.65,117.32 L220.19,117.24 L219.72,117.15 L219.26,117.06 L218.79,116.96 L218.32,116.85 L217.85,116.74 L217.39,116.61 L216.92,116.47 L216.45,116.32 L215.98,116.15 L215.52,115.97 L215.07,115.76 L214.62,115.54 L214.18,115.29 L213.75,115.02 L213.34,114.73 L212.93,114.42 L212.55,114.09 L212.18,113.74 L211.82,113.38 L211.49,112.99 L211.17,112.59 L210.88,112.17 L210.61,111.74 L210.35,111.3 L210.12,110.85 L209.9,110.39 L209.69,109.92 L209.51,109.45 L209.33,108.97 L209.17,108.49 L209.03,108.01 L208.9,107.52 L208.79,107.02 L208.7,106.52 L208.63,106.02 L208.57,105.52 L208.54,105.01 L208.54,104.5 L208.57,104 L208.61,103.5 L208.67,103 L208.75,102.5 L208.86,102.01 L208.97,101.53 L209.1,101.05 L209.23,100.57 L209.38,100.09 L209.53,99.62 L209.69,99.16 L209.86,98.69 L210.04,98.23 L210.23,97.77 L210.42,97.31 L210.63,96.86 L210.85,96.41 L211.08,95.96 L211.32,95.52 L211.58,95.08 L211.86,94.65 L212.16,94.24 L212.47,93.83 L212.79,93.43 L213.14,93.05 L213.49,92.67 L213.86,92.3 L214.24,91.95 L214.64,91.6 L215.05,91.27 L215.47,90.95 L215.9,90.65 L216.35,90.36 L216.8,90.08 L217.27,89.82 L217.75,89.57 L218.24,89.35 L218.74,89.14 L219.25,88.94 L219.76,88.76 L220.28,88.59 L220.81,88.44 L221.35,88.3 L221.89,88.18 L222.44,88.07 L223,87.98 L223.56,87.91 L224.13,87.86 L224.7,87.83 L225.27,87.83 L225.84,87.87 L226.42,87.93 L226.98,88.02 L227.54,88.15 L228.1,88.31 L228.64,88.5 L229.17,88.73 L229.68,88.99 L230.18,89.28 L230.65,89.61 L231.1,89.97 L231.53,90.35 L231.93,90.76 L232.31,91.19 L232.66,91.64 L232.98,92.1 L233.29,92.57 L233.58,93.04 L233.84,93.53 L234.09,94.01 L234.32,94.5 L234.53,94.99 L234.72,95.49 L234.89,95.98 L235.04,96.47 L235.17,96.97 L235.28,97.47 L235.36,97.97 L235.42,98.47 L235.47,98.96 L235.49,99.45 L235.5,99.94 L235.49,100.42 L235.48,100.89 L235.45,101.35 L235.41,101.81 L235.36,102.26 L235.31,102.71 L235.25,103.14 L235.18,103.57Z" fill="none" stroke="#1a1a1a" stroke-width="0.45"/>
</g>
<path d="M210.5,102.5 L210.56,101.64 L210.68,100.71 L210.86,99.72 L211.09,98.72 L211.38,97.72 L211.71,96.75 L212.08,95.83 L212.5,95 L212.96,94.23 L213.47,93.5 L214.03,92.8 L214.64,92.14 L215.29,91.53 L215.98,90.97 L216.72,90.45 L217.5,90 L218.36,89.59 L219.3,89.23 L220.31,88.91 L221.36,88.64 L222.41,88.43 L223.43,88.29 L224.41,88.21 L225.3,88.2 L226.13,88.26 L226.92,88.39 L227.69,88.58 L228.42,88.83 L229.12,89.15 L229.78,89.53 L230.41,89.98 L231,90.5 L231.57,91.11 L232.12,91.82 L232.64,92.61 L233.13,93.46 L233.56,94.34 L233.94,95.24 L234.26,96.13 L234.5,97 L234.66,97.85 L234.74,98.72 L234.76,99.6 L234.72,100.48 L234.63,101.37 L234.51,102.25 L234.36,103.13 L234.2,104 L234.01,104.88 L233.79,105.79 L233.54,106.7 L233.25,107.61 L232.93,108.49 L232.58,109.32 L232.21,110.1 L231.8,110.8 L231.36,111.43 L230.89,112.02 L230.38,112.56 L229.84,113.04 L229.28,113.48 L228.7,113.87 L228.11,114.21 L227.5,114.5 L226.87,114.73 L226.22,114.91 L225.55,115.03 L224.86,115.11 L224.15,115.14 L223.44,115.13 L222.72,115.08 L222,115 L221.26,114.89 L220.49,114.75 L219.7,114.56 L218.91,114.34 L218.13,114.08 L217.37,113.77 L216.66,113.41 L216,113 L215.39,112.52 L214.8,111.97 L214.24,111.37 L213.72,110.72 L213.23,110.04 L212.78,109.36 L212.37,108.67 L212,108 L211.67,107.35 L211.37,106.71 L211.1,106.06 L210.88,105.41 L210.7,104.73 L210.57,104.03 L210.5,103.29Z" fill="#080808" stroke="#222" stroke-width="0.8"/>
<ellipse cx="213.8" cy="109.72" rx="1.36" ry="0.59" transform="rotate(-45.12 213.8 109.72)" fill="#777"/>
<ellipse cx="206.17" cy="121.25" rx="1.07" ry="0.6" transform="rotate(-30.45 206.17 121.25)" fill="#888"/>
<ellipse cx="223.53" cy="106.82" rx="1.22" ry="0.48" transform="rotate(-31.11 223.53 106.82)" fill="#aaa"/>
<ellipse cx="223.87" cy="108.44" rx="1.24" ry="0.51" transform="rotate(-47.37 223.87 108.44)" fill="#aaa"/>
<ellipse cx="213.27" cy="110.91" rx="0.9" ry="0.37" transform="rotate(-34.92 213.27 110.91)" fill="#999"/>
<ellipse cx="208.82" cy="116.36" rx="1.3" ry="0.43" transform="rotate(-53.61 208.82 116.36)" fill="#777"/>
<ellipse cx="212.1" cy="108.86" rx="1.39" ry="0.59" transform="rotate(-49.48 212.1 108.86)" fill="#999"/>
<ellipse cx="210.41" cy="107.58" rx="1.09" ry="0.58" transform="rotate(-51.03 210.41 107.58)" fill="#777"/>
<ellipse cx="208.2" cy="115.46" rx="1.36" ry="0.48" transform="rotate(-42.56 208.2 115.46)" fill="#888"/>
<ellipse cx="210.78" cy="111.54" rx="1.45" ry="0.57" transform="rotate(-50.92 210.78 111.54)" fill="#888"/>
<ellipse cx="218.9" cy="103.93" rx="1.44" ry="0.43" transform="rotate(-43.54 218.9 103.93)" fill="#aaa"/>
<ellipse cx="226.18" cy="110.14" rx="1.11" ry="0.53" transform="rotate(-55.07 226.18 110.14)" fill="#aaa"/>
<ellipse cx="224.62" cy="103.54" rx="0.85" ry="0.54" transform="rotate(-69.18 224.62 103.54)" fill="#999"/>
<ellipse cx="218.25" cy="112.61" rx="1.28" ry="0.56" transform="rotate(-36.12 218.25 112.61)" fill="#999"/>
<ellipse cx="219.38" cy="114.68" rx="1.18" ry="0.5" transform="rotate(-64.23 219.38 114.68)" fill="#777"/>
<ellipse cx="212.86" cy="115.01" rx="1.39" ry="0.45" transform="rotate(-64.46 212.86 115.01)" fill="#bbb"/>
<ellipse cx="217.84" cy="102.23" rx="0.7" ry="0.59" transform="rotate(-30.99 217.84 102.23)" fill="#bbb"/>
<ellipse cx="208.63" cy="115.98" rx="1.19" ry="0.58" transform="rotate(-39.23 208.63 115.98)" fill="#999"/>
<ellipse cx="212.86" cy="116.14" rx="0.98" ry="0.59" transform="rotate(-43.98 212.86 116.14)" fill="#aaa"/>
<ellipse cx="218.73" cy="116.13" rx="1.09" ry="0.38" transform="rotate(-60.29 218.73 116.13)" fill="#777"/>
<ellipse cx="213.91" cy="122.19" rx="0.84" ry="0.53" transform="rotate(-54.19 213.91 122.19)" fill="#777"/>
<ellipse cx="218.59" cy="120.87" rx="1.38" ry="0.57" transform="rotate(-63.37 218.59 120.87)" fill="#bbb"/>
<ellipse cx="214.15" cy="116.1" rx="0.82" ry="0.41" transform="rotate(-46.09 214.15 116.1)" fill="#444"/>
<ellipse cx="208.69" cy="120.11" rx="0.96" ry="0.48" transform="rotate(-33.11 208.69 120.11)" fill="#111"/>
<ellipse cx="207.68" cy="117.36" rx="1.28" ry="0.45" transform="rotate(-58.49 207.68 117.36)" fill="#444"/>
<ellipse cx="216.6" cy="121.2" rx="0.8" ry="0.42" transform="rotate(-39.1 216.6 121.2)" fill="#555"/>
<ellipse cx="212.14" cy="124.45" rx="1.08" ry="0.57" transform="rotate(-47.75 212.14 124.45)" fill="#222"/>
<ellipse cx="212.13" cy="119.31" rx="0.87" ry="0.35" transform="rotate(-45.03 212.13 119.31)" fill="#222"/>
<ellipse cx="210.75" cy="122.71" rx="1.32" ry="0.44" transform="rotate(-69.3 210.75 122.71)" fill="#555"/>
<ellipse cx="209.1" cy="108.98" rx="1.18" ry="0.35" transform="rotate(-63.07 209.1 108.98)" fill="#333"/>
<ellipse cx="210.7" cy="122.88" rx="1.06" ry="0.59" transform="rotate(-68.84 210.7 122.88)" fill="#555"/>
<ellipse cx="211.07" cy="120.17" rx="1.35" ry="0.57" transform="rotate(-69.56 211.07 120.17)" fill="#111"/>
<ellipse cx="206.46" cy="113.54" rx="0.8" ry="0.49" transform="rotate(-53.01 206.46 113.54)" fill="#222"/>
<ellipse cx="210.07" cy="123.45" rx="0.7" ry="0.39" transform="rotate(-62.72 210.07 123.45)" fill="#111"/>
<ellipse cx="218.39" cy="114.45" rx="0.72" ry="0.52" transform="rotate(-59.86 218.39 114.45)" fill="#555"/>
<ellipse cx="209.61" cy="120.64" rx="1.2" ry="0.54" transform="rotate(-41.91 209.61 120.64)" fill="#111"/>
<ellipse cx="209.48" cy="121.67" rx="0.73" ry="0.48" transform="rotate(-68.11 209.48 121.67)" fill="#444"/>
<ellipse cx="204.96" cy="118.39" rx="1.32" ry="0.42" transform="rotate(-63.38 204.96 118.39)" fill="#555"/>
<ellipse cx="210.68" cy="119.22" rx="0.88" ry="0.58" transform="rotate(-38.46 210.68 119.22)" fill="#444"/>
<ellipse cx="216.86" cy="118.49" rx="1.47" ry="0.52" transform="rotate(-43.33 216.86 118.49)" fill="#444"/>
<ellipse cx="206.96" cy="122.74" rx="1.08" ry="0.6" transform="rotate(-41.63 206.96 122.74)" fill="#444"/>
<ellipse cx="204.97" cy="116.98" rx="1.04" ry="0.41" transform="rotate(-42.56 204.97 116.98)" fill="#333"/>
<ellipse cx="224.6" cy="99" rx="0.9" ry="0.63" fill="#eee"/>
<ellipse cx="224.2" cy="101.5" rx="0.9" ry="0.63" fill="#eee"/>
<ellipse cx="223.2" cy="103.3" rx="0.8" ry="0.56" fill="#ddd"/>
<ellipse cx="218.8" cy="106.1" rx="1.1" ry="0.77" fill="#999"/>
<ellipse cx="215" cy="110" rx="1.1" ry="0.77" fill="#aaa"/>
<ellipse cx="220" cy="112" rx="1" ry="0.7" fill="#999"/>
<ellipse cx="213" cy="106" rx="0.9" ry="0.63" fill="#888"/>
<ellipse cx="217" cy="114" rx="1" ry="0.7" fill="#aaa"/>
<ellipse cx="221.5" cy="108.5" rx="0.8" ry="0.56" fill="#777"/>
<path d="M254.4,74.4 L254.56,73.8 L254.77,73.08 L255.04,72.28 L255.35,71.41 L255.71,70.52 L256.11,69.64 L256.54,68.79 L257,68 L257.5,67.26 L258.06,66.54 L258.66,65.83 L259.29,65.13 L259.95,64.45 L260.62,63.78 L261.31,63.13 L262,62.5 L262.7,61.87 L263.43,61.23 L264.18,60.61 L264.94,60 L265.71,59.42 L266.48,58.89 L267.24,58.41 L268,58 L268.76,57.65 L269.55,57.33 L270.34,57.06 L271.12,56.84 L271.9,56.67 L272.64,56.56 L273.35,56.5 L274,56.5 L274.63,56.57 L275.25,56.72 L275.84,56.93 L276.41,57.19 L276.92,57.49 L277.36,57.81 L277.73,58.15 L278,58.5 L278.17,58.86 L278.26,59.26 L278.27,59.68 L278.22,60.12 L278.1,60.58 L277.94,61.05 L277.74,61.53 L277.5,62 L277.22,62.46 L276.87,62.92 L276.47,63.38 L276.03,63.84 L275.55,64.33 L275.05,64.85 L274.53,65.4 L274,66 L273.45,66.67 L272.86,67.41 L272.23,68.19 L271.59,69 L270.94,69.81 L270.29,70.59 L269.64,71.33 L269,72 L268.38,72.61 L267.77,73.2 L267.17,73.76 L266.56,74.28 L265.95,74.77 L265.32,75.22 L264.67,75.63 L264,76 L263.28,76.32 L262.5,76.61 L261.69,76.86 L260.88,77.06 L260.07,77.23 L259.31,77.36 L258.61,77.45 L258,77.5 L257.47,77.5 L256.98,77.45 L256.55,77.36 L256.16,77.23 L255.82,77.07 L255.51,76.89 L255.24,76.69 L255,76.5 L254.79,76.32 L254.61,76.15 L254.46,75.98 L254.35,75.79 L254.29,75.55 L254.27,75.25 L254.31,74.88Z" fill="#fff" stroke="#333" stroke-width="0.65"/>
<line x1="244.3" y1="22.6" x2="244.3" y2="149.4" stroke="#8286bc" stroke-width="0.8" />
<line x1="176" y1="85.6" x2="302.6" y2="85.6" stroke="#8286bc" stroke-width="0.8" />
<rect x="176" y="22.6" width="126.6" height="126.8" fill="none" stroke="#8a8a8a" stroke-width="1.1"/>
<text x="177.9" y="29.5" font-size="6.1" text-anchor="start" font-weight="normal" font-style="normal" fill="#50558e" stroke="#50558e" stroke-width="0.15" stroke-linejoin="round" >0.11</text>
<text x="301" y="29.9" font-size="6.1" text-anchor="end" font-weight="normal" font-style="normal" fill="#50558e" stroke="#50558e" stroke-width="0.15" stroke-linejoin="round" >1.56</text>
<text x="178.4" y="148" font-size="6.1" text-anchor="start" font-weight="normal" font-style="normal" fill="#50558e" stroke="#50558e" stroke-width="0.15" stroke-linejoin="round" >98.2</text>
<text x="301" y="148.1" font-size="6.1" text-anchor="end" font-weight="normal" font-style="normal" fill="#50558e" stroke="#50558e" stroke-width="0.15" stroke-linejoin="round" >0.13</text>
<text x="170.7" y="36.8" font-size="6.1" font-weight="bold" text-anchor="end" stroke="#000" stroke-width="0.1" letter-spacing="-0.15">10<tspan font-size="4.8" dy="-3.1">5</tspan></text>
<line x1="173.4" y1="34.5" x2="176" y2="34.5" stroke="#333" stroke-width="0.9" />
<text x="170.7" y="65.2" font-size="6.1" font-weight="bold" text-anchor="end" stroke="#000" stroke-width="0.1" letter-spacing="-0.15">10<tspan font-size="4.8" dy="-3.1">4</tspan></text>
<line x1="173.4" y1="62.9" x2="176" y2="62.9" stroke="#333" stroke-width="0.9" />
<text x="170.7" y="93.7" font-size="6.1" font-weight="bold" text-anchor="end" stroke="#000" stroke-width="0.1" letter-spacing="-0.15">10<tspan font-size="4.8" dy="-3.1">3</tspan></text>
<line x1="173.4" y1="91.4" x2="176" y2="91.4" stroke="#333" stroke-width="0.9" />
<text x="170.7" y="130" font-size="6.4" text-anchor="end" font-weight="bold" font-style="normal" fill="#000" stroke="#000" stroke-width="0.1" stroke-linejoin="round" >0</text>
<line x1="173.4" y1="127.8" x2="176" y2="127.8" stroke="#333" stroke-width="0.9" />
<line x1="174.5" y1="54.35" x2="176" y2="54.35" stroke="#555" stroke-width="0.6" />
<line x1="174.5" y1="49.35" x2="176" y2="49.35" stroke="#555" stroke-width="0.6" />
<line x1="174.5" y1="45.8" x2="176" y2="45.8" stroke="#555" stroke-width="0.6" />
<line x1="174.5" y1="43.05" x2="176" y2="43.05" stroke="#555" stroke-width="0.6" />
<line x1="174.5" y1="40.8" x2="176" y2="40.8" stroke="#555" stroke-width="0.6" />
<line x1="174.5" y1="38.9" x2="176" y2="38.9" stroke="#555" stroke-width="0.6" />
<line x1="174.5" y1="37.25" x2="176" y2="37.25" stroke="#555" stroke-width="0.6" />
<line x1="174.5" y1="35.8" x2="176" y2="35.8" stroke="#555" stroke-width="0.6" />
<line x1="174.5" y1="82.82" x2="176" y2="82.82" stroke="#555" stroke-width="0.6" />
<line x1="174.5" y1="77.8" x2="176" y2="77.8" stroke="#555" stroke-width="0.6" />
<line x1="174.5" y1="74.24" x2="176" y2="74.24" stroke="#555" stroke-width="0.6" />
<line x1="174.5" y1="71.48" x2="176" y2="71.48" stroke="#555" stroke-width="0.6" />
<line x1="174.5" y1="69.22" x2="176" y2="69.22" stroke="#555" stroke-width="0.6" />
<line x1="174.5" y1="67.31" x2="176" y2="67.31" stroke="#555" stroke-width="0.6" />
<line x1="174.5" y1="65.66" x2="176" y2="65.66" stroke="#555" stroke-width="0.6" />
<line x1="174.5" y1="64.2" x2="176" y2="64.2" stroke="#555" stroke-width="0.6" />
<line x1="174.5" y1="97.5" x2="176" y2="97.5" stroke="#555" stroke-width="0.6" />
<line x1="174.5" y1="103.3" x2="176" y2="103.3" stroke="#555" stroke-width="0.6" />
<line x1="174.5" y1="111.3" x2="176" y2="111.3" stroke="#555" stroke-width="0.6" />
<line x1="174.5" y1="119.3" x2="176" y2="119.3" stroke="#555" stroke-width="0.6" />
<line x1="174.5" y1="123.7" x2="176" y2="123.7" stroke="#555" stroke-width="0.6" />
<line x1="174.5" y1="132.4" x2="176" y2="132.4" stroke="#555" stroke-width="0.6" />
<line x1="174.5" y1="136" x2="176" y2="136" stroke="#555" stroke-width="0.6" />
<line x1="174.5" y1="142" x2="176" y2="142" stroke="#555" stroke-width="0.6" />
<text x="194.5" y="161.2" font-size="6.4" text-anchor="middle" font-weight="bold" font-style="normal" fill="#000" stroke="#000" stroke-width="0.1" stroke-linejoin="round" >0</text>
<line x1="194.5" y1="149.4" x2="194.5" y2="152" stroke="#333" stroke-width="0.9" />
<text x="233.8" y="161.3" font-size="6.1" font-weight="bold" text-anchor="middle" stroke="#000" stroke-width="0.1" letter-spacing="-0.15">10<tspan font-size="4.8" dy="-3.1">3</tspan></text>
<line x1="234" y1="149.4" x2="234" y2="152" stroke="#333" stroke-width="0.9" />
<text x="263.1" y="161.3" font-size="6.1" font-weight="bold" text-anchor="middle" stroke="#000" stroke-width="0.1" letter-spacing="-0.15">10<tspan font-size="4.8" dy="-3.1">4</tspan></text>
<line x1="263.3" y1="149.4" x2="263.3" y2="152" stroke="#333" stroke-width="0.9" />
<text x="290.4" y="161.3" font-size="6.1" font-weight="bold" text-anchor="middle" stroke="#000" stroke-width="0.1" letter-spacing="-0.15">10<tspan font-size="4.8" dy="-3.1">5</tspan></text>
<line x1="290.6" y1="149.4" x2="290.6" y2="152" stroke="#333" stroke-width="0.9" />
<line x1="242.82" y1="149.4" x2="242.82" y2="150.9" stroke="#555" stroke-width="0.6" />
<line x1="247.98" y1="149.4" x2="247.98" y2="150.9" stroke="#555" stroke-width="0.6" />
<line x1="251.64" y1="149.4" x2="251.64" y2="150.9" stroke="#555" stroke-width="0.6" />
<line x1="254.48" y1="149.4" x2="254.48" y2="150.9" stroke="#555" stroke-width="0.6" />
<line x1="256.8" y1="149.4" x2="256.8" y2="150.9" stroke="#555" stroke-width="0.6" />
<line x1="258.76" y1="149.4" x2="258.76" y2="150.9" stroke="#555" stroke-width="0.6" />
<line x1="260.46" y1="149.4" x2="260.46" y2="150.9" stroke="#555" stroke-width="0.6" />
<line x1="261.96" y1="149.4" x2="261.96" y2="150.9" stroke="#555" stroke-width="0.6" />
<line x1="271.52" y1="149.4" x2="271.52" y2="150.9" stroke="#555" stroke-width="0.6" />
<line x1="276.33" y1="149.4" x2="276.33" y2="150.9" stroke="#555" stroke-width="0.6" />
<line x1="279.74" y1="149.4" x2="279.74" y2="150.9" stroke="#555" stroke-width="0.6" />
<line x1="282.38" y1="149.4" x2="282.38" y2="150.9" stroke="#555" stroke-width="0.6" />
<line x1="284.54" y1="149.4" x2="284.54" y2="150.9" stroke="#555" stroke-width="0.6" />
<line x1="286.37" y1="149.4" x2="286.37" y2="150.9" stroke="#555" stroke-width="0.6" />
<line x1="287.95" y1="149.4" x2="287.95" y2="150.9" stroke="#555" stroke-width="0.6" />
<line x1="289.35" y1="149.4" x2="289.35" y2="150.9" stroke="#555" stroke-width="0.6" />
<line x1="180" y1="149.4" x2="180" y2="150.9" stroke="#555" stroke-width="0.6" />
<line x1="184" y1="149.4" x2="184" y2="150.9" stroke="#555" stroke-width="0.6" />
<line x1="187.5" y1="149.4" x2="187.5" y2="150.9" stroke="#555" stroke-width="0.6" />
<line x1="191" y1="149.4" x2="191" y2="150.9" stroke="#555" stroke-width="0.6" />
<line x1="198.5" y1="149.4" x2="198.5" y2="150.9" stroke="#555" stroke-width="0.6" />
<line x1="203" y1="149.4" x2="203" y2="150.9" stroke="#555" stroke-width="0.6" />
<line x1="208" y1="149.4" x2="208" y2="150.9" stroke="#555" stroke-width="0.6" />
<line x1="214" y1="149.4" x2="214" y2="150.9" stroke="#555" stroke-width="0.6" />
<line x1="221" y1="149.4" x2="221" y2="150.9" stroke="#555" stroke-width="0.6" />
<line x1="228" y1="149.4" x2="228" y2="150.9" stroke="#555" stroke-width="0.6" />
<line x1="15.6" y1="115" x2="15.6" y2="167" stroke="#000" stroke-width="2.1" />
<line x1="14.6" y1="167" x2="84" y2="167" stroke="#000" stroke-width="2.1" />
<path d="M10.2,116.5 L15.6,106 L21,116.5 Z" fill="#000"/>
<path d="M82.8,161.8 L93.8,167 L82.8,172.6 Z" fill="#000"/>
<text x="11" y="151.6" font-size="13.5" text-anchor="middle" font-weight="normal" font-style="normal" fill="#000" stroke="#000" stroke-width="0.45" stroke-linejoin="round" transform="rotate(-90 11.0 151.6)">F4/80</text>
<text x="14.8" y="182.9" font-size="14.5" text-anchor="start" font-weight="normal" font-style="normal" fill="#000" stroke="#000" stroke-width="0.45" stroke-linejoin="round" >CD11b</text>
<text x="339" y="18.2" font-size="17.5" text-anchor="start" font-weight="bold" font-style="normal" fill="#000" stroke="#000" stroke-width="0.45" stroke-linejoin="round" >B</text>
<line x1="400.75" y1="9" x2="400.75" y2="155.9" stroke="#000" stroke-width="2.2" />
<line x1="399.7" y1="154.8" x2="497" y2="154.8" stroke="#000" stroke-width="2.2" />
<line x1="395" y1="154.8" x2="400.75" y2="154.8" stroke="#000" stroke-width="2.0" />
<text x="394.4" y="159.1" font-size="10.3" text-anchor="end" font-weight="normal" font-style="normal" fill="#000" stroke="#000" stroke-width="0.45" stroke-linejoin="round" >0.0</text>
<line x1="395" y1="118.6" x2="400.75" y2="118.6" stroke="#000" stroke-width="2.0" />
<text x="394.4" y="122.9" font-size="10.3" text-anchor="end" font-weight="normal" font-style="normal" fill="#000" stroke="#000" stroke-width="0.45" stroke-linejoin="round" >0.5</text>
<line x1="395" y1="82.4" x2="400.75" y2="82.4" stroke="#000" stroke-width="2.0" />
<text x="394.4" y="86.7" font-size="10.3" text-anchor="end" font-weight="normal" font-style="normal" fill="#000" stroke="#000" stroke-width="0.45" stroke-linejoin="round" >1.0</text>
<line x1="395" y1="46.2" x2="400.75" y2="46.2" stroke="#000" stroke-width="2.0" />
<text x="394.4" y="50.5" font-size="10.3" text-anchor="end" font-weight="normal" font-style="normal" fill="#000" stroke="#000" stroke-width="0.45" stroke-linejoin="round" >1.5</text>
<line x1="395" y1="10" x2="400.75" y2="10" stroke="#000" stroke-width="2.0" />
<text x="394.4" y="14.3" font-size="10.3" text-anchor="end" font-weight="normal" font-style="normal" fill="#000" stroke="#000" stroke-width="0.45" stroke-linejoin="round" >2.0</text>
<line x1="424.8" y1="154.8" x2="424.8" y2="160.3" stroke="#000" stroke-width="2.0" />
<line x1="473.1" y1="154.8" x2="473.1" y2="160.3" stroke="#000" stroke-width="2.0" />
<rect x="408.85" y="65.1" width="31.9" height="89.7" fill="#fff" stroke="#000" stroke-width="2.5"/>
<line x1="424.8" y1="65.1" x2="424.8" y2="53.5" stroke="#000" stroke-width="1.75" />
<line x1="416.3" y1="53.5" x2="433.3" y2="53.5" stroke="#000" stroke-width="1.75" />
<rect x="456" y="40.5" width="34" height="114.3" fill="#000" stroke="none" stroke-width="0"/>
<line x1="473.1" y1="41.6" x2="473.1" y2="36" stroke="#000" stroke-width="1.75" />
<line x1="464.4" y1="36" x2="481.8" y2="36" stroke="#000" stroke-width="1.75" />
<rect x="409.2" y="1.2" width="17.7" height="10.3" fill="#fff" stroke="#000" stroke-width="2.4"/>
<rect x="408" y="18.2" width="20.2" height="12.5" fill="#000" stroke="none" stroke-width="0"/>
<text x="436" y="10.8" font-size="12" text-anchor="start" font-weight="normal" font-style="normal" fill="#000" stroke="#000" stroke-width="0.45" stroke-linejoin="round" >day 1</text>
<text x="436" y="28.5" font-size="12" text-anchor="start" font-weight="normal" font-style="normal" fill="#000" stroke="#000" stroke-width="0.45" stroke-linejoin="round" >day 5</text>
<text x="424.4" y="172.3" font-size="10.8" text-anchor="middle" font-weight="normal" font-style="normal" fill="#000" stroke="#000" stroke-width="0.45" stroke-linejoin="round" >day 1</text>
<text x="472.9" y="172.3" font-size="10.8" text-anchor="middle" font-weight="normal" font-style="normal" fill="#000" stroke="#000" stroke-width="0.45" stroke-linejoin="round" >day 5</text>
<text x="449.3" y="188.7" font-size="11.4" text-anchor="middle" font-weight="normal" font-style="normal" fill="#000" stroke="#000" stroke-width="0.45" stroke-linejoin="round" >Time in culture</text>
<text x="360.2" y="83" font-size="11.9" text-anchor="middle" stroke="#000" stroke-width="0.3" transform="rotate(-90 360.2 83)">% CD11b<tspan font-size="7.2" dy="-4.6">+</tspan><tspan dy="4.6"> F4/80</tspan><tspan font-size="7.2" dy="-4.6">+</tspan></text>
<text x="374" y="81.5" font-size="11.7" text-anchor="middle" font-weight="normal" font-style="normal" fill="#000" stroke="#000" stroke-width="0.45" stroke-linejoin="round" transform="rotate(-90 374 81.5)">of total viable islet cells</text>
<text x="1.5" y="229.4" font-size="17.5" text-anchor="start" font-weight="bold" font-style="normal" fill="#000" stroke="#000" stroke-width="0.45" stroke-linejoin="round" >C</text>
<line x1="64.5" y1="219.1" x2="64.5" y2="375.7" stroke="#000" stroke-width="2.2" />
<line x1="58.6" y1="374.6" x2="219.5" y2="374.6" stroke="#000" stroke-width="2.2" />
<line x1="58.6" y1="374.6" x2="64.5" y2="374.6" stroke="#000" stroke-width="2.0" />
<text x="58" y="379.1" font-size="11" text-anchor="end" font-weight="normal" font-style="normal" fill="#000" stroke="#000" stroke-width="0.45" stroke-linejoin="round" >0.0</text>
<line x1="58.6" y1="335.98" x2="64.5" y2="335.98" stroke="#000" stroke-width="2.0" />
<text x="58" y="340.48" font-size="11" text-anchor="end" font-weight="normal" font-style="normal" fill="#000" stroke="#000" stroke-width="0.45" stroke-linejoin="round" >0.5</text>
<line x1="58.6" y1="297.35" x2="64.5" y2="297.35" stroke="#000" stroke-width="2.0" />
<text x="58" y="301.85" font-size="11" text-anchor="end" font-weight="normal" font-style="normal" fill="#000" stroke="#000" stroke-width="0.45" stroke-linejoin="round" >1.0</text>
<line x1="58.6" y1="258.73" x2="64.5" y2="258.73" stroke="#000" stroke-width="2.0" />
<text x="58" y="263.23" font-size="11" text-anchor="end" font-weight="normal" font-style="normal" fill="#000" stroke="#000" stroke-width="0.45" stroke-linejoin="round" >1.5</text>
<line x1="58.6" y1="220.1" x2="64.5" y2="220.1" stroke="#000" stroke-width="2.0" />
<text x="58" y="224.6" font-size="11" text-anchor="end" font-weight="normal" font-style="normal" fill="#000" stroke="#000" stroke-width="0.45" stroke-linejoin="round" >2.0</text>
<rect x="74.4" y="297.35" width="12.9" height="77.25" fill="#fff" stroke="#000" stroke-width="2.2"/>
<line x1="80.7" y1="297.35" x2="80.7" y2="283.8" stroke="#000" stroke-width="1.75" />
<line x1="76.7" y1="283.8" x2="84.7" y2="283.8" stroke="#000" stroke-width="1.75" />
<rect x="92.3" y="302.4" width="15.3" height="72.2" fill="#000" stroke="none" stroke-width="0"/>
<line x1="99.95" y1="303.5" x2="99.95" y2="301.9" stroke="#000" stroke-width="1.75" />
<line x1="95.95" y1="301.9" x2="103.95" y2="301.9" stroke="#000" stroke-width="1.75" />
<line x1="90.2" y1="374.6" x2="90.2" y2="380.4" stroke="#000" stroke-width="2.0" />
<text x="90.3" y="392.7" font-size="11.6" text-anchor="middle" font-weight="normal" font-style="normal" fill="#000" stroke="#000" stroke-width="0.45" stroke-linejoin="round" >F4/80</text>
<rect x="125.9" y="297.6" width="12.9" height="77" fill="#fff" stroke="#000" stroke-width="2.2"/>
<line x1="132.2" y1="297.6" x2="132.2" y2="288.2" stroke="#000" stroke-width="1.75" />
<line x1="128.2" y1="288.2" x2="136.2" y2="288.2" stroke="#000" stroke-width="1.75" />
<rect x="143.8" y="306.2" width="15.3" height="68.4" fill="#000" stroke="none" stroke-width="0"/>
<line x1="151.45" y1="307.3" x2="151.45" y2="304" stroke="#000" stroke-width="1.75" />
<line x1="147.45" y1="304" x2="155.45" y2="304" stroke="#000" stroke-width="1.75" />
<line x1="141.7" y1="374.6" x2="141.7" y2="380.4" stroke="#000" stroke-width="2.0" />
<text x="141.8" y="392.7" font-size="11.6" text-anchor="middle" font-weight="normal" font-style="normal" fill="#000" stroke="#000" stroke-width="0.45" stroke-linejoin="round" >CD11b</text>
<rect x="177.2" y="297.9" width="12.9" height="76.7" fill="#fff" stroke="#000" stroke-width="2.2"/>
<line x1="183.5" y1="297.9" x2="183.5" y2="293.75" stroke="#000" stroke-width="1.75" />
<line x1="179.5" y1="293.75" x2="187.5" y2="293.75" stroke="#000" stroke-width="1.75" />
<rect x="195.1" y="338.1" width="15.3" height="36.5" fill="#000" stroke="none" stroke-width="0"/>
<line x1="202.75" y1="339.2" x2="202.75" y2="336.3" stroke="#000" stroke-width="1.75" />
<line x1="198.75" y1="336.3" x2="206.75" y2="336.3" stroke="#000" stroke-width="1.75" />
<line x1="193" y1="374.6" x2="193" y2="380.4" stroke="#000" stroke-width="2.0" />
<text x="193.1" y="392.7" font-size="11.6" text-anchor="middle" font-weight="normal" font-style="normal" fill="#000" stroke="#000" stroke-width="0.45" stroke-linejoin="round" >I-A/E</text>
<line x1="183.8" y1="288.4" x2="204.6" y2="288.4" stroke="#000" stroke-width="1.9" />
<text x="190.4" y="289.6" font-size="10.5" text-anchor="middle" font-weight="bold" font-style="normal" fill="#000" stroke="#000" stroke-width="0.7" stroke-linejoin="round" >*</text>
<text x="195.5" y="289.6" font-size="10.5" text-anchor="middle" font-weight="bold" font-style="normal" fill="#000" stroke="#000" stroke-width="0.7" stroke-linejoin="round" >*</text>
<text x="200.6" y="289.6" font-size="10.5" text-anchor="middle" font-weight="bold" font-style="normal" fill="#000" stroke="#000" stroke-width="0.7" stroke-linejoin="round" >*</text>
<rect x="71.45" y="221" width="17.6" height="10.4" fill="#fff" stroke="#000" stroke-width="2.3"/>
<rect x="70.3" y="237.8" width="19.9" height="12.7" fill="#000" stroke="none" stroke-width="0"/>
<text x="97.6" y="230.3" font-size="12.4" text-anchor="start" font-weight="normal" font-style="normal" fill="#000" stroke="#000" stroke-width="0.45" stroke-linejoin="round" >day 1</text>
<text x="97.6" y="247.7" font-size="12.4" text-anchor="start" font-weight="normal" font-style="normal" fill="#000" stroke="#000" stroke-width="0.45" stroke-linejoin="round" >day 5</text>
<text x="141.8" y="410.1" font-size="12.5" text-anchor="middle" font-weight="normal" font-style="normal" fill="#000" stroke="#000" stroke-width="0.45" stroke-linejoin="round" >Cell surface marker</text>
<text x="29" y="296" font-size="12.1" text-anchor="middle" font-weight="normal" font-style="normal" fill="#000" stroke="#000" stroke-width="0.45" stroke-linejoin="round" transform="rotate(-90 29 296)">MFI (fold day 1)</text>
<text x="234.8" y="229.4" font-size="17.5" text-anchor="start" font-weight="bold" font-style="normal" fill="#000" stroke="#000" stroke-width="0.45" stroke-linejoin="round" >D</text>
<line x1="289.1" y1="220.9" x2="289.1" y2="377" stroke="#000" stroke-width="2.2" />
<line x1="283.5" y1="375.9" x2="520" y2="375.9" stroke="#000" stroke-width="2.2" />
<line x1="283.5" y1="375.9" x2="289.1" y2="375.9" stroke="#000" stroke-width="2.0" />
<text x="282.6" y="379.8" font-size="11" text-anchor="end" font-weight="normal" font-style="normal" fill="#000" stroke="#000" stroke-width="0.45" stroke-linejoin="round" >0.0</text>
<line x1="283.5" y1="337.4" x2="289.1" y2="337.4" stroke="#000" stroke-width="2.0" />
<text x="282.6" y="341.3" font-size="11" text-anchor="end" font-weight="normal" font-style="normal" fill="#000" stroke="#000" stroke-width="0.45" stroke-linejoin="round" >0.5</text>
<line x1="283.5" y1="298.9" x2="289.1" y2="298.9" stroke="#000" stroke-width="2.0" />
<text x="282.6" y="302.8" font-size="11" text-anchor="end" font-weight="normal" font-style="normal" fill="#000" stroke="#000" stroke-width="0.45" stroke-linejoin="round" >1.0</text>
<line x1="283.5" y1="260.4" x2="289.1" y2="260.4" stroke="#000" stroke-width="2.0" />
<text x="282.6" y="264.3" font-size="11" text-anchor="end" font-weight="normal" font-style="normal" fill="#000" stroke="#000" stroke-width="0.45" stroke-linejoin="round" >1.5</text>
<line x1="283.5" y1="221.9" x2="289.1" y2="221.9" stroke="#000" stroke-width="2.0" />
<text x="282.6" y="225.8" font-size="11" text-anchor="end" font-weight="normal" font-style="normal" fill="#000" stroke="#000" stroke-width="0.45" stroke-linejoin="round" >2.0</text>
<rect x="297.9" y="298.8" width="11.6" height="77.1" fill="#fff" stroke="#000" stroke-width="2.2"/>
<line x1="303.7" y1="298.8" x2="303.7" y2="294.5" stroke="#000" stroke-width="1.75" />
<line x1="300.2" y1="294.5" x2="307.2" y2="294.5" stroke="#000" stroke-width="1.75" />
<rect x="314.1" y="290.6" width="13.8" height="85.3" fill="#000" stroke="none" stroke-width="0"/>
<line x1="321" y1="291.7" x2="321" y2="286.2" stroke="#000" stroke-width="1.75" />
<line x1="317.5" y1="286.2" x2="324.5" y2="286.2" stroke="#000" stroke-width="1.75" />
<line x1="312.35" y1="375.9" x2="312.35" y2="381" stroke="#000" stroke-width="2.0" />
<text x="312.35" y="393.5" font-size="11.2" text-anchor="middle" font-weight="normal" font-style="italic" fill="#000" stroke="#000" stroke-width="0.45" stroke-linejoin="round" >Emr1</text>
<rect x="344.1" y="299" width="11.6" height="76.9" fill="#fff" stroke="#000" stroke-width="2.2"/>
<line x1="349.9" y1="299" x2="349.9" y2="297" stroke="#000" stroke-width="1.75" />
<line x1="346.4" y1="297" x2="353.4" y2="297" stroke="#000" stroke-width="1.75" />
<rect x="360.3" y="297.1" width="13.8" height="78.8" fill="#000" stroke="none" stroke-width="0"/>
<line x1="367.2" y1="298.2" x2="367.2" y2="292.7" stroke="#000" stroke-width="1.75" />
<line x1="363.7" y1="292.7" x2="370.7" y2="292.7" stroke="#000" stroke-width="1.75" />
<line x1="358.55" y1="375.9" x2="358.55" y2="381" stroke="#000" stroke-width="2.0" />
<text x="358.55" y="393.5" font-size="11.2" text-anchor="middle" font-weight="normal" font-style="italic" fill="#000" stroke="#000" stroke-width="0.45" stroke-linejoin="round" >Itgam</text>
<rect x="390.3" y="298.4" width="11.6" height="77.5" fill="#fff" stroke="#000" stroke-width="2.2"/>
<line x1="396.1" y1="298.4" x2="396.1" y2="292.9" stroke="#000" stroke-width="1.75" />
<line x1="392.6" y1="292.9" x2="399.6" y2="292.9" stroke="#000" stroke-width="1.75" />
<rect x="406.5" y="281.6" width="13.8" height="94.3" fill="#000" stroke="none" stroke-width="0"/>
<line x1="413.4" y1="282.7" x2="413.4" y2="281" stroke="#000" stroke-width="1.75" />
<line x1="409.9" y1="281" x2="416.9" y2="281" stroke="#000" stroke-width="1.75" />
<line x1="404.75" y1="375.9" x2="404.75" y2="381" stroke="#000" stroke-width="2.0" />
<text x="404.75" y="393.5" font-size="11.2" text-anchor="middle" font-weight="normal" font-style="italic" fill="#000" stroke="#000" stroke-width="0.45" stroke-linejoin="round" >Pdx1</text>
<rect x="436.3" y="298.7" width="11.6" height="77.2" fill="#fff" stroke="#000" stroke-width="2.2"/>
<line x1="442.1" y1="298.7" x2="442.1" y2="293.4" stroke="#000" stroke-width="1.75" />
<line x1="438.6" y1="293.4" x2="445.6" y2="293.4" stroke="#000" stroke-width="1.75" />
<rect x="452.5" y="293.6" width="13.8" height="82.3" fill="#000" stroke="none" stroke-width="0"/>
<line x1="459.4" y1="294.7" x2="459.4" y2="289.3" stroke="#000" stroke-width="1.75" />
<line x1="455.9" y1="289.3" x2="462.9" y2="289.3" stroke="#000" stroke-width="1.75" />
<line x1="450.75" y1="375.9" x2="450.75" y2="381" stroke="#000" stroke-width="2.0" />
<text x="450.75" y="393.5" font-size="11.2" text-anchor="middle" font-weight="normal" font-style="italic" fill="#000" stroke="#000" stroke-width="0.45" stroke-linejoin="round" >Ins1</text>
<rect x="482.6" y="298.7" width="11.6" height="77.2" fill="#fff" stroke="#000" stroke-width="2.2"/>
<line x1="488.4" y1="298.7" x2="488.4" y2="293" stroke="#000" stroke-width="1.75" />
<line x1="484.9" y1="293" x2="491.9" y2="293" stroke="#000" stroke-width="1.75" />
<rect x="498.8" y="284.1" width="13.8" height="91.8" fill="#000" stroke="none" stroke-width="0"/>
<line x1="505.7" y1="285.2" x2="505.7" y2="280.2" stroke="#000" stroke-width="1.75" />
<line x1="502.2" y1="280.2" x2="509.2" y2="280.2" stroke="#000" stroke-width="1.75" />
<line x1="497.05" y1="375.9" x2="497.05" y2="381" stroke="#000" stroke-width="2.0" />
<text x="497.05" y="393.5" font-size="11.2" text-anchor="middle" font-weight="normal" font-style="italic" fill="#000" stroke="#000" stroke-width="0.45" stroke-linejoin="round" >Ins2</text>
<rect x="296.15" y="221.45" width="17.5" height="10.45" fill="#fff" stroke="#000" stroke-width="2.3"/>
<rect x="295" y="238" width="19.8" height="12.8" fill="#000" stroke="none" stroke-width="0"/>
<text x="322.6" y="231.1" font-size="12.4" text-anchor="start" font-weight="normal" font-style="normal" fill="#000" stroke="#000" stroke-width="0.45" stroke-linejoin="round" >day 1</text>
<text x="322.6" y="248.8" font-size="12.4" text-anchor="start" font-weight="normal" font-style="normal" fill="#000" stroke="#000" stroke-width="0.45" stroke-linejoin="round" >day 5</text>
<text x="405.4" y="410.8" font-size="12" text-anchor="middle" font-weight="normal" font-style="normal" fill="#000" stroke="#000" stroke-width="0.45" stroke-linejoin="round" >Gene</text>
<text x="245" y="297.2" font-size="12.7" text-anchor="middle" font-weight="normal" font-style="normal" fill="#000" stroke="#000" stroke-width="0.45" stroke-linejoin="round" transform="rotate(-90 245 297.2)">mRNA expression</text>
<text x="258" y="297.3" font-size="12.6" text-anchor="middle" font-weight="normal" font-style="normal" fill="#000" stroke="#000" stroke-width="0.45" stroke-linejoin="round" transform="rotate(-90 258 297.3)">(fold day 1)</text>
</g></svg>
</body></html>
